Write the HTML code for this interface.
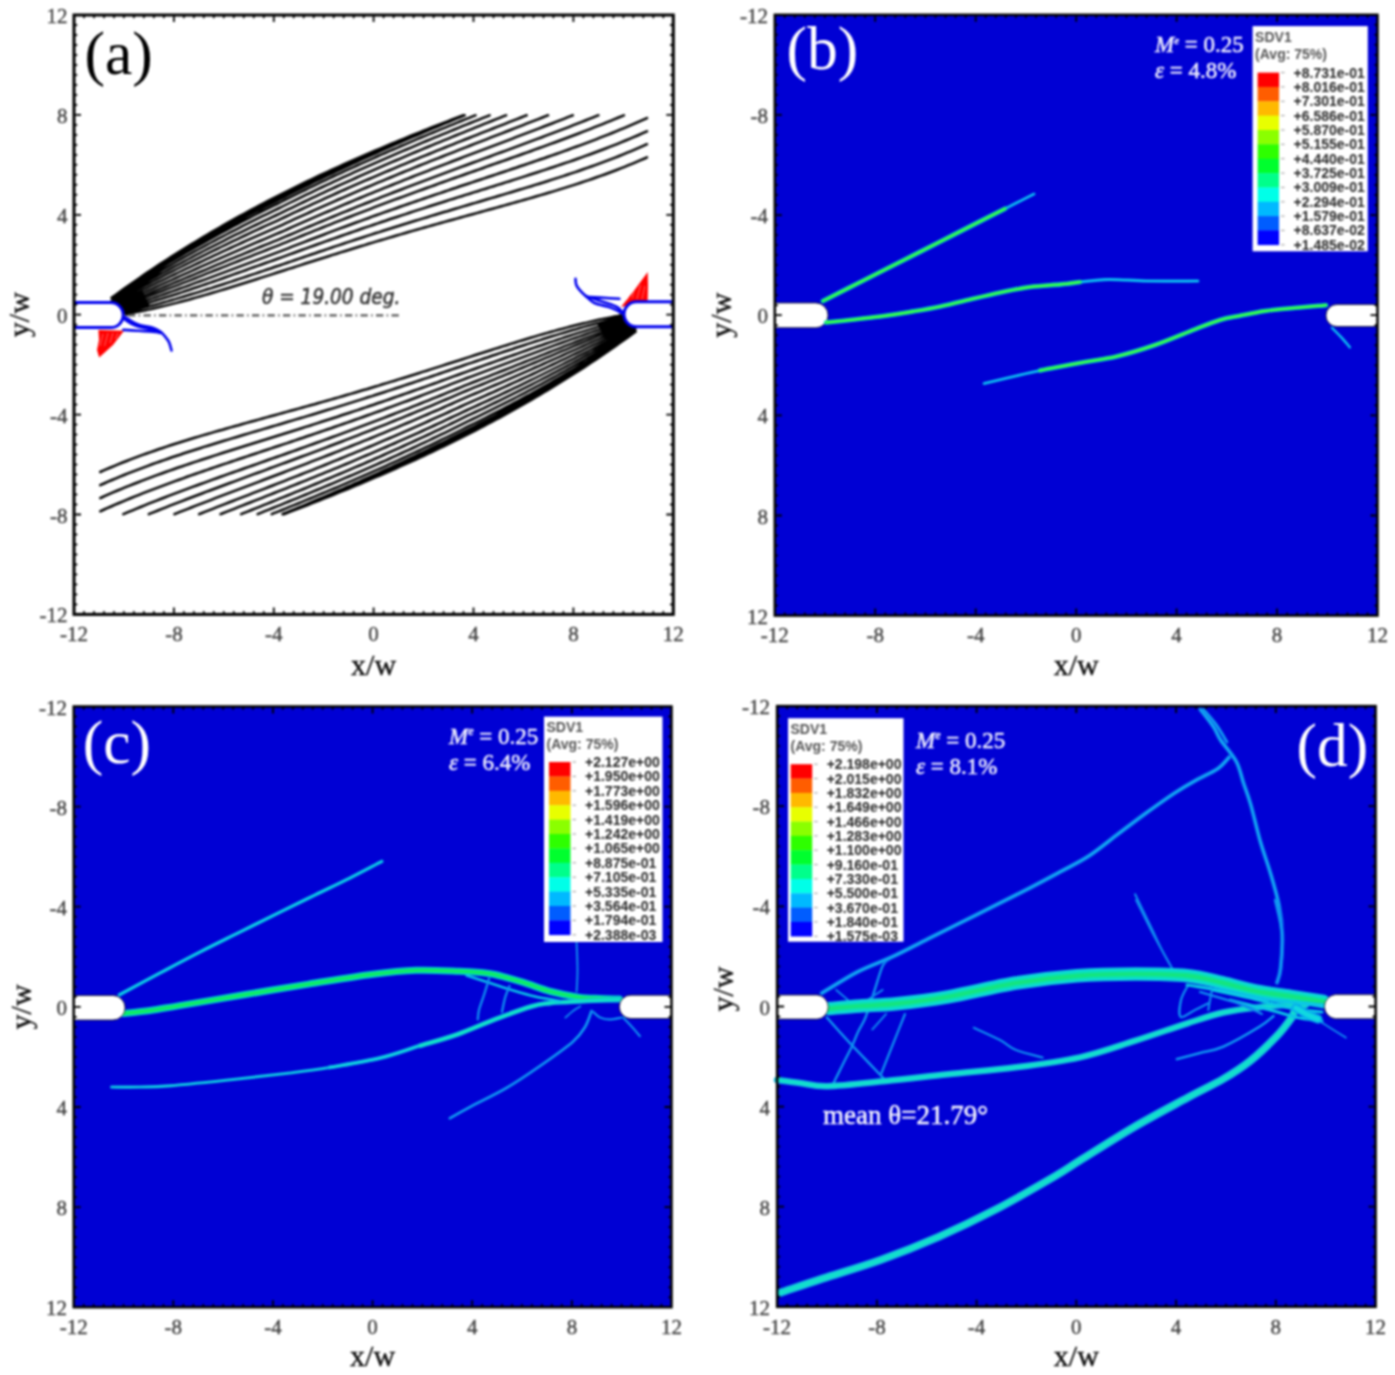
<!DOCTYPE html><html><head><meta charset="utf-8"><title>Figure</title><style>
html,body{margin:0;padding:0;background:#fff;}
body{width:1395px;height:1375px;overflow:hidden;}
svg{display:block;}
.wrap{width:1395px;height:1375px;background:#fff;filter:blur(0.9px);}
.tl text{font-family:"Liberation Serif",serif;font-size:21px;fill:#404040;stroke:#404040;stroke-width:0.35px;}
.at{font-family:"Liberation Serif",serif;font-size:30px;fill:#111;stroke:#111;stroke-width:0.4px;}
.pl{font-family:"Liberation Serif",serif;font-size:61.5px;fill:#000;}
.plw{fill:#fff;}
.th{font-family:"DejaVu Sans Condensed","DejaVu Sans",sans-serif;font-size:20.6px;font-style:italic;fill:#383838;stroke:#383838;stroke-width:0.55px;}
.lg{font-family:"Liberation Sans",sans-serif;font-size:14px;font-weight:bold;fill:#555;}
.lv text{font-family:"Liberation Sans",sans-serif;font-size:14px;font-weight:bold;fill:#2a2a2a;}
.me{font-family:"Liberation Serif",serif;font-size:23px;fill:#eeeeff;stroke:#eeeeff;stroke-width:0.5px;}
.me2{font-family:"Liberation Serif",serif;font-size:27px;fill:#f4f4ff;stroke:#f4f4ff;stroke-width:0.5px;}
</style></head><body><div class="wrap"><svg width="1395" height="1375" viewBox="0 0 1395 1375"><g id="pa">
<g fill="none" stroke="#000" stroke-width="2.5" stroke-linecap="round">
<path d="M111.5,297.8 L115.5,294.9 L119.5,292 L123.5,289.1 L127.5,286.3 L131.5,283.4 L135.5,280.7 L139.5,277.9 L143.5,275.1 L147.5,272.4 L151.5,269.7 L155.5,267.1 L159.5,264.4 L163.5,261.8 L167.5,259.2 L171.5,256.6 L175.5,254.1 L179.5,251.6 L183.5,249.1 L187.5,246.6 L191.5,244.1 L195.5,241.7 L199.5,239.2 L203.5,236.9 L207.5,234.5 L211.5,232.1 L215.5,229.8 L219.5,227.5 L223.5,225.2 L227.5,222.9 L231.5,220.7 L235.5,218.4 L239.5,216.2 L243.5,214 L247.5,211.8 L251.5,209.7 L255.5,207.5 L259.5,205.4 L263.5,203.3 L267.5,201.2 L271.5,199.1 L275.5,197.1 L279.5,195 L283.5,193 L287.5,191 L291.5,189 L295.5,187 L299.5,185.1 L303.5,183.1 L307.5,181.2 L311.5,179.3 L315.5,177.4 L319.5,175.5 L323.5,173.6 L327.5,171.8 L331.5,169.9 L335.5,168.1 L339.5,166.3 L343.5,164.5 L347.5,162.7 L351.5,160.9 L355.5,159.1 L359.5,157.4 L363.5,155.6 L367.5,153.9 L371.5,152.2 L375.5,150.5 L379.5,148.8 L383.5,147.1 L387.5,145.4 L391.5,143.7 L395.5,142.1 L399.5,140.4 L403.5,138.8 L407.5,137.2 L411.5,135.5 L415.5,133.9 L419.5,132.3 L423.5,130.7 L427.5,129.1 L431.5,127.5 L435.5,126 L439.5,124.4 L443.5,122.8 L447.5,121.3 L451.5,119.7 L455.5,118.2 L459.5,116.7 L463,115.3 M111.8,297.9 L115.8,295 L119.8,292.2 L123.8,289.4 L127.8,286.6 L131.8,283.8 L135.8,281 L139.8,278.3 L143.8,275.6 L147.8,272.9 L151.8,270.3 L155.8,267.7 L159.8,265.1 L163.8,262.5 L167.8,259.9 L171.8,257.4 L175.8,254.9 L179.8,252.4 L183.8,249.9 L187.8,247.4 L191.8,245 L195.8,242.6 L199.8,240.2 L203.8,237.8 L207.8,235.5 L211.8,233.1 L215.8,230.8 L219.8,228.5 L223.8,226.3 L227.8,224 L231.8,221.8 L235.8,219.6 L239.8,217.4 L243.8,215.2 L247.8,213 L251.8,210.9 L255.8,208.8 L259.8,206.7 L263.8,204.6 L267.8,202.5 L271.8,200.5 L275.8,198.4 L279.8,196.4 L283.8,194.4 L287.8,192.3 L291.8,190.3 L295.8,188.3 L299.8,186.4 L303.8,184.4 L307.8,182.4 L311.8,180.5 L315.8,178.6 L319.8,176.7 L323.8,174.8 L327.8,172.9 L331.8,171 L335.8,169.2 L339.8,167.3 L343.8,165.5 L347.8,163.7 L351.8,161.8 L355.8,160 L359.8,158.3 L363.8,156.5 L367.8,154.7 L371.8,153 L375.8,151.2 L379.8,149.5 L383.8,147.8 L387.8,146 L391.8,144.3 L395.8,142.6 L399.8,141 L403.8,139.3 L407.8,137.6 L411.8,135.9 L415.8,134.3 L419.8,132.6 L423.8,131 L427.8,129.4 L431.8,127.8 L435.8,126.1 L439.8,124.5 L443.8,122.9 L447.8,121.3 L451.8,119.7 L455.8,118.2 L459.8,116.6 L463.1,115.3 M112.2,298 L116.2,295.2 L120.2,292.4 L124.2,289.6 L128.2,286.9 L132.2,284.2 L136.2,281.5 L140.2,278.8 L144.2,276.1 L148.2,273.5 L152.2,270.9 L156.2,268.3 L160.2,265.7 L164.2,263.1 L168.2,260.6 L172.2,258.1 L176.2,255.6 L180.2,253.2 L184.2,250.7 L188.2,248.3 L192.2,245.9 L196.2,243.5 L200.2,241.1 L204.2,238.8 L208.2,236.5 L212.2,234.2 L216.2,231.9 L220.2,229.6 L224.2,227.4 L228.2,225.2 L232.2,222.9 L236.2,220.7 L240.2,218.6 L244.2,216.4 L248.2,214.3 L252.2,212.2 L256.2,210.1 L260.2,208 L264.2,205.9 L268.2,203.8 L272.2,201.8 L276.2,199.8 L280.2,197.8 L284.2,195.7 L288.2,193.7 L292.2,191.7 L296.2,189.6 L300.2,187.6 L304.2,185.7 L308.2,183.7 L312.2,181.7 L316.2,179.8 L320.2,177.9 L324.2,175.9 L328.2,174 L332.2,172.1 L336.2,170.3 L340.2,168.4 L344.2,166.5 L348.2,164.7 L352.2,162.8 L356.2,161 L360.2,159.2 L364.2,157.4 L368.2,155.6 L372.2,153.8 L376.2,152 L380.2,150.3 L384.2,148.5 L388.2,146.8 L392.2,145 L396.2,143.3 L400.2,141.6 L404.2,139.9 L408.2,138.2 L412.2,136.5 L416.2,134.8 L420.2,133.1 L424.2,131.5 L428.2,129.8 L432.2,128.1 L436.2,126.5 L440.2,124.8 L444.2,123.2 L448.2,121.6 L452.2,119.9 L456.2,118.3 L460.2,116.7 L463.6,115.3 M112.5,298.2 L116.5,295.4 L120.5,292.6 L124.5,289.9 L128.5,287.2 L132.5,284.5 L136.5,281.9 L140.5,279.2 L144.5,276.6 L148.5,274 L152.5,271.4 L156.5,268.9 L160.5,266.3 L164.5,263.8 L168.5,261.3 L172.5,258.9 L176.5,256.4 L180.5,254 L184.5,251.6 L188.5,249.2 L192.5,246.8 L196.5,244.4 L200.5,242.1 L204.5,239.8 L208.5,237.5 L212.5,235.2 L216.5,233 L220.5,230.7 L224.5,228.5 L228.5,226.3 L232.5,224.1 L236.5,221.9 L240.5,219.8 L244.5,217.6 L248.5,215.5 L252.5,213.4 L256.5,211.3 L260.5,209.3 L264.5,207.2 L268.5,205.2 L272.5,203.1 L276.5,201.1 L280.5,199.1 L284.5,197.1 L288.5,195 L292.5,193 L296.5,191 L300.5,188.9 L304.5,186.9 L308.5,185 L312.5,183 L316.5,181 L320.5,179.1 L324.5,177.1 L328.5,175.2 L332.5,173.3 L336.5,171.4 L340.5,169.5 L344.5,167.6 L348.5,165.8 L352.5,163.9 L356.5,162.1 L360.5,160.2 L364.5,158.4 L368.5,156.6 L372.5,154.8 L376.5,153 L380.5,151.2 L384.5,149.4 L388.5,147.6 L392.5,145.9 L396.5,144.1 L400.5,142.4 L404.5,140.6 L408.5,138.9 L412.5,137.2 L416.5,135.5 L420.5,133.8 L424.5,132.1 L428.5,130.4 L432.5,128.7 L436.5,127 L440.5,125.3 L444.5,123.6 L448.5,122 L452.5,120.3 L456.5,118.7 L460.5,117 L464.5,115.4 L464.7,115.3 M113.2,298.5 L117.2,295.8 L121.2,293.2 L125.2,290.5 L129.2,287.9 L133.2,285.3 L137.2,282.7 L141.2,280.2 L145.2,277.7 L149.2,275.1 L153.2,272.6 L157.2,270.2 L161.2,267.7 L165.2,265.3 L169.2,262.8 L173.2,260.4 L177.2,258 L181.2,255.7 L185.2,253.3 L189.2,251 L193.2,248.7 L197.2,246.4 L201.2,244.1 L205.2,241.8 L209.2,239.6 L213.2,237.4 L217.2,235.1 L221.2,233 L225.2,230.8 L229.2,228.6 L233.2,226.5 L237.2,224.3 L241.2,222.2 L245.2,220.1 L249.2,218.1 L253.2,216 L257.2,214 L261.2,211.9 L265.2,209.9 L269.2,207.9 L273.2,205.9 L277.2,204 L281.2,202 L285.2,199.9 L289.2,197.9 L293.2,195.9 L297.2,193.9 L301.2,191.9 L305.2,190 L309.2,188 L313.2,186.1 L317.2,184.1 L321.2,182.2 L325.2,180.3 L329.2,178.4 L333.2,176.5 L337.2,174.7 L341.2,172.8 L345.2,170.9 L349.2,169.1 L353.2,167.3 L357.2,165.5 L361.2,163.6 L365.2,161.8 L369.2,160.1 L373.2,158.3 L377.2,156.5 L381.2,154.7 L385.2,153 L389.2,151.2 L393.2,149.5 L397.2,147.8 L401.2,146 L405.2,144.3 L409.2,142.6 L413.2,140.9 L417.2,139.2 L421.2,137.5 L425.2,135.9 L429.2,134.2 L433.2,132.5 L437.2,130.9 L441.2,129.2 L445.2,127.6 L449.2,125.9 L453.2,124.3 L457.2,122.7 L461.2,121 L465.2,119.4 L469.2,117.8 L473.2,116.2 L475.5,115.3 M114.4,299.1 L118.4,296.5 L122.4,294 L126.4,291.6 L130.4,289.1 L134.4,286.6 L138.4,284.2 L142.4,281.8 L146.4,279.4 L150.4,277 L154.4,274.6 L158.4,272.3 L162.4,269.9 L166.4,267.6 L170.4,265.3 L174.4,263 L178.4,260.7 L182.4,258.4 L186.4,256.2 L190.4,253.9 L194.4,251.7 L198.4,249.5 L202.4,247.3 L206.4,245.1 L210.4,243 L214.4,240.8 L218.4,238.7 L222.4,236.6 L226.4,234.5 L230.4,232.4 L234.4,230.3 L238.4,228.3 L242.4,226.2 L246.4,224.2 L250.4,222.2 L254.4,220.2 L258.4,218.2 L262.4,216.2 L266.4,214.3 L270.4,212.3 L274.4,210.4 L278.4,208.5 L282.4,206.5 L286.4,204.5 L290.4,202.5 L294.4,200.6 L298.4,198.6 L302.4,196.6 L306.4,194.7 L310.4,192.8 L314.4,190.9 L318.4,188.9 L322.4,187 L326.4,185.2 L330.4,183.3 L334.4,181.4 L338.4,179.6 L342.4,177.7 L346.4,175.9 L350.4,174.1 L354.4,172.2 L358.4,170.4 L362.4,168.6 L366.4,166.9 L370.4,165.1 L374.4,163.3 L378.4,161.6 L382.4,159.8 L386.4,158.1 L390.4,156.3 L394.4,154.6 L398.4,152.9 L402.4,151.2 L406.4,149.5 L410.4,147.8 L414.4,146.1 L418.4,144.4 L422.4,142.7 L426.4,141 L430.4,139.4 L434.4,137.7 L438.4,136.1 L442.4,134.4 L446.4,132.8 L450.4,131.1 L454.4,129.5 L458.4,127.9 L462.4,126.2 L466.4,124.6 L470.4,123 L474.4,121.4 L478.4,119.8 L482.4,118.2 L486.4,116.6 L489.6,115.3 M115.7,299.8 L119.7,297.5 L123.7,295.2 L127.7,292.8 L131.7,290.5 L135.7,288.2 L139.7,286 L143.7,283.7 L147.7,281.4 L151.7,279.2 L155.7,276.9 L159.7,274.7 L163.7,272.5 L167.7,270.3 L171.7,268.1 L175.7,265.9 L179.7,263.8 L183.7,261.6 L187.7,259.5 L191.7,257.3 L195.7,255.2 L199.7,253.1 L203.7,251 L207.7,248.9 L211.7,246.9 L215.7,244.8 L219.7,242.8 L223.7,240.8 L227.7,238.7 L231.7,236.7 L235.7,234.7 L239.7,232.8 L243.7,230.8 L247.7,228.8 L251.7,226.9 L255.7,225 L259.7,223.1 L263.7,221.1 L267.7,219.3 L271.7,217.4 L275.7,215.5 L279.7,213.7 L283.7,211.7 L287.7,209.7 L291.7,207.8 L295.7,205.9 L299.7,203.9 L303.7,202 L307.7,200.1 L311.7,198.2 L315.7,196.3 L319.7,194.4 L323.7,192.6 L327.7,190.7 L331.7,188.9 L335.7,187 L339.7,185.2 L343.7,183.4 L347.7,181.6 L351.7,179.8 L355.7,178 L359.7,176.2 L363.7,174.4 L367.7,172.6 L371.7,170.9 L375.7,169.1 L379.7,167.4 L383.7,165.6 L387.7,163.9 L391.7,162.2 L395.7,160.5 L399.7,158.8 L403.7,157.1 L407.7,155.4 L411.7,153.7 L415.7,152 L419.7,150.4 L423.7,148.7 L427.7,147 L431.7,145.4 L435.7,143.7 L439.7,142.1 L443.7,140.4 L447.7,138.8 L451.7,137.2 L455.7,135.5 L459.7,133.9 L463.7,132.3 L467.7,130.7 L471.7,129.1 L475.7,127.4 L479.7,125.8 L483.7,124.2 L487.7,122.6 L491.7,121 L495.7,119.4 L499.7,117.8 L503.7,116.2 L506.1,115.3 M117,300.7 L121,298.5 L125,296.4 L129,294.2 L133,292.1 L137,290 L141,287.8 L145,285.7 L149,283.6 L153,281.5 L157,279.4 L161,277.3 L165,275.2 L169,273.2 L173,271.1 L177,269 L181,267 L185,264.9 L189,262.9 L193,260.9 L197,258.9 L201,256.9 L205,254.9 L209,252.9 L213,250.9 L217,249 L221,247 L225,245.1 L229,243.1 L233,241.2 L237,239.3 L241,237.4 L245,235.5 L249,233.6 L253,231.7 L257,229.9 L261,228 L265,226.2 L269,224.4 L273,222.6 L277,220.8 L281,218.9 L285,217 L289,215.1 L293,213.2 L297,211.4 L301,209.5 L305,207.6 L309,205.8 L313,203.9 L317,202.1 L321,200.3 L325,198.4 L329,196.6 L333,194.8 L337,193 L341,191.2 L345,189.5 L349,187.7 L353,185.9 L357,184.2 L361,182.4 L365,180.7 L369,179 L373,177.3 L377,175.6 L381,173.9 L385,172.2 L389,170.5 L393,168.8 L397,167.1 L401,165.4 L405,163.8 L409,162.1 L413,160.5 L417,158.8 L421,157.2 L425,155.6 L429,154 L433,152.3 L437,150.7 L441,149.1 L445,147.5 L449,145.9 L453,144.3 L457,142.7 L461,141.1 L465,139.5 L469,138 L473,136.4 L477,134.8 L481,133.2 L485,131.6 L489,130.1 L493,128.5 L497,126.9 L501,125.4 L505,123.8 L509,122.2 L513,120.6 L517,119.1 L521,117.5 L525,115.9 L526.7,115.3 M118.4,301.8 L122.4,299.9 L126.4,297.9 L130.4,295.9 L134.4,294 L138.4,292 L142.4,290 L146.4,288.1 L150.4,286.1 L154.4,284.2 L158.4,282.2 L162.4,280.3 L166.4,278.3 L170.4,276.4 L174.4,274.5 L178.4,272.5 L182.4,270.6 L186.4,268.7 L190.4,266.8 L194.4,264.9 L198.4,263 L202.4,261.1 L206.4,259.2 L210.4,257.3 L214.4,255.4 L218.4,253.6 L222.4,251.7 L226.4,249.9 L230.4,248 L234.4,246.2 L238.4,244.4 L242.4,242.5 L246.4,240.7 L250.4,238.9 L254.4,237.1 L258.4,235.4 L262.4,233.6 L266.4,231.8 L270.4,230.1 L274.4,228.3 L278.4,226.6 L282.4,224.8 L286.4,222.9 L290.4,221.1 L294.4,219.2 L298.4,217.4 L302.4,215.6 L306.4,213.8 L310.4,212 L314.4,210.2 L318.4,208.4 L322.4,206.6 L326.4,204.8 L330.4,203.1 L334.4,201.3 L338.4,199.5 L342.4,197.8 L346.4,196.1 L350.4,194.3 L354.4,192.6 L358.4,190.9 L362.4,189.2 L366.4,187.5 L370.4,185.8 L374.4,184.1 L378.4,182.4 L382.4,180.8 L386.4,179.1 L390.4,177.5 L394.4,175.8 L398.4,174.2 L402.4,172.5 L406.4,170.9 L410.4,169.3 L414.4,167.7 L418.4,166 L422.4,164.4 L426.4,162.8 L430.4,161.2 L434.4,159.6 L438.4,158.1 L442.4,156.5 L446.4,154.9 L450.4,153.3 L454.4,151.8 L458.4,150.2 L462.4,148.6 L466.4,147.1 L470.4,145.5 L474.4,143.9 L478.4,142.4 L482.4,140.8 L486.4,139.3 L490.4,137.7 L494.4,136.2 L498.4,134.6 L502.4,133.1 L506.4,131.5 L510.4,130 L514.4,128.4 L518.4,126.9 L522.4,125.3 L526.4,123.7 L530.4,122.2 L534.4,120.6 L538.4,119.1 L542.4,117.5 L546.4,115.9 L548.1,115.3 M119.9,303.1 L123.9,301.3 L127.9,299.5 L131.9,297.8 L135.9,296 L139.9,294.2 L143.9,292.4 L147.9,290.6 L151.9,288.8 L155.9,287 L159.9,285.2 L163.9,283.4 L167.9,281.6 L171.9,279.8 L175.9,278 L179.9,276.2 L183.9,274.4 L187.9,272.6 L191.9,270.8 L195.9,269 L199.9,267.2 L203.9,265.4 L207.9,263.6 L211.9,261.9 L215.9,260.1 L219.9,258.3 L223.9,256.6 L227.9,254.8 L231.9,253.1 L235.9,251.3 L239.9,249.6 L243.9,247.8 L247.9,246.1 L251.9,244.4 L255.9,242.7 L259.9,241 L263.9,239.3 L267.9,237.6 L271.9,235.9 L275.9,234.2 L279.9,232.5 L283.9,230.8 L287.9,229 L291.9,227.2 L295.9,225.4 L299.9,223.7 L303.9,221.9 L307.9,220.1 L311.9,218.4 L315.9,216.7 L319.9,214.9 L323.9,213.2 L327.9,211.5 L331.9,209.8 L335.9,208.1 L339.9,206.4 L343.9,204.7 L347.9,203 L351.9,201.3 L355.9,199.7 L359.9,198 L363.9,196.3 L367.9,194.7 L371.9,193.1 L375.9,191.4 L379.9,189.8 L383.9,188.2 L387.9,186.6 L391.9,185 L395.9,183.4 L399.9,181.8 L403.9,180.2 L407.9,178.6 L411.9,177 L415.9,175.4 L419.9,173.9 L423.9,172.3 L427.9,170.8 L431.9,169.2 L435.9,167.7 L439.9,166.1 L443.9,164.6 L447.9,163.1 L451.9,161.5 L455.9,160 L459.9,158.5 L463.9,156.9 L467.9,155.4 L471.9,153.9 L475.9,152.4 L479.9,150.9 L483.9,149.4 L487.9,147.8 L491.9,146.3 L495.9,144.8 L499.9,143.3 L503.9,141.8 L507.9,140.3 L511.9,138.8 L515.9,137.2 L519.9,135.7 L523.9,134.2 L527.9,132.7 L531.9,131.2 L535.9,129.6 L539.9,128.1 L543.9,126.5 L547.9,125 L551.9,123.5 L555.9,121.9 L559.9,120.3 L563.9,118.8 L567.9,117.2 L571.9,115.6 L572.8,115.3 M121.3,304.5 L125.3,302.9 L129.3,301.3 L133.3,299.7 L137.3,298.1 L141.3,296.4 L145.3,294.8 L149.3,293.2 L153.3,291.5 L157.3,289.9 L161.3,288.2 L165.3,286.5 L169.3,284.9 L173.3,283.2 L177.3,281.5 L181.3,279.8 L185.3,278.2 L189.3,276.5 L193.3,274.8 L197.3,273.1 L201.3,271.5 L205.3,269.8 L209.3,268.1 L213.3,266.4 L217.3,264.7 L221.3,263.1 L225.3,261.4 L229.3,259.7 L233.3,258.1 L237.3,256.4 L241.3,254.8 L245.3,253.1 L249.3,251.5 L253.3,249.8 L257.3,248.2 L261.3,246.5 L265.3,244.9 L269.3,243.3 L273.3,241.7 L277.3,240.1 L281.3,238.4 L285.3,236.7 L289.3,235 L293.3,233.3 L297.3,231.6 L301.3,229.9 L305.3,228.2 L309.3,226.5 L313.3,224.8 L317.3,223.1 L321.3,221.5 L325.3,219.8 L329.3,218.2 L333.3,216.5 L337.3,214.9 L341.3,213.2 L345.3,211.6 L349.3,210 L353.3,208.4 L357.3,206.7 L361.3,205.1 L365.3,203.5 L369.3,202 L373.3,200.4 L377.3,198.8 L381.3,197.2 L385.3,195.7 L389.3,194.1 L393.3,192.5 L397.3,191 L401.3,189.5 L405.3,187.9 L409.3,186.4 L413.3,184.9 L417.3,183.4 L421.3,181.8 L425.3,180.3 L429.3,178.8 L433.3,177.3 L437.3,175.8 L441.3,174.3 L445.3,172.9 L449.3,171.4 L453.3,169.9 L457.3,168.4 L461.3,166.9 L465.3,165.5 L469.3,164 L473.3,162.5 L477.3,161.1 L481.3,159.6 L485.3,158.1 L489.3,156.7 L493.3,155.2 L497.3,153.7 L501.3,152.3 L505.3,150.8 L509.3,149.3 L513.3,147.8 L517.3,146.4 L521.3,144.9 L525.3,143.4 L529.3,141.9 L533.3,140.4 L537.3,138.9 L541.3,137.5 L545.3,135.9 L549.3,134.4 L553.3,132.9 L557.3,131.4 L561.3,129.9 L565.3,128.3 L569.3,126.8 L573.3,125.2 L577.3,123.7 L581.3,122.1 L585.3,120.5 L589.3,118.9 L593.3,117.3 L597.3,115.7 L598.4,115.3 M122.6,305.9 L126.6,304.4 L130.6,303 L134.6,301.5 L138.6,300 L142.6,298.6 L146.6,297.1 L150.6,295.5 L154.6,294 L158.6,292.5 L162.6,291 L166.6,289.4 L170.6,287.9 L174.6,286.3 L178.6,284.8 L182.6,283.2 L186.6,281.6 L190.6,280.1 L194.6,278.5 L198.6,276.9 L202.6,275.3 L206.6,273.7 L210.6,272.1 L214.6,270.5 L218.6,269 L222.6,267.4 L226.6,265.8 L230.6,264.2 L234.6,262.6 L238.6,261 L242.6,259.4 L246.6,257.9 L250.6,256.3 L254.6,254.7 L258.6,253.1 L262.6,251.6 L266.6,250 L270.6,248.4 L274.6,246.9 L278.6,245.3 L282.6,243.7 L286.6,242.1 L290.6,240.4 L294.6,238.8 L298.6,237.2 L302.6,235.5 L306.6,233.9 L310.6,232.3 L314.6,230.7 L318.6,229.1 L322.6,227.5 L326.6,225.9 L330.6,224.3 L334.6,222.7 L338.6,221.1 L342.6,219.6 L346.6,218 L350.6,216.5 L354.6,214.9 L358.6,213.4 L362.6,211.8 L366.6,210.3 L370.6,208.8 L374.6,207.2 L378.6,205.7 L382.6,204.2 L386.6,202.7 L390.6,201.2 L394.6,199.7 L398.6,198.3 L402.6,196.8 L406.6,195.3 L410.6,193.8 L414.6,192.4 L418.6,190.9 L422.6,189.5 L426.6,188 L430.6,186.6 L434.6,185.2 L438.6,183.7 L442.6,182.3 L446.6,180.9 L450.6,179.4 L454.6,178 L458.6,176.6 L462.6,175.2 L466.6,173.8 L470.6,172.4 L474.6,171 L478.6,169.6 L482.6,168.2 L486.6,166.7 L490.6,165.3 L494.6,163.9 L498.6,162.5 L502.6,161.1 L506.6,159.7 L510.6,158.3 L514.6,156.9 L518.6,155.5 L522.6,154 L526.6,152.6 L530.6,151.2 L534.6,149.7 L538.6,148.3 L542.6,146.8 L546.6,145.4 L550.6,143.9 L554.6,142.5 L558.6,141 L562.6,139.5 L566.6,138 L570.6,136.5 L574.6,135 L578.6,133.5 L582.6,131.9 L586.6,130.4 L590.6,128.8 L594.6,127.2 L598.6,125.7 L602.6,124.1 L606.6,122.4 L610.6,120.8 L614.6,119.1 L618.6,117.5 L622.6,115.8 L623.9,115.3 M124.1,307.5 L128.1,306.3 L132.1,305 L136.1,303.7 L140.1,302.4 L144.1,301.1 L148.1,299.7 L152.1,298.4 L156.1,297 L160.1,295.6 L164.1,294.2 L168.1,292.8 L172.1,291.4 L176.1,290 L180.1,288.5 L184.1,287.1 L188.1,285.7 L192.1,284.2 L196.1,282.7 L200.1,281.3 L204.1,279.8 L208.1,278.3 L212.1,276.8 L216.1,275.3 L220.1,273.8 L224.1,272.3 L228.1,270.8 L232.1,269.3 L236.1,267.8 L240.1,266.3 L244.1,264.8 L248.1,263.3 L252.1,261.8 L256.1,260.3 L260.1,258.8 L264.1,257.3 L268.1,255.8 L272.1,254.3 L276.1,252.8 L280.1,251.4 L284.1,249.8 L288.1,248.3 L292.1,246.7 L296.1,245.2 L300.1,243.6 L304.1,242.1 L308.1,240.5 L312.1,239 L316.1,237.5 L320.1,236 L324.1,234.5 L328.1,232.9 L332.1,231.4 L336.1,229.9 L340.1,228.4 L344.1,227 L348.1,225.5 L352.1,224 L356.1,222.5 L360.1,221.1 L364.1,219.6 L368.1,218.2 L372.1,216.7 L376.1,215.3 L380.1,213.9 L384.1,212.4 L388.1,211 L392.1,209.6 L396.1,208.2 L400.1,206.8 L404.1,205.4 L408.1,204 L412.1,202.6 L416.1,201.2 L420.1,199.9 L424.1,198.5 L428.1,197.1 L432.1,195.8 L436.1,194.4 L440.1,193.1 L444.1,191.7 L448.1,190.4 L452.1,189 L456.1,187.7 L460.1,186.3 L464.1,185 L468.1,183.7 L472.1,182.4 L476.1,181 L480.1,179.7 L484.1,178.4 L488.1,177 L492.1,175.7 L496.1,174.4 L500.1,173 L504.1,171.7 L508.1,170.4 L512.1,169 L516.1,167.7 L520.1,166.3 L524.1,165 L528.1,163.6 L532.1,162.3 L536.1,160.9 L540.1,159.5 L544.1,158.2 L548.1,156.8 L552.1,155.4 L556.1,154 L560.1,152.6 L564.1,151.1 L568.1,149.7 L572.1,148.2 L576.1,146.8 L580.1,145.3 L584.1,143.8 L588.1,142.3 L592.1,140.8 L596.1,139.3 L600.1,137.7 L604.1,136.2 L608.1,134.6 L612.1,133 L616.1,131.4 L620.1,129.7 L624.1,128.1 L628.1,126.4 L632.1,124.7 L636.1,122.9 L640.1,121.2 L644.1,119.4 L647,118.1 M125.6,309.3 L129.6,308.2 L133.6,307.1 L137.6,306 L141.6,304.8 L145.6,303.7 L149.6,302.5 L153.6,301.3 L157.6,300 L161.6,298.8 L165.6,297.5 L169.6,296.3 L173.6,295 L177.6,293.7 L181.6,292.4 L185.6,291 L189.6,289.7 L193.6,288.3 L197.6,287 L201.6,285.6 L205.6,284.2 L209.6,282.9 L213.6,281.5 L217.6,280.1 L221.6,278.7 L225.6,277.3 L229.6,275.8 L233.6,274.4 L237.6,273 L241.6,271.6 L245.6,270.2 L249.6,268.7 L253.6,267.3 L257.6,265.9 L261.6,264.5 L265.6,263 L269.6,261.6 L273.6,260.2 L277.6,258.8 L281.6,257.3 L285.6,255.9 L289.6,254.4 L293.6,253 L297.6,251.5 L301.6,250 L305.6,248.6 L309.6,247.1 L313.6,245.7 L317.6,244.3 L321.6,242.8 L325.6,241.4 L329.6,240 L333.6,238.6 L337.6,237.2 L341.6,235.8 L345.6,234.4 L349.6,233 L353.6,231.6 L357.6,230.2 L361.6,228.8 L365.6,227.4 L369.6,226.1 L373.6,224.7 L377.6,223.4 L381.6,222 L385.6,220.7 L389.6,219.3 L393.6,218 L397.6,216.7 L401.6,215.4 L405.6,214.1 L409.6,212.7 L413.6,211.4 L417.6,210.1 L421.6,208.9 L425.6,207.6 L429.6,206.3 L433.6,205 L437.6,203.7 L441.6,202.5 L445.6,201.2 L449.6,199.9 L453.6,198.7 L457.6,197.4 L461.6,196.2 L465.6,194.9 L469.6,193.7 L473.6,192.4 L477.6,191.2 L481.6,189.9 L485.6,188.7 L489.6,187.4 L493.6,186.2 L497.6,184.9 L501.6,183.7 L505.6,182.4 L509.6,181.2 L513.6,179.9 L517.6,178.6 L521.6,177.4 L525.6,176.1 L529.6,174.8 L533.6,173.5 L537.6,172.2 L541.6,170.9 L545.6,169.6 L549.6,168.3 L553.6,167 L557.6,165.6 L561.6,164.3 L565.6,162.9 L569.6,161.6 L573.6,160.2 L577.6,158.8 L581.6,157.4 L585.6,155.9 L589.6,154.5 L593.6,153 L597.6,151.5 L601.6,150 L605.6,148.5 L609.6,146.9 L613.6,145.4 L617.6,143.8 L621.6,142.2 L625.6,140.5 L629.6,138.9 L633.6,137.2 L637.6,135.5 L641.6,133.7 L645.6,131.9 L647,131.3 M127.2,311.5 L131.2,310.6 L135.2,309.6 L139.2,308.7 L143.2,307.7 L147.2,306.7 L151.2,305.7 L155.2,304.7 L159.2,303.6 L163.2,302.5 L167.2,301.4 L171.2,300.2 L175.2,299.1 L179.2,297.9 L183.2,296.7 L187.2,295.5 L191.2,294.3 L195.2,293.1 L199.2,291.9 L203.2,290.6 L207.2,289.3 L211.2,288.1 L215.2,286.8 L219.2,285.5 L223.2,284.2 L227.2,282.9 L231.2,281.6 L235.2,280.2 L239.2,278.9 L243.2,277.6 L247.2,276.3 L251.2,274.9 L255.2,273.6 L259.2,272.2 L263.2,270.9 L267.2,269.5 L271.2,268.2 L275.2,266.8 L279.2,265.5 L283.2,264.1 L287.2,262.7 L291.2,261.4 L295.2,260 L299.2,258.6 L303.2,257.3 L307.2,255.9 L311.2,254.5 L315.2,253.2 L319.2,251.8 L323.2,250.5 L327.2,249.1 L331.2,247.8 L335.2,246.4 L339.2,245.1 L343.2,243.8 L347.2,242.4 L351.2,241.1 L355.2,239.8 L359.2,238.5 L363.2,237.2 L367.2,235.9 L371.2,234.6 L375.2,233.3 L379.2,232.1 L383.2,230.8 L387.2,229.5 L391.2,228.3 L395.2,227 L399.2,225.8 L403.2,224.5 L407.2,223.3 L411.2,222 L415.2,220.8 L419.2,219.6 L423.2,218.4 L427.2,217.2 L431.2,215.9 L435.2,214.7 L439.2,213.5 L443.2,212.3 L447.2,211.2 L451.2,210 L455.2,208.8 L459.2,207.6 L463.2,206.4 L467.2,205.2 L471.2,204 L475.2,202.9 L479.2,201.7 L483.2,200.5 L487.2,199.3 L491.2,198.1 L495.2,197 L499.2,195.8 L503.2,194.6 L507.2,193.4 L511.2,192.2 L515.2,191 L519.2,189.8 L523.2,188.6 L527.2,187.4 L531.2,186.2 L535.2,184.9 L539.2,183.7 L543.2,182.5 L547.2,181.2 L551.2,179.9 L555.2,178.6 L559.2,177.4 L563.2,176.1 L567.2,174.7 L571.2,173.4 L575.2,172.1 L579.2,170.7 L583.2,169.3 L587.2,167.9 L591.2,166.5 L595.2,165.1 L599.2,163.6 L603.2,162.1 L607.2,160.6 L611.2,159.1 L615.2,157.6 L619.2,156 L623.2,154.4 L627.2,152.7 L631.2,151.1 L635.2,149.4 L639.2,147.7 L643.2,145.9 L647,144.2 M128.6,313.5 L132.6,312.8 L136.6,312 L140.6,311.2 L144.6,310.4 L148.6,309.6 L152.6,308.7 L156.6,307.8 L160.6,306.8 L164.6,305.9 L168.6,304.9 L172.6,303.9 L176.6,302.9 L180.6,301.8 L184.6,300.7 L188.6,299.7 L192.6,298.5 L196.6,297.4 L200.6,296.3 L204.6,295.1 L208.6,294 L212.6,292.8 L216.6,291.6 L220.6,290.4 L224.6,289.2 L228.6,288 L232.6,286.7 L236.6,285.5 L240.6,284.2 L244.6,283 L248.6,281.7 L252.6,280.5 L256.6,279.2 L260.6,277.9 L264.6,276.6 L268.6,275.4 L272.6,274.1 L276.6,272.8 L280.6,271.5 L284.6,270.2 L288.6,268.9 L292.6,267.7 L296.6,266.4 L300.6,265.1 L304.6,263.8 L308.6,262.5 L312.6,261.3 L316.6,260 L320.6,258.7 L324.6,257.5 L328.6,256.2 L332.6,254.9 L336.6,253.7 L340.6,252.4 L344.6,251.2 L348.6,250 L352.6,248.7 L356.6,247.5 L360.6,246.3 L364.6,245.1 L368.6,243.8 L372.6,242.6 L376.6,241.4 L380.6,240.2 L384.6,239.1 L388.6,237.9 L392.6,236.7 L396.6,235.5 L400.6,234.4 L404.6,233.2 L408.6,232 L412.6,230.9 L416.6,229.8 L420.6,228.6 L424.6,227.5 L428.6,226.4 L432.6,225.2 L436.6,224.1 L440.6,223 L444.6,221.9 L448.6,220.8 L452.6,219.7 L456.6,218.6 L460.6,217.5 L464.6,216.4 L468.6,215.3 L472.6,214.2 L476.6,213.1 L480.6,212 L484.6,210.9 L488.6,209.8 L492.6,208.7 L496.6,207.6 L500.6,206.5 L504.6,205.4 L508.6,204.2 L512.6,203.1 L516.6,202 L520.6,200.9 L524.6,199.7 L528.6,198.6 L532.6,197.5 L536.6,196.3 L540.6,195.1 L544.6,194 L548.6,192.8 L552.6,191.6 L556.6,190.4 L560.6,189.1 L564.6,187.9 L568.6,186.6 L572.6,185.4 L576.6,184.1 L580.6,182.8 L584.6,181.4 L588.6,180.1 L592.6,178.7 L596.6,177.3 L600.6,175.9 L604.6,174.5 L608.6,173 L612.6,171.5 L616.6,170 L620.6,168.4 L624.6,166.9 L628.6,165.2 L632.6,163.6 L636.6,161.9 L640.6,160.2 L644.6,158.5 L647,157.4"/>
<path d="M111.5,297.8 L115.5,294.9 L119.5,292 L123.5,289.1 L127.5,286.3 L131.5,283.4 L135.5,280.7 L139.5,277.9 L143.5,275.1 L147.5,272.4 L151.5,269.7 L155.5,267.1 L159.5,264.4 L163.5,261.8 L167.5,259.2 L171.5,256.6 L175.5,254.1 L179.5,251.6 L183.5,249.1 L187.5,246.6 L191.5,244.1 L195.5,241.7 L199.5,239.2 L203.5,236.9 L207.5,234.5 L211.5,232.1 L215.5,229.8 L219.5,227.5 L223.5,225.2 L227.5,222.9 L231.5,220.7 L235.5,218.4 L239.5,216.2 L243.5,214 L247.5,211.8 L251.5,209.7 L255.5,207.5 L259.5,205.4 L263.5,203.3 L267.5,201.2 L271.5,199.1 L275.5,197.1 L279.5,195 L283.5,193 L287.5,191 L291.5,189 L295.5,187 L299.5,185.1 L303.5,183.1 L307.5,181.2 L311.5,179.3 L315.5,177.4 L319.5,175.5 L323.5,173.6 L327.5,171.8 L331.5,169.9 L335.5,168.1 L339.5,166.3 L343.5,164.5 L347.5,162.7 L351.5,160.9 L355.5,159.1 L359.5,157.4 L363.5,155.6 L367.5,153.9 L371.5,152.2 L375.5,150.5 L379.5,148.8 L383.5,147.1 L387.5,145.4 L391.5,143.7 L395.5,142.1 L399.5,140.4 L403.5,138.8 L407.5,137.2 L411.5,135.5 L415.5,133.9 L419.5,132.3 L423.5,130.7 L427.5,129.1 L431.5,127.5 L435.5,126 L439.5,124.4 L443.5,122.8 L447.5,121.3 L451.5,119.7 L455.5,118.2 L459.5,116.7 L463,115.3 M111.8,297.9 L115.8,295 L119.8,292.2 L123.8,289.4 L127.8,286.6 L131.8,283.8 L135.8,281 L139.8,278.3 L143.8,275.6 L147.8,272.9 L151.8,270.3 L155.8,267.7 L159.8,265.1 L163.8,262.5 L167.8,259.9 L171.8,257.4 L175.8,254.9 L179.8,252.4 L183.8,249.9 L187.8,247.4 L191.8,245 L195.8,242.6 L199.8,240.2 L203.8,237.8 L207.8,235.5 L211.8,233.1 L215.8,230.8 L219.8,228.5 L223.8,226.3 L227.8,224 L231.8,221.8 L235.8,219.6 L239.8,217.4 L243.8,215.2 L247.8,213 L251.8,210.9 L255.8,208.8 L259.8,206.7 L263.8,204.6 L267.8,202.5 L271.8,200.5 L275.8,198.4 L279.8,196.4 L283.8,194.4 L287.8,192.3 L291.8,190.3 L295.8,188.3 L299.8,186.4 L303.8,184.4 L307.8,182.4 L311.8,180.5 L315.8,178.6 L319.8,176.7 L323.8,174.8 L327.8,172.9 L331.8,171 L335.8,169.2 L339.8,167.3 L343.8,165.5 L347.8,163.7 L351.8,161.8 L355.8,160 L359.8,158.3 L363.8,156.5 L367.8,154.7 L371.8,153 L375.8,151.2 L379.8,149.5 L383.8,147.8 L387.8,146 L391.8,144.3 L395.8,142.6 L399.8,141 L403.8,139.3 L407.8,137.6 L411.8,135.9 L415.8,134.3 L419.8,132.6 L423.8,131 L427.8,129.4 L431.8,127.8 L435.8,126.1 L439.8,124.5 L443.8,122.9 L447.8,121.3 L451.8,119.7 L455.8,118.2 L459.8,116.6 L463.1,115.3 M112.2,298 L116.2,295.2 L120.2,292.4 L124.2,289.6 L128.2,286.9 L132.2,284.2 L136.2,281.5 L140.2,278.8 L144.2,276.1 L148.2,273.5 L152.2,270.9 L156.2,268.3 L160.2,265.7 L164.2,263.1 L168.2,260.6 L172.2,258.1 L176.2,255.6 L180.2,253.2 L184.2,250.7 L188.2,248.3 L192.2,245.9 L196.2,243.5 L200.2,241.1 L204.2,238.8 L208.2,236.5 L212.2,234.2 L216.2,231.9 L220.2,229.6 L224.2,227.4 L228.2,225.2 L232.2,222.9 L236.2,220.7 L240.2,218.6 L244.2,216.4 L248.2,214.3 L252.2,212.2 L256.2,210.1 L260.2,208 L264.2,205.9 L268.2,203.8 L272.2,201.8 L276.2,199.8 L280.2,197.8 L284.2,195.7 L288.2,193.7 L292.2,191.7 L296.2,189.6 L300.2,187.6 L304.2,185.7 L308.2,183.7 L312.2,181.7 L316.2,179.8 L320.2,177.9 L324.2,175.9 L328.2,174 L332.2,172.1 L336.2,170.3 L340.2,168.4 L344.2,166.5 L348.2,164.7 L352.2,162.8 L356.2,161 L360.2,159.2 L364.2,157.4 L368.2,155.6 L372.2,153.8 L376.2,152 L380.2,150.3 L384.2,148.5 L388.2,146.8 L392.2,145 L396.2,143.3 L400.2,141.6 L404.2,139.9 L408.2,138.2 L412.2,136.5 L416.2,134.8 L420.2,133.1 L424.2,131.5 L428.2,129.8 L432.2,128.1 L436.2,126.5 L440.2,124.8 L444.2,123.2 L448.2,121.6 L452.2,119.9 L456.2,118.3 L460.2,116.7 L463.6,115.3 M112.5,298.2 L116.5,295.4 L120.5,292.6 L124.5,289.9 L128.5,287.2 L132.5,284.5 L136.5,281.9 L140.5,279.2 L144.5,276.6 L148.5,274 L152.5,271.4 L156.5,268.9 L160.5,266.3 L164.5,263.8 L168.5,261.3 L172.5,258.9 L176.5,256.4 L180.5,254 L184.5,251.6 L188.5,249.2 L192.5,246.8 L196.5,244.4 L200.5,242.1 L204.5,239.8 L208.5,237.5 L212.5,235.2 L216.5,233 L220.5,230.7 L224.5,228.5 L228.5,226.3 L232.5,224.1 L236.5,221.9 L240.5,219.8 L244.5,217.6 L248.5,215.5 L252.5,213.4 L256.5,211.3 L260.5,209.3 L264.5,207.2 L268.5,205.2 L272.5,203.1 L276.5,201.1 L280.5,199.1 L284.5,197.1 L288.5,195 L292.5,193 L296.5,191 L300.5,188.9 L304.5,186.9 L308.5,185 L312.5,183 L316.5,181 L320.5,179.1 L324.5,177.1 L328.5,175.2 L332.5,173.3 L336.5,171.4 L340.5,169.5 L344.5,167.6 L348.5,165.8 L352.5,163.9 L356.5,162.1 L360.5,160.2 L364.5,158.4 L368.5,156.6 L372.5,154.8 L376.5,153 L380.5,151.2 L384.5,149.4 L388.5,147.6 L392.5,145.9 L396.5,144.1 L400.5,142.4 L404.5,140.6 L408.5,138.9 L412.5,137.2 L416.5,135.5 L420.5,133.8 L424.5,132.1 L428.5,130.4 L432.5,128.7 L436.5,127 L440.5,125.3 L444.5,123.6 L448.5,122 L452.5,120.3 L456.5,118.7 L460.5,117 L464.5,115.4 L464.7,115.3 M113.2,298.5 L117.2,295.8 L121.2,293.2 L125.2,290.5 L129.2,287.9 L133.2,285.3 L137.2,282.7 L141.2,280.2 L145.2,277.7 L149.2,275.1 L153.2,272.6 L157.2,270.2 L161.2,267.7 L165.2,265.3 L169.2,262.8 L173.2,260.4 L177.2,258 L181.2,255.7 L185.2,253.3 L189.2,251 L193.2,248.7 L197.2,246.4 L201.2,244.1 L205.2,241.8 L209.2,239.6 L213.2,237.4 L217.2,235.1 L221.2,233 L225.2,230.8 L229.2,228.6 L233.2,226.5 L237.2,224.3 L241.2,222.2 L245.2,220.1 L249.2,218.1 L253.2,216 L257.2,214 L261.2,211.9 L265.2,209.9 L269.2,207.9 L273.2,205.9 L277.2,204 L281.2,202 L285.2,199.9 L289.2,197.9 L293.2,195.9 L297.2,193.9 L301.2,191.9 L305.2,190 L309.2,188 L313.2,186.1 L317.2,184.1 L321.2,182.2 L325.2,180.3 L329.2,178.4 L333.2,176.5 L337.2,174.7 L341.2,172.8 L345.2,170.9 L349.2,169.1 L353.2,167.3 L357.2,165.5 L361.2,163.6 L365.2,161.8 L369.2,160.1 L373.2,158.3 L377.2,156.5 L381.2,154.7 L385.2,153 L389.2,151.2 L393.2,149.5 L397.2,147.8 L401.2,146 L405.2,144.3 L409.2,142.6 L413.2,140.9 L417.2,139.2 L421.2,137.5 L425.2,135.9 L429.2,134.2 L433.2,132.5 L437.2,130.9 L441.2,129.2 L445.2,127.6 L449.2,125.9 L453.2,124.3 L457.2,122.7 L461.2,121 L465.2,119.4 L469.2,117.8 L473.2,116.2 L475.5,115.3 M114.4,299.1 L118.4,296.5 L122.4,294 L126.4,291.6 L130.4,289.1 L134.4,286.6 L138.4,284.2 L142.4,281.8 L146.4,279.4 L150.4,277 L154.4,274.6 L158.4,272.3 L162.4,269.9 L166.4,267.6 L170.4,265.3 L174.4,263 L178.4,260.7 L182.4,258.4 L186.4,256.2 L190.4,253.9 L194.4,251.7 L198.4,249.5 L202.4,247.3 L206.4,245.1 L210.4,243 L214.4,240.8 L218.4,238.7 L222.4,236.6 L226.4,234.5 L230.4,232.4 L234.4,230.3 L238.4,228.3 L242.4,226.2 L246.4,224.2 L250.4,222.2 L254.4,220.2 L258.4,218.2 L262.4,216.2 L266.4,214.3 L270.4,212.3 L274.4,210.4 L278.4,208.5 L282.4,206.5 L286.4,204.5 L290.4,202.5 L294.4,200.6 L298.4,198.6 L302.4,196.6 L306.4,194.7 L310.4,192.8 L314.4,190.9 L318.4,188.9 L322.4,187 L326.4,185.2 L330.4,183.3 L334.4,181.4 L338.4,179.6 L342.4,177.7 L346.4,175.9 L350.4,174.1 L354.4,172.2 L358.4,170.4 L362.4,168.6 L366.4,166.9 L370.4,165.1 L374.4,163.3 L378.4,161.6 L382.4,159.8 L386.4,158.1 L390.4,156.3 L394.4,154.6 L398.4,152.9 L402.4,151.2 L406.4,149.5 L410.4,147.8 L414.4,146.1 L418.4,144.4 L422.4,142.7 L426.4,141 L430.4,139.4 L434.4,137.7 L438.4,136.1 L442.4,134.4 L446.4,132.8 L450.4,131.1 L454.4,129.5 L458.4,127.9 L462.4,126.2 L466.4,124.6 L470.4,123 L474.4,121.4 L478.4,119.8 L482.4,118.2 L486.4,116.6 L489.6,115.3 M115.7,299.8 L119.7,297.5 L123.7,295.2 L127.7,292.8 L131.7,290.5 L135.7,288.2 L139.7,286 L143.7,283.7 L147.7,281.4 L151.7,279.2 L155.7,276.9 L159.7,274.7 L163.7,272.5 L167.7,270.3 L171.7,268.1 L175.7,265.9 L179.7,263.8 L183.7,261.6 L187.7,259.5 L191.7,257.3 L195.7,255.2 L199.7,253.1 L203.7,251 L207.7,248.9 L211.7,246.9 L215.7,244.8 L219.7,242.8 L223.7,240.8 L227.7,238.7 L231.7,236.7 L235.7,234.7 L239.7,232.8 L243.7,230.8 L247.7,228.8 L251.7,226.9 L255.7,225 L259.7,223.1 L263.7,221.1 L267.7,219.3 L271.7,217.4 L275.7,215.5 L279.7,213.7 L283.7,211.7 L287.7,209.7 L291.7,207.8 L295.7,205.9 L299.7,203.9 L303.7,202 L307.7,200.1 L311.7,198.2 L315.7,196.3 L319.7,194.4 L323.7,192.6 L327.7,190.7 L331.7,188.9 L335.7,187 L339.7,185.2 L343.7,183.4 L347.7,181.6 L351.7,179.8 L355.7,178 L359.7,176.2 L363.7,174.4 L367.7,172.6 L371.7,170.9 L375.7,169.1 L379.7,167.4 L383.7,165.6 L387.7,163.9 L391.7,162.2 L395.7,160.5 L399.7,158.8 L403.7,157.1 L407.7,155.4 L411.7,153.7 L415.7,152 L419.7,150.4 L423.7,148.7 L427.7,147 L431.7,145.4 L435.7,143.7 L439.7,142.1 L443.7,140.4 L447.7,138.8 L451.7,137.2 L455.7,135.5 L459.7,133.9 L463.7,132.3 L467.7,130.7 L471.7,129.1 L475.7,127.4 L479.7,125.8 L483.7,124.2 L487.7,122.6 L491.7,121 L495.7,119.4 L499.7,117.8 L503.7,116.2 L506.1,115.3 M117,300.7 L121,298.5 L125,296.4 L129,294.2 L133,292.1 L137,290 L141,287.8 L145,285.7 L149,283.6 L153,281.5 L157,279.4 L161,277.3 L165,275.2 L169,273.2 L173,271.1 L177,269 L181,267 L185,264.9 L189,262.9 L193,260.9 L197,258.9 L201,256.9 L205,254.9 L209,252.9 L213,250.9 L217,249 L221,247 L225,245.1 L229,243.1 L233,241.2 L237,239.3 L241,237.4 L245,235.5 L249,233.6 L253,231.7 L257,229.9 L261,228 L265,226.2 L269,224.4 L273,222.6 L277,220.8 L281,218.9 L285,217 L289,215.1 L293,213.2 L297,211.4 L301,209.5 L305,207.6 L309,205.8 L313,203.9 L317,202.1 L321,200.3 L325,198.4 L329,196.6 L333,194.8 L337,193 L341,191.2 L345,189.5 L349,187.7 L353,185.9 L357,184.2 L361,182.4 L365,180.7 L369,179 L373,177.3 L377,175.6 L381,173.9 L385,172.2 L389,170.5 L393,168.8 L397,167.1 L401,165.4 L405,163.8 L409,162.1 L413,160.5 L417,158.8 L421,157.2 L425,155.6 L429,154 L433,152.3 L437,150.7 L441,149.1 L445,147.5 L449,145.9 L453,144.3 L457,142.7 L461,141.1 L465,139.5 L469,138 L473,136.4 L477,134.8 L481,133.2 L485,131.6 L489,130.1 L493,128.5 L497,126.9 L501,125.4 L505,123.8 L509,122.2 L513,120.6 L517,119.1 L521,117.5 L525,115.9 L526.7,115.3 M118.4,301.8 L122.4,299.9 L126.4,297.9 L130.4,295.9 L134.4,294 L138.4,292 L142.4,290 L146.4,288.1 L150.4,286.1 L154.4,284.2 L158.4,282.2 L162.4,280.3 L166.4,278.3 L170.4,276.4 L174.4,274.5 L178.4,272.5 L182.4,270.6 L186.4,268.7 L190.4,266.8 L194.4,264.9 L198.4,263 L202.4,261.1 L206.4,259.2 L210.4,257.3 L214.4,255.4 L218.4,253.6 L222.4,251.7 L226.4,249.9 L230.4,248 L234.4,246.2 L238.4,244.4 L242.4,242.5 L246.4,240.7 L250.4,238.9 L254.4,237.1 L258.4,235.4 L262.4,233.6 L266.4,231.8 L270.4,230.1 L274.4,228.3 L278.4,226.6 L282.4,224.8 L286.4,222.9 L290.4,221.1 L294.4,219.2 L298.4,217.4 L302.4,215.6 L306.4,213.8 L310.4,212 L314.4,210.2 L318.4,208.4 L322.4,206.6 L326.4,204.8 L330.4,203.1 L334.4,201.3 L338.4,199.5 L342.4,197.8 L346.4,196.1 L350.4,194.3 L354.4,192.6 L358.4,190.9 L362.4,189.2 L366.4,187.5 L370.4,185.8 L374.4,184.1 L378.4,182.4 L382.4,180.8 L386.4,179.1 L390.4,177.5 L394.4,175.8 L398.4,174.2 L402.4,172.5 L406.4,170.9 L410.4,169.3 L414.4,167.7 L418.4,166 L422.4,164.4 L426.4,162.8 L430.4,161.2 L434.4,159.6 L438.4,158.1 L442.4,156.5 L446.4,154.9 L450.4,153.3 L454.4,151.8 L458.4,150.2 L462.4,148.6 L466.4,147.1 L470.4,145.5 L474.4,143.9 L478.4,142.4 L482.4,140.8 L486.4,139.3 L490.4,137.7 L494.4,136.2 L498.4,134.6 L502.4,133.1 L506.4,131.5 L510.4,130 L514.4,128.4 L518.4,126.9 L522.4,125.3 L526.4,123.7 L530.4,122.2 L534.4,120.6 L538.4,119.1 L542.4,117.5 L546.4,115.9 L548.1,115.3 M119.9,303.1 L123.9,301.3 L127.9,299.5 L131.9,297.8 L135.9,296 L139.9,294.2 L143.9,292.4 L147.9,290.6 L151.9,288.8 L155.9,287 L159.9,285.2 L163.9,283.4 L167.9,281.6 L171.9,279.8 L175.9,278 L179.9,276.2 L183.9,274.4 L187.9,272.6 L191.9,270.8 L195.9,269 L199.9,267.2 L203.9,265.4 L207.9,263.6 L211.9,261.9 L215.9,260.1 L219.9,258.3 L223.9,256.6 L227.9,254.8 L231.9,253.1 L235.9,251.3 L239.9,249.6 L243.9,247.8 L247.9,246.1 L251.9,244.4 L255.9,242.7 L259.9,241 L263.9,239.3 L267.9,237.6 L271.9,235.9 L275.9,234.2 L279.9,232.5 L283.9,230.8 L287.9,229 L291.9,227.2 L295.9,225.4 L299.9,223.7 L303.9,221.9 L307.9,220.1 L311.9,218.4 L315.9,216.7 L319.9,214.9 L323.9,213.2 L327.9,211.5 L331.9,209.8 L335.9,208.1 L339.9,206.4 L343.9,204.7 L347.9,203 L351.9,201.3 L355.9,199.7 L359.9,198 L363.9,196.3 L367.9,194.7 L371.9,193.1 L375.9,191.4 L379.9,189.8 L383.9,188.2 L387.9,186.6 L391.9,185 L395.9,183.4 L399.9,181.8 L403.9,180.2 L407.9,178.6 L411.9,177 L415.9,175.4 L419.9,173.9 L423.9,172.3 L427.9,170.8 L431.9,169.2 L435.9,167.7 L439.9,166.1 L443.9,164.6 L447.9,163.1 L451.9,161.5 L455.9,160 L459.9,158.5 L463.9,156.9 L467.9,155.4 L471.9,153.9 L475.9,152.4 L479.9,150.9 L483.9,149.4 L487.9,147.8 L491.9,146.3 L495.9,144.8 L499.9,143.3 L503.9,141.8 L507.9,140.3 L511.9,138.8 L515.9,137.2 L519.9,135.7 L523.9,134.2 L527.9,132.7 L531.9,131.2 L535.9,129.6 L539.9,128.1 L543.9,126.5 L547.9,125 L551.9,123.5 L555.9,121.9 L559.9,120.3 L563.9,118.8 L567.9,117.2 L571.9,115.6 L572.8,115.3 M121.3,304.5 L125.3,302.9 L129.3,301.3 L133.3,299.7 L137.3,298.1 L141.3,296.4 L145.3,294.8 L149.3,293.2 L153.3,291.5 L157.3,289.9 L161.3,288.2 L165.3,286.5 L169.3,284.9 L173.3,283.2 L177.3,281.5 L181.3,279.8 L185.3,278.2 L189.3,276.5 L193.3,274.8 L197.3,273.1 L201.3,271.5 L205.3,269.8 L209.3,268.1 L213.3,266.4 L217.3,264.7 L221.3,263.1 L225.3,261.4 L229.3,259.7 L233.3,258.1 L237.3,256.4 L241.3,254.8 L245.3,253.1 L249.3,251.5 L253.3,249.8 L257.3,248.2 L261.3,246.5 L265.3,244.9 L269.3,243.3 L273.3,241.7 L277.3,240.1 L281.3,238.4 L285.3,236.7 L289.3,235 L293.3,233.3 L297.3,231.6 L301.3,229.9 L305.3,228.2 L309.3,226.5 L313.3,224.8 L317.3,223.1 L321.3,221.5 L325.3,219.8 L329.3,218.2 L333.3,216.5 L337.3,214.9 L341.3,213.2 L345.3,211.6 L349.3,210 L353.3,208.4 L357.3,206.7 L361.3,205.1 L365.3,203.5 L369.3,202 L373.3,200.4 L377.3,198.8 L381.3,197.2 L385.3,195.7 L389.3,194.1 L393.3,192.5 L397.3,191 L401.3,189.5 L405.3,187.9 L409.3,186.4 L413.3,184.9 L417.3,183.4 L421.3,181.8 L425.3,180.3 L429.3,178.8 L433.3,177.3 L437.3,175.8 L441.3,174.3 L445.3,172.9 L449.3,171.4 L453.3,169.9 L457.3,168.4 L461.3,166.9 L465.3,165.5 L469.3,164 L473.3,162.5 L477.3,161.1 L481.3,159.6 L485.3,158.1 L489.3,156.7 L493.3,155.2 L497.3,153.7 L501.3,152.3 L505.3,150.8 L509.3,149.3 L513.3,147.8 L517.3,146.4 L521.3,144.9 L525.3,143.4 L529.3,141.9 L533.3,140.4 L537.3,138.9 L541.3,137.5 L545.3,135.9 L549.3,134.4 L553.3,132.9 L557.3,131.4 L561.3,129.9 L565.3,128.3 L569.3,126.8 L573.3,125.2 L577.3,123.7 L581.3,122.1 L585.3,120.5 L589.3,118.9 L593.3,117.3 L597.3,115.7 L598.4,115.3 M122.6,305.9 L126.6,304.4 L130.6,303 L134.6,301.5 L138.6,300 L142.6,298.6 L146.6,297.1 L150.6,295.5 L154.6,294 L158.6,292.5 L162.6,291 L166.6,289.4 L170.6,287.9 L174.6,286.3 L178.6,284.8 L182.6,283.2 L186.6,281.6 L190.6,280.1 L194.6,278.5 L198.6,276.9 L202.6,275.3 L206.6,273.7 L210.6,272.1 L214.6,270.5 L218.6,269 L222.6,267.4 L226.6,265.8 L230.6,264.2 L234.6,262.6 L238.6,261 L242.6,259.4 L246.6,257.9 L250.6,256.3 L254.6,254.7 L258.6,253.1 L262.6,251.6 L266.6,250 L270.6,248.4 L274.6,246.9 L278.6,245.3 L282.6,243.7 L286.6,242.1 L290.6,240.4 L294.6,238.8 L298.6,237.2 L302.6,235.5 L306.6,233.9 L310.6,232.3 L314.6,230.7 L318.6,229.1 L322.6,227.5 L326.6,225.9 L330.6,224.3 L334.6,222.7 L338.6,221.1 L342.6,219.6 L346.6,218 L350.6,216.5 L354.6,214.9 L358.6,213.4 L362.6,211.8 L366.6,210.3 L370.6,208.8 L374.6,207.2 L378.6,205.7 L382.6,204.2 L386.6,202.7 L390.6,201.2 L394.6,199.7 L398.6,198.3 L402.6,196.8 L406.6,195.3 L410.6,193.8 L414.6,192.4 L418.6,190.9 L422.6,189.5 L426.6,188 L430.6,186.6 L434.6,185.2 L438.6,183.7 L442.6,182.3 L446.6,180.9 L450.6,179.4 L454.6,178 L458.6,176.6 L462.6,175.2 L466.6,173.8 L470.6,172.4 L474.6,171 L478.6,169.6 L482.6,168.2 L486.6,166.7 L490.6,165.3 L494.6,163.9 L498.6,162.5 L502.6,161.1 L506.6,159.7 L510.6,158.3 L514.6,156.9 L518.6,155.5 L522.6,154 L526.6,152.6 L530.6,151.2 L534.6,149.7 L538.6,148.3 L542.6,146.8 L546.6,145.4 L550.6,143.9 L554.6,142.5 L558.6,141 L562.6,139.5 L566.6,138 L570.6,136.5 L574.6,135 L578.6,133.5 L582.6,131.9 L586.6,130.4 L590.6,128.8 L594.6,127.2 L598.6,125.7 L602.6,124.1 L606.6,122.4 L610.6,120.8 L614.6,119.1 L618.6,117.5 L622.6,115.8 L623.9,115.3 M124.1,307.5 L128.1,306.3 L132.1,305 L136.1,303.7 L140.1,302.4 L144.1,301.1 L148.1,299.7 L152.1,298.4 L156.1,297 L160.1,295.6 L164.1,294.2 L168.1,292.8 L172.1,291.4 L176.1,290 L180.1,288.5 L184.1,287.1 L188.1,285.7 L192.1,284.2 L196.1,282.7 L200.1,281.3 L204.1,279.8 L208.1,278.3 L212.1,276.8 L216.1,275.3 L220.1,273.8 L224.1,272.3 L228.1,270.8 L232.1,269.3 L236.1,267.8 L240.1,266.3 L244.1,264.8 L248.1,263.3 L252.1,261.8 L256.1,260.3 L260.1,258.8 L264.1,257.3 L268.1,255.8 L272.1,254.3 L276.1,252.8 L280.1,251.4 L284.1,249.8 L288.1,248.3 L292.1,246.7 L296.1,245.2 L300.1,243.6 L304.1,242.1 L308.1,240.5 L312.1,239 L316.1,237.5 L320.1,236 L324.1,234.5 L328.1,232.9 L332.1,231.4 L336.1,229.9 L340.1,228.4 L344.1,227 L348.1,225.5 L352.1,224 L356.1,222.5 L360.1,221.1 L364.1,219.6 L368.1,218.2 L372.1,216.7 L376.1,215.3 L380.1,213.9 L384.1,212.4 L388.1,211 L392.1,209.6 L396.1,208.2 L400.1,206.8 L404.1,205.4 L408.1,204 L412.1,202.6 L416.1,201.2 L420.1,199.9 L424.1,198.5 L428.1,197.1 L432.1,195.8 L436.1,194.4 L440.1,193.1 L444.1,191.7 L448.1,190.4 L452.1,189 L456.1,187.7 L460.1,186.3 L464.1,185 L468.1,183.7 L472.1,182.4 L476.1,181 L480.1,179.7 L484.1,178.4 L488.1,177 L492.1,175.7 L496.1,174.4 L500.1,173 L504.1,171.7 L508.1,170.4 L512.1,169 L516.1,167.7 L520.1,166.3 L524.1,165 L528.1,163.6 L532.1,162.3 L536.1,160.9 L540.1,159.5 L544.1,158.2 L548.1,156.8 L552.1,155.4 L556.1,154 L560.1,152.6 L564.1,151.1 L568.1,149.7 L572.1,148.2 L576.1,146.8 L580.1,145.3 L584.1,143.8 L588.1,142.3 L592.1,140.8 L596.1,139.3 L600.1,137.7 L604.1,136.2 L608.1,134.6 L612.1,133 L616.1,131.4 L620.1,129.7 L624.1,128.1 L628.1,126.4 L632.1,124.7 L636.1,122.9 L640.1,121.2 L644.1,119.4 L647,118.1 M125.6,309.3 L129.6,308.2 L133.6,307.1 L137.6,306 L141.6,304.8 L145.6,303.7 L149.6,302.5 L153.6,301.3 L157.6,300 L161.6,298.8 L165.6,297.5 L169.6,296.3 L173.6,295 L177.6,293.7 L181.6,292.4 L185.6,291 L189.6,289.7 L193.6,288.3 L197.6,287 L201.6,285.6 L205.6,284.2 L209.6,282.9 L213.6,281.5 L217.6,280.1 L221.6,278.7 L225.6,277.3 L229.6,275.8 L233.6,274.4 L237.6,273 L241.6,271.6 L245.6,270.2 L249.6,268.7 L253.6,267.3 L257.6,265.9 L261.6,264.5 L265.6,263 L269.6,261.6 L273.6,260.2 L277.6,258.8 L281.6,257.3 L285.6,255.9 L289.6,254.4 L293.6,253 L297.6,251.5 L301.6,250 L305.6,248.6 L309.6,247.1 L313.6,245.7 L317.6,244.3 L321.6,242.8 L325.6,241.4 L329.6,240 L333.6,238.6 L337.6,237.2 L341.6,235.8 L345.6,234.4 L349.6,233 L353.6,231.6 L357.6,230.2 L361.6,228.8 L365.6,227.4 L369.6,226.1 L373.6,224.7 L377.6,223.4 L381.6,222 L385.6,220.7 L389.6,219.3 L393.6,218 L397.6,216.7 L401.6,215.4 L405.6,214.1 L409.6,212.7 L413.6,211.4 L417.6,210.1 L421.6,208.9 L425.6,207.6 L429.6,206.3 L433.6,205 L437.6,203.7 L441.6,202.5 L445.6,201.2 L449.6,199.9 L453.6,198.7 L457.6,197.4 L461.6,196.2 L465.6,194.9 L469.6,193.7 L473.6,192.4 L477.6,191.2 L481.6,189.9 L485.6,188.7 L489.6,187.4 L493.6,186.2 L497.6,184.9 L501.6,183.7 L505.6,182.4 L509.6,181.2 L513.6,179.9 L517.6,178.6 L521.6,177.4 L525.6,176.1 L529.6,174.8 L533.6,173.5 L537.6,172.2 L541.6,170.9 L545.6,169.6 L549.6,168.3 L553.6,167 L557.6,165.6 L561.6,164.3 L565.6,162.9 L569.6,161.6 L573.6,160.2 L577.6,158.8 L581.6,157.4 L585.6,155.9 L589.6,154.5 L593.6,153 L597.6,151.5 L601.6,150 L605.6,148.5 L609.6,146.9 L613.6,145.4 L617.6,143.8 L621.6,142.2 L625.6,140.5 L629.6,138.9 L633.6,137.2 L637.6,135.5 L641.6,133.7 L645.6,131.9 L647,131.3 M127.2,311.5 L131.2,310.6 L135.2,309.6 L139.2,308.7 L143.2,307.7 L147.2,306.7 L151.2,305.7 L155.2,304.7 L159.2,303.6 L163.2,302.5 L167.2,301.4 L171.2,300.2 L175.2,299.1 L179.2,297.9 L183.2,296.7 L187.2,295.5 L191.2,294.3 L195.2,293.1 L199.2,291.9 L203.2,290.6 L207.2,289.3 L211.2,288.1 L215.2,286.8 L219.2,285.5 L223.2,284.2 L227.2,282.9 L231.2,281.6 L235.2,280.2 L239.2,278.9 L243.2,277.6 L247.2,276.3 L251.2,274.9 L255.2,273.6 L259.2,272.2 L263.2,270.9 L267.2,269.5 L271.2,268.2 L275.2,266.8 L279.2,265.5 L283.2,264.1 L287.2,262.7 L291.2,261.4 L295.2,260 L299.2,258.6 L303.2,257.3 L307.2,255.9 L311.2,254.5 L315.2,253.2 L319.2,251.8 L323.2,250.5 L327.2,249.1 L331.2,247.8 L335.2,246.4 L339.2,245.1 L343.2,243.8 L347.2,242.4 L351.2,241.1 L355.2,239.8 L359.2,238.5 L363.2,237.2 L367.2,235.9 L371.2,234.6 L375.2,233.3 L379.2,232.1 L383.2,230.8 L387.2,229.5 L391.2,228.3 L395.2,227 L399.2,225.8 L403.2,224.5 L407.2,223.3 L411.2,222 L415.2,220.8 L419.2,219.6 L423.2,218.4 L427.2,217.2 L431.2,215.9 L435.2,214.7 L439.2,213.5 L443.2,212.3 L447.2,211.2 L451.2,210 L455.2,208.8 L459.2,207.6 L463.2,206.4 L467.2,205.2 L471.2,204 L475.2,202.9 L479.2,201.7 L483.2,200.5 L487.2,199.3 L491.2,198.1 L495.2,197 L499.2,195.8 L503.2,194.6 L507.2,193.4 L511.2,192.2 L515.2,191 L519.2,189.8 L523.2,188.6 L527.2,187.4 L531.2,186.2 L535.2,184.9 L539.2,183.7 L543.2,182.5 L547.2,181.2 L551.2,179.9 L555.2,178.6 L559.2,177.4 L563.2,176.1 L567.2,174.7 L571.2,173.4 L575.2,172.1 L579.2,170.7 L583.2,169.3 L587.2,167.9 L591.2,166.5 L595.2,165.1 L599.2,163.6 L603.2,162.1 L607.2,160.6 L611.2,159.1 L615.2,157.6 L619.2,156 L623.2,154.4 L627.2,152.7 L631.2,151.1 L635.2,149.4 L639.2,147.7 L643.2,145.9 L647,144.2 M128.6,313.5 L132.6,312.8 L136.6,312 L140.6,311.2 L144.6,310.4 L148.6,309.6 L152.6,308.7 L156.6,307.8 L160.6,306.8 L164.6,305.9 L168.6,304.9 L172.6,303.9 L176.6,302.9 L180.6,301.8 L184.6,300.7 L188.6,299.7 L192.6,298.5 L196.6,297.4 L200.6,296.3 L204.6,295.1 L208.6,294 L212.6,292.8 L216.6,291.6 L220.6,290.4 L224.6,289.2 L228.6,288 L232.6,286.7 L236.6,285.5 L240.6,284.2 L244.6,283 L248.6,281.7 L252.6,280.5 L256.6,279.2 L260.6,277.9 L264.6,276.6 L268.6,275.4 L272.6,274.1 L276.6,272.8 L280.6,271.5 L284.6,270.2 L288.6,268.9 L292.6,267.7 L296.6,266.4 L300.6,265.1 L304.6,263.8 L308.6,262.5 L312.6,261.3 L316.6,260 L320.6,258.7 L324.6,257.5 L328.6,256.2 L332.6,254.9 L336.6,253.7 L340.6,252.4 L344.6,251.2 L348.6,250 L352.6,248.7 L356.6,247.5 L360.6,246.3 L364.6,245.1 L368.6,243.8 L372.6,242.6 L376.6,241.4 L380.6,240.2 L384.6,239.1 L388.6,237.9 L392.6,236.7 L396.6,235.5 L400.6,234.4 L404.6,233.2 L408.6,232 L412.6,230.9 L416.6,229.8 L420.6,228.6 L424.6,227.5 L428.6,226.4 L432.6,225.2 L436.6,224.1 L440.6,223 L444.6,221.9 L448.6,220.8 L452.6,219.7 L456.6,218.6 L460.6,217.5 L464.6,216.4 L468.6,215.3 L472.6,214.2 L476.6,213.1 L480.6,212 L484.6,210.9 L488.6,209.8 L492.6,208.7 L496.6,207.6 L500.6,206.5 L504.6,205.4 L508.6,204.2 L512.6,203.1 L516.6,202 L520.6,200.9 L524.6,199.7 L528.6,198.6 L532.6,197.5 L536.6,196.3 L540.6,195.1 L544.6,194 L548.6,192.8 L552.6,191.6 L556.6,190.4 L560.6,189.1 L564.6,187.9 L568.6,186.6 L572.6,185.4 L576.6,184.1 L580.6,182.8 L584.6,181.4 L588.6,180.1 L592.6,178.7 L596.6,177.3 L600.6,175.9 L604.6,174.5 L608.6,173 L612.6,171.5 L616.6,170 L620.6,168.4 L624.6,166.9 L628.6,165.2 L632.6,163.6 L636.6,161.9 L640.6,160.2 L644.6,158.5 L647,157.4" transform="rotate(180 373.6 314.7)"/>
</g>
<path d="M110,300 L126,316 L150,306 L142,290 Z" fill="#000"/>
<path d="M110,300 L126,316 L150,306 L142,290 Z" fill="#000" transform="rotate(180 373.6 314.7)"/>
<line x1="128" y1="315.3" x2="401" y2="315.3" stroke="#5a5a5a" stroke-width="2.2" stroke-dasharray="7.3 3.4 1.4 3.4"/>
<text x="262" y="304" class="th">θ = 19.00 deg.</text>
<path d="M98.4,330 L124,330.8 L113,345 L99.2,357.4 L97,350 L99,340 Z" fill="#f00"/>
<path d="M103,334 l-3,12 M108,333 l-3.5,13 M113,333 l-3,10 M118,333 l-2.5,6" stroke="#fff" stroke-width="0.7" opacity="0.55"/>
<path d="M125,317 C125.9,317.6 127.9,319.1 130.2,320.4 C132.5,321.7 135.1,323.5 138.8,324.7 C142.5,325.9 149,326.5 152.6,327.7 C156.2,328.9 158.3,330.2 160.3,331.6 C162.3,333 163.2,334.2 164.6,335.9 C166,337.6 167.8,339.5 168.9,341.9 C170.1,344.3 171.1,349.1 171.5,350.5" fill="none" stroke="#0000ee" stroke-width="2.6" stroke-linecap="round"/>
<path d="M124,319 C125.2,319.8 128.3,322.2 131,323.5 C133.7,324.8 136.4,326 140,327 C143.6,328 149.3,328.5 152.6,329.5 C155.9,330.5 158.8,332.4 160,333" fill="none" stroke="#0000ee" stroke-width="2.6" stroke-linecap="round"/>
<path d="M123.3,329.9 C125.9,330 133.9,330.5 138.8,330.8 C143.7,331.1 149,331.3 152.6,331.6 C156.2,331.9 159,332.4 160.3,332.5" fill="none" stroke="#0000ee" stroke-width="2.6" stroke-linecap="round"/>
<path d="M621,307 L636,288 L647.7,272 L648,285 L647.7,300.5 Z" fill="#f00"/>
<path d="M632,298 l3,-12 M637,299 l3.5,-14 M642,299 l3,-13 M627,300 l2.5,-7" stroke="#fff" stroke-width="0.7" opacity="0.55"/>
<path d="M575.5,278.9 C575.6,279.9 575.6,283.1 576.3,285 C577,286.9 578.2,288.2 579.8,290.1 C581.4,292 583.4,294 585.8,296.1 C588.2,298.2 590.8,301.3 594.4,303 C598,304.7 603.7,305.4 607.3,306.5 C610.9,307.6 613.5,308.8 615.9,309.9 C618.3,311 620.9,312.7 621.9,313.3" fill="none" stroke="#0000ee" stroke-width="2.6" stroke-linecap="round"/>
<path d="M585.8,296.1 C587.9,296.8 593.7,298.7 598.7,300.4 C603.7,302.1 612,304.6 615.9,306.5 C619.8,308.4 620.9,310.8 621.9,311.6" fill="none" stroke="#0000ee" stroke-width="2.6" stroke-linecap="round"/>
<path d="M590.1,297 C592.2,297.1 598.1,297.5 603,297.8 C607.9,298.1 616.7,298.6 619.4,298.7" fill="none" stroke="#0000ee" stroke-width="2.6" stroke-linecap="round"/>
<path d="M74,302.6 H110.7 A12.5,12.5 0 0 1 110.7,327.6 H74" fill="#fff" stroke="#0000ee" stroke-width="3"/>
<g transform="rotate(180 373.6 314.7)"><path d="M74,302.6 H110.7 A12.5,12.5 0 0 1 110.7,327.6 H74" fill="#fff" stroke="#0000ee" stroke-width="3"/></g>
<text x="84.5" y="73.9" class="pl">(a)</text>
</g>
<path d="M82.1,15 l1.9,4.1 l1.9,-4.1 Z M82.1,614.4 l1.9,-4.1 l1.9,4.1 Z M74,23.1 l4.1,1.9 l-4.1,1.9 Z M673.3,23.1 l-4.1,1.9 l4.1,1.9 Z M92.1,15 l1.9,4.1 l1.9,-4.1 Z M92.1,614.4 l1.9,-4.1 l1.9,4.1 Z M74,33.1 l4.1,1.9 l-4.1,1.9 Z M673.3,33.1 l-4.1,1.9 l4.1,1.9 Z M102.1,15 l1.9,4.1 l1.9,-4.1 Z M102.1,614.4 l1.9,-4.1 l1.9,4.1 Z M74,43.1 l4.1,1.9 l-4.1,1.9 Z M673.3,43.1 l-4.1,1.9 l4.1,1.9 Z M112.1,15 l1.9,4.1 l1.9,-4.1 Z M112.1,614.4 l1.9,-4.1 l1.9,4.1 Z M74,53.1 l4.1,1.9 l-4.1,1.9 Z M673.3,53.1 l-4.1,1.9 l4.1,1.9 Z M122,15 l1.9,4.1 l1.9,-4.1 Z M122,614.4 l1.9,-4.1 l1.9,4.1 Z M74,63.1 l4.1,1.9 l-4.1,1.9 Z M673.3,63.1 l-4.1,1.9 l4.1,1.9 Z M132,15 l1.9,4.1 l1.9,-4.1 Z M132,614.4 l1.9,-4.1 l1.9,4.1 Z M74,73 l4.1,1.9 l-4.1,1.9 Z M673.3,73 l-4.1,1.9 l4.1,1.9 Z M142,15 l1.9,4.1 l1.9,-4.1 Z M142,614.4 l1.9,-4.1 l1.9,4.1 Z M74,83 l4.1,1.9 l-4.1,1.9 Z M673.3,83 l-4.1,1.9 l4.1,1.9 Z M152,15 l1.9,4.1 l1.9,-4.1 Z M152,614.4 l1.9,-4.1 l1.9,4.1 Z M74,93 l4.1,1.9 l-4.1,1.9 Z M673.3,93 l-4.1,1.9 l4.1,1.9 Z M162,15 l1.9,4.1 l1.9,-4.1 Z M162,614.4 l1.9,-4.1 l1.9,4.1 Z M74,103 l4.1,1.9 l-4.1,1.9 Z M673.3,103 l-4.1,1.9 l4.1,1.9 Z M182,15 l1.9,4.1 l1.9,-4.1 Z M182,614.4 l1.9,-4.1 l1.9,4.1 Z M74,123 l4.1,1.9 l-4.1,1.9 Z M673.3,123 l-4.1,1.9 l4.1,1.9 Z M192,15 l1.9,4.1 l1.9,-4.1 Z M192,614.4 l1.9,-4.1 l1.9,4.1 Z M74,133 l4.1,1.9 l-4.1,1.9 Z M673.3,133 l-4.1,1.9 l4.1,1.9 Z M201.9,15 l1.9,4.1 l1.9,-4.1 Z M201.9,614.4 l1.9,-4.1 l1.9,4.1 Z M74,143 l4.1,1.9 l-4.1,1.9 Z M673.3,143 l-4.1,1.9 l4.1,1.9 Z M211.9,15 l1.9,4.1 l1.9,-4.1 Z M211.9,614.4 l1.9,-4.1 l1.9,4.1 Z M74,153 l4.1,1.9 l-4.1,1.9 Z M673.3,153 l-4.1,1.9 l4.1,1.9 Z M221.9,15 l1.9,4.1 l1.9,-4.1 Z M221.9,614.4 l1.9,-4.1 l1.9,4.1 Z M74,162.9 l4.1,1.9 l-4.1,1.9 Z M673.3,162.9 l-4.1,1.9 l4.1,1.9 Z M231.9,15 l1.9,4.1 l1.9,-4.1 Z M231.9,614.4 l1.9,-4.1 l1.9,4.1 Z M74,172.9 l4.1,1.9 l-4.1,1.9 Z M673.3,172.9 l-4.1,1.9 l4.1,1.9 Z M241.9,15 l1.9,4.1 l1.9,-4.1 Z M241.9,614.4 l1.9,-4.1 l1.9,4.1 Z M74,182.9 l4.1,1.9 l-4.1,1.9 Z M673.3,182.9 l-4.1,1.9 l4.1,1.9 Z M251.9,15 l1.9,4.1 l1.9,-4.1 Z M251.9,614.4 l1.9,-4.1 l1.9,4.1 Z M74,192.9 l4.1,1.9 l-4.1,1.9 Z M673.3,192.9 l-4.1,1.9 l4.1,1.9 Z M261.9,15 l1.9,4.1 l1.9,-4.1 Z M261.9,614.4 l1.9,-4.1 l1.9,4.1 Z M74,202.9 l4.1,1.9 l-4.1,1.9 Z M673.3,202.9 l-4.1,1.9 l4.1,1.9 Z M281.9,15 l1.9,4.1 l1.9,-4.1 Z M281.9,614.4 l1.9,-4.1 l1.9,4.1 Z M74,222.9 l4.1,1.9 l-4.1,1.9 Z M673.3,222.9 l-4.1,1.9 l4.1,1.9 Z M291.8,15 l1.9,4.1 l1.9,-4.1 Z M291.8,614.4 l1.9,-4.1 l1.9,4.1 Z M74,232.9 l4.1,1.9 l-4.1,1.9 Z M673.3,232.9 l-4.1,1.9 l4.1,1.9 Z M301.8,15 l1.9,4.1 l1.9,-4.1 Z M301.8,614.4 l1.9,-4.1 l1.9,4.1 Z M74,242.9 l4.1,1.9 l-4.1,1.9 Z M673.3,242.9 l-4.1,1.9 l4.1,1.9 Z M311.8,15 l1.9,4.1 l1.9,-4.1 Z M311.8,614.4 l1.9,-4.1 l1.9,4.1 Z M74,252.9 l4.1,1.9 l-4.1,1.9 Z M673.3,252.9 l-4.1,1.9 l4.1,1.9 Z M321.8,15 l1.9,4.1 l1.9,-4.1 Z M321.8,614.4 l1.9,-4.1 l1.9,4.1 Z M74,262.9 l4.1,1.9 l-4.1,1.9 Z M673.3,262.9 l-4.1,1.9 l4.1,1.9 Z M331.8,15 l1.9,4.1 l1.9,-4.1 Z M331.8,614.4 l1.9,-4.1 l1.9,4.1 Z M74,272.8 l4.1,1.9 l-4.1,1.9 Z M673.3,272.8 l-4.1,1.9 l4.1,1.9 Z M341.8,15 l1.9,4.1 l1.9,-4.1 Z M341.8,614.4 l1.9,-4.1 l1.9,4.1 Z M74,282.8 l4.1,1.9 l-4.1,1.9 Z M673.3,282.8 l-4.1,1.9 l4.1,1.9 Z M351.8,15 l1.9,4.1 l1.9,-4.1 Z M351.8,614.4 l1.9,-4.1 l1.9,4.1 Z M74,292.8 l4.1,1.9 l-4.1,1.9 Z M673.3,292.8 l-4.1,1.9 l4.1,1.9 Z M361.8,15 l1.9,4.1 l1.9,-4.1 Z M361.8,614.4 l1.9,-4.1 l1.9,4.1 Z M74,302.8 l4.1,1.9 l-4.1,1.9 Z M673.3,302.8 l-4.1,1.9 l4.1,1.9 Z M381.7,15 l1.9,4.1 l1.9,-4.1 Z M381.7,614.4 l1.9,-4.1 l1.9,4.1 Z M74,322.8 l4.1,1.9 l-4.1,1.9 Z M673.3,322.8 l-4.1,1.9 l4.1,1.9 Z M391.7,15 l1.9,4.1 l1.9,-4.1 Z M391.7,614.4 l1.9,-4.1 l1.9,4.1 Z M74,332.8 l4.1,1.9 l-4.1,1.9 Z M673.3,332.8 l-4.1,1.9 l4.1,1.9 Z M401.7,15 l1.9,4.1 l1.9,-4.1 Z M401.7,614.4 l1.9,-4.1 l1.9,4.1 Z M74,342.8 l4.1,1.9 l-4.1,1.9 Z M673.3,342.8 l-4.1,1.9 l4.1,1.9 Z M411.7,15 l1.9,4.1 l1.9,-4.1 Z M411.7,614.4 l1.9,-4.1 l1.9,4.1 Z M74,352.8 l4.1,1.9 l-4.1,1.9 Z M673.3,352.8 l-4.1,1.9 l4.1,1.9 Z M421.7,15 l1.9,4.1 l1.9,-4.1 Z M421.7,614.4 l1.9,-4.1 l1.9,4.1 Z M74,362.8 l4.1,1.9 l-4.1,1.9 Z M673.3,362.8 l-4.1,1.9 l4.1,1.9 Z M431.7,15 l1.9,4.1 l1.9,-4.1 Z M431.7,614.4 l1.9,-4.1 l1.9,4.1 Z M74,372.7 l4.1,1.9 l-4.1,1.9 Z M673.3,372.7 l-4.1,1.9 l4.1,1.9 Z M441.7,15 l1.9,4.1 l1.9,-4.1 Z M441.7,614.4 l1.9,-4.1 l1.9,4.1 Z M74,382.7 l4.1,1.9 l-4.1,1.9 Z M673.3,382.7 l-4.1,1.9 l4.1,1.9 Z M451.7,15 l1.9,4.1 l1.9,-4.1 Z M451.7,614.4 l1.9,-4.1 l1.9,4.1 Z M74,392.7 l4.1,1.9 l-4.1,1.9 Z M673.3,392.7 l-4.1,1.9 l4.1,1.9 Z M461.6,15 l1.9,4.1 l1.9,-4.1 Z M461.6,614.4 l1.9,-4.1 l1.9,4.1 Z M74,402.7 l4.1,1.9 l-4.1,1.9 Z M673.3,402.7 l-4.1,1.9 l4.1,1.9 Z M481.6,15 l1.9,4.1 l1.9,-4.1 Z M481.6,614.4 l1.9,-4.1 l1.9,4.1 Z M74,422.7 l4.1,1.9 l-4.1,1.9 Z M673.3,422.7 l-4.1,1.9 l4.1,1.9 Z M491.6,15 l1.9,4.1 l1.9,-4.1 Z M491.6,614.4 l1.9,-4.1 l1.9,4.1 Z M74,432.7 l4.1,1.9 l-4.1,1.9 Z M673.3,432.7 l-4.1,1.9 l4.1,1.9 Z M501.6,15 l1.9,4.1 l1.9,-4.1 Z M501.6,614.4 l1.9,-4.1 l1.9,4.1 Z M74,442.7 l4.1,1.9 l-4.1,1.9 Z M673.3,442.7 l-4.1,1.9 l4.1,1.9 Z M511.6,15 l1.9,4.1 l1.9,-4.1 Z M511.6,614.4 l1.9,-4.1 l1.9,4.1 Z M74,452.7 l4.1,1.9 l-4.1,1.9 Z M673.3,452.7 l-4.1,1.9 l4.1,1.9 Z M521.6,15 l1.9,4.1 l1.9,-4.1 Z M521.6,614.4 l1.9,-4.1 l1.9,4.1 Z M74,462.7 l4.1,1.9 l-4.1,1.9 Z M673.3,462.7 l-4.1,1.9 l4.1,1.9 Z M531.6,15 l1.9,4.1 l1.9,-4.1 Z M531.6,614.4 l1.9,-4.1 l1.9,4.1 Z M74,472.6 l4.1,1.9 l-4.1,1.9 Z M673.3,472.6 l-4.1,1.9 l4.1,1.9 Z M541.6,15 l1.9,4.1 l1.9,-4.1 Z M541.6,614.4 l1.9,-4.1 l1.9,4.1 Z M74,482.6 l4.1,1.9 l-4.1,1.9 Z M673.3,482.6 l-4.1,1.9 l4.1,1.9 Z M551.5,15 l1.9,4.1 l1.9,-4.1 Z M551.5,614.4 l1.9,-4.1 l1.9,4.1 Z M74,492.6 l4.1,1.9 l-4.1,1.9 Z M673.3,492.6 l-4.1,1.9 l4.1,1.9 Z M561.5,15 l1.9,4.1 l1.9,-4.1 Z M561.5,614.4 l1.9,-4.1 l1.9,4.1 Z M74,502.6 l4.1,1.9 l-4.1,1.9 Z M673.3,502.6 l-4.1,1.9 l4.1,1.9 Z M581.5,15 l1.9,4.1 l1.9,-4.1 Z M581.5,614.4 l1.9,-4.1 l1.9,4.1 Z M74,522.6 l4.1,1.9 l-4.1,1.9 Z M673.3,522.6 l-4.1,1.9 l4.1,1.9 Z M591.5,15 l1.9,4.1 l1.9,-4.1 Z M591.5,614.4 l1.9,-4.1 l1.9,4.1 Z M74,532.6 l4.1,1.9 l-4.1,1.9 Z M673.3,532.6 l-4.1,1.9 l4.1,1.9 Z M601.5,15 l1.9,4.1 l1.9,-4.1 Z M601.5,614.4 l1.9,-4.1 l1.9,4.1 Z M74,542.6 l4.1,1.9 l-4.1,1.9 Z M673.3,542.6 l-4.1,1.9 l4.1,1.9 Z M611.5,15 l1.9,4.1 l1.9,-4.1 Z M611.5,614.4 l1.9,-4.1 l1.9,4.1 Z M74,552.6 l4.1,1.9 l-4.1,1.9 Z M673.3,552.6 l-4.1,1.9 l4.1,1.9 Z M621.5,15 l1.9,4.1 l1.9,-4.1 Z M621.5,614.4 l1.9,-4.1 l1.9,4.1 Z M74,562.6 l4.1,1.9 l-4.1,1.9 Z M673.3,562.6 l-4.1,1.9 l4.1,1.9 Z M631.4,15 l1.9,4.1 l1.9,-4.1 Z M631.4,614.4 l1.9,-4.1 l1.9,4.1 Z M74,572.5 l4.1,1.9 l-4.1,1.9 Z M673.3,572.5 l-4.1,1.9 l4.1,1.9 Z M641.4,15 l1.9,4.1 l1.9,-4.1 Z M641.4,614.4 l1.9,-4.1 l1.9,4.1 Z M74,582.5 l4.1,1.9 l-4.1,1.9 Z M673.3,582.5 l-4.1,1.9 l4.1,1.9 Z M651.4,15 l1.9,4.1 l1.9,-4.1 Z M651.4,614.4 l1.9,-4.1 l1.9,4.1 Z M74,592.5 l4.1,1.9 l-4.1,1.9 Z M673.3,592.5 l-4.1,1.9 l4.1,1.9 Z M661.4,15 l1.9,4.1 l1.9,-4.1 Z M661.4,614.4 l1.9,-4.1 l1.9,4.1 Z M74,602.5 l4.1,1.9 l-4.1,1.9 Z M673.3,602.5 l-4.1,1.9 l4.1,1.9 Z" fill="#000"/>
<path d="M173.9,15 v7 M173.9,614.4 v-7 M74,114.9 h7 M673.3,114.9 h-7 M273.8,15 v7 M273.8,614.4 v-7 M74,214.8 h7 M673.3,214.8 h-7 M373.6,15 v7 M373.6,614.4 v-7 M74,314.7 h7 M673.3,314.7 h-7 M473.5,15 v7 M473.5,614.4 v-7 M74,414.6 h7 M673.3,414.6 h-7 M573.4,15 v7 M573.4,614.4 v-7 M74,514.5 h7 M673.3,514.5 h-7" stroke="#000" stroke-width="1.8" fill="none"/>
<rect x="74" y="15" width="599.3" height="599.4" fill="none" stroke="#000" stroke-width="3"/>
<g class="tl"><text x="74" y="641" text-anchor="middle">-12</text><text x="173.9" y="641" text-anchor="middle">-8</text><text x="273.8" y="641" text-anchor="middle">-4</text><text x="373.6" y="641" text-anchor="middle">0</text><text x="473.5" y="641" text-anchor="middle">4</text><text x="573.4" y="641" text-anchor="middle">8</text><text x="673.3" y="641" text-anchor="middle">12</text><text x="67.5" y="622.4" text-anchor="end">-12</text><text x="67.5" y="522.5" text-anchor="end">-8</text><text x="67.5" y="422.6" text-anchor="end">-4</text><text x="67.5" y="322.7" text-anchor="end">0</text><text x="67.5" y="222.8" text-anchor="end">4</text><text x="67.5" y="122.9" text-anchor="end">8</text><text x="67.5" y="23" text-anchor="end">12</text></g>
<text class="at" x="373.6" y="674.5" text-anchor="middle">x/w</text>
<text class="at" transform="translate(28.5,314.7) rotate(-90)" text-anchor="middle">y/w</text>
<rect x="774.8" y="14.8" width="602.7" height="600.8" fill="#0000d4"/>
<path d="M774.8,302.9 H815.6 A12.4,12.4 0 0 1 815.6,327.7 H774.8 Z" fill="#fff" stroke="#111" stroke-width="0.8"/>
<path d="M1377.5,304.5 H1337 A11,11 0 0 0 1337,326.5 H1377.5 Z" fill="#fff" stroke="#111" stroke-width="0.8"/>
<g fill="none" stroke-linecap="round" stroke-linejoin="round"><path d="M995,213.8 C998.3,212.1 1008.5,207 1015,203.7 C1021.5,200.4 1030.8,195.6 1034,194" stroke="#0890f0" stroke-width="3"/><path d="M995,213.8 C998.3,212.1 1008.5,207 1015,203.7 C1021.5,200.4 1030.8,195.6 1034,194" stroke="#10d0f0" stroke-width="1.5"/></g>
<g fill="none" stroke-linecap="round" stroke-linejoin="round"><path d="M823,301 C829.2,297.9 847.2,288.7 860,282.2 C872.8,275.7 886.7,268.8 900,262 C913.3,255.2 926.7,248.5 940,241.7 C953.3,234.9 969.2,226.9 980,221.4 C990.8,215.9 1000.8,210.8 1005,208.7" stroke="#08c8e0" stroke-width="4.6"/><path d="M823,301 C829.2,297.9 847.2,288.7 860,282.2 C872.8,275.7 886.7,268.8 900,262 C913.3,255.2 926.7,248.5 940,241.7 C953.3,234.9 969.2,226.9 980,221.4 C990.8,215.9 1000.8,210.8 1005,208.7" stroke="#10f070" stroke-width="3.3"/><path d="M823,301 C829.2,297.9 847.2,288.7 860,282.2 C872.8,275.7 886.7,268.8 900,262 C913.3,255.2 926.7,248.5 940,241.7 C953.3,234.9 969.2,226.9 980,221.4 C990.8,215.9 1000.8,210.8 1005,208.7" stroke="#50ff30" stroke-width="1.4"/></g>
<g fill="none" stroke-linecap="round" stroke-linejoin="round"><path d="M1060.9,284.4 C1068.2,283.6 1090.2,280.2 1104.5,279.6 C1118.8,279 1131.1,280.8 1146.7,281 C1162.3,281.2 1189.4,281 1197.9,281" stroke="#0890f0" stroke-width="3.2"/><path d="M1060.9,284.4 C1068.2,283.6 1090.2,280.2 1104.5,279.6 C1118.8,279 1131.1,280.8 1146.7,281 C1162.3,281.2 1189.4,281 1197.9,281" stroke="#10d0f0" stroke-width="1.8"/></g>
<g fill="none" stroke-linecap="round" stroke-linejoin="round"><path d="M826,322.5 C830,322.1 841,321 850,320 C859,319 870.2,317.8 880.2,316.5 C890.2,315.2 900,313.7 910,312 C920,310.3 930.4,308.6 940.4,306.5 C950.4,304.4 960,301.9 970,299.5 C980,297.1 990.6,294.5 1000.6,292.4 C1010.6,290.3 1020,288.3 1030,287 C1040,285.7 1052.6,285.2 1060.9,284.4 C1069.2,283.6 1076.8,282.4 1080,282" stroke="#08c8e0" stroke-width="4.6"/><path d="M826,322.5 C830,322.1 841,321 850,320 C859,319 870.2,317.8 880.2,316.5 C890.2,315.2 900,313.7 910,312 C920,310.3 930.4,308.6 940.4,306.5 C950.4,304.4 960,301.9 970,299.5 C980,297.1 990.6,294.5 1000.6,292.4 C1010.6,290.3 1020,288.3 1030,287 C1040,285.7 1052.6,285.2 1060.9,284.4 C1069.2,283.6 1076.8,282.4 1080,282" stroke="#10f070" stroke-width="3.3"/><path d="M826,322.5 C830,322.1 841,321 850,320 C859,319 870.2,317.8 880.2,316.5 C890.2,315.2 900,313.7 910,312 C920,310.3 930.4,308.6 940.4,306.5 C950.4,304.4 960,301.9 970,299.5 C980,297.1 990.6,294.5 1000.6,292.4 C1010.6,290.3 1020,288.3 1030,287 C1040,285.7 1052.6,285.2 1060.9,284.4 C1069.2,283.6 1076.8,282.4 1080,282" stroke="#50ff30" stroke-width="1.4"/></g>
<g fill="none" stroke-linecap="round" stroke-linejoin="round"><path d="M984.1,383.5 C990.1,382.1 1009,377.5 1020,375 C1031,372.5 1045.2,369.5 1050.3,368.4" stroke="#0890f0" stroke-width="3"/><path d="M984.1,383.5 C990.1,382.1 1009,377.5 1020,375 C1031,372.5 1045.2,369.5 1050.3,368.4" stroke="#10d0f0" stroke-width="1.7"/></g>
<g fill="none" stroke-linecap="round" stroke-linejoin="round"><path d="M1040,370.5 C1041.7,370.1 1042.8,369.8 1050.3,368.4 C1057.8,367 1074,364 1085,362 C1096,360 1104.9,359.2 1116.6,356.4 C1128.3,353.6 1142,349.5 1155,345 C1168,340.5 1184.1,333.5 1194.9,329.3 C1205.7,325.1 1212.5,322.3 1220,320 C1227.5,317.7 1232.5,317.2 1240,315.7 C1247.5,314.2 1256.5,312.2 1265,311 C1273.5,309.8 1281,309.2 1291.2,308.2 C1301.4,307.2 1320.2,305.7 1326,305.2" stroke="#08c8e0" stroke-width="4.6"/><path d="M1040,370.5 C1041.7,370.1 1042.8,369.8 1050.3,368.4 C1057.8,367 1074,364 1085,362 C1096,360 1104.9,359.2 1116.6,356.4 C1128.3,353.6 1142,349.5 1155,345 C1168,340.5 1184.1,333.5 1194.9,329.3 C1205.7,325.1 1212.5,322.3 1220,320 C1227.5,317.7 1232.5,317.2 1240,315.7 C1247.5,314.2 1256.5,312.2 1265,311 C1273.5,309.8 1281,309.2 1291.2,308.2 C1301.4,307.2 1320.2,305.7 1326,305.2" stroke="#10f070" stroke-width="3.3"/><path d="M1040,370.5 C1041.7,370.1 1042.8,369.8 1050.3,368.4 C1057.8,367 1074,364 1085,362 C1096,360 1104.9,359.2 1116.6,356.4 C1128.3,353.6 1142,349.5 1155,345 C1168,340.5 1184.1,333.5 1194.9,329.3 C1205.7,325.1 1212.5,322.3 1220,320 C1227.5,317.7 1232.5,317.2 1240,315.7 C1247.5,314.2 1256.5,312.2 1265,311 C1273.5,309.8 1281,309.2 1291.2,308.2 C1301.4,307.2 1320.2,305.7 1326,305.2" stroke="#50ff30" stroke-width="1.4"/></g>
<g fill="none" stroke-linecap="round" stroke-linejoin="round"><path d="M1332,327.8 C1333.5,329.3 1338,333.8 1341,337 C1344,340.2 1348.4,345.6 1349.9,347.3" stroke="#0890f0" stroke-width="2.6"/><path d="M1332,327.8 C1333.5,329.3 1338,333.8 1341,337 C1344,340.2 1348.4,345.6 1349.9,347.3" stroke="#10d0f0" stroke-width="1.3"/></g>
<rect x="1252.6" y="26.1" width="115.2" height="225.2" fill="#fff"/>
<text x="1255.1" y="41.6" class="lg">SDV1</text>
<text x="1255.1" y="58.6" class="lg">(Avg: 75%)</text>
<rect x="1257.6" y="72.6" width="21.5" height="14.7" fill="#ff0000"/>
<rect x="1257.6" y="86.9" width="21.5" height="14.7" fill="#ff5d00"/>
<rect x="1257.6" y="101.3" width="21.5" height="14.7" fill="#ffb900"/>
<rect x="1257.6" y="115.6" width="21.5" height="14.7" fill="#e8ff00"/>
<rect x="1257.6" y="130" width="21.5" height="14.7" fill="#8bff00"/>
<rect x="1257.6" y="144.3" width="21.5" height="14.7" fill="#2eff00"/>
<rect x="1257.6" y="158.7" width="21.5" height="14.7" fill="#00ff2e"/>
<rect x="1257.6" y="173.1" width="21.5" height="14.7" fill="#00ff8b"/>
<rect x="1257.6" y="187.4" width="21.5" height="14.7" fill="#00ffe8"/>
<rect x="1257.6" y="201.8" width="21.5" height="14.7" fill="#00b9ff"/>
<rect x="1257.6" y="216.1" width="21.5" height="14.7" fill="#005dff"/>
<rect x="1257.6" y="230.4" width="21.5" height="14.7" fill="#0000ff"/>
<path d="M1281.1,72.6 h3.5 M1281.1,86.9 h3.5 M1281.1,101.3 h3.5 M1281.1,115.6 h3.5 M1281.1,130 h3.5 M1281.1,144.3 h3.5 M1281.1,158.7 h3.5 M1281.1,173.1 h3.5 M1281.1,187.4 h3.5 M1281.1,201.8 h3.5 M1281.1,216.1 h3.5 M1281.1,230.4 h3.5 M1281.1,244.8 h3.5" stroke="#999" stroke-width="1"/>
<g class="lv"><text x="1293.6" y="77.6">+8.731e-01</text><text x="1293.6" y="91.9">+8.016e-01</text><text x="1293.6" y="106.3">+7.301e-01</text><text x="1293.6" y="120.6">+6.586e-01</text><text x="1293.6" y="135">+5.870e-01</text><text x="1293.6" y="149.3">+5.155e-01</text><text x="1293.6" y="163.7">+4.440e-01</text><text x="1293.6" y="178.1">+3.725e-01</text><text x="1293.6" y="192.4">+3.009e-01</text><text x="1293.6" y="206.8">+2.294e-01</text><text x="1293.6" y="221.1">+1.579e-01</text><text x="1293.6" y="235.4">+8.637e-02</text><text x="1293.6" y="249.8">+1.485e-02</text></g>
<text x="1155" y="52" class="me"><tspan font-style="italic">M</tspan><tspan font-size="11" dy="-8" font-style="italic">e</tspan><tspan dy="8"> = 0.25</tspan></text>
<text x="1155" y="78" class="me"><tspan font-style="italic">ε</tspan> = 4.8%</text>
<text x="786.5" y="68.9" class="pl plw">(b)</text>
<path d="M782.9,14.8 l1.9,3.9 l1.9,-3.9 Z M782.9,615.6 l1.9,-3.9 l1.9,3.9 Z M774.8,22.9 l3.9,1.9 l-3.9,1.9 Z M1377.5,22.9 l-3.9,1.9 l3.9,1.9 Z M793,14.8 l1.9,3.9 l1.9,-3.9 Z M793,615.6 l1.9,-3.9 l1.9,3.9 Z M774.8,32.9 l3.9,1.9 l-3.9,1.9 Z M1377.5,32.9 l-3.9,1.9 l3.9,1.9 Z M803,14.8 l1.9,3.9 l1.9,-3.9 Z M803,615.6 l1.9,-3.9 l1.9,3.9 Z M774.8,42.9 l3.9,1.9 l-3.9,1.9 Z M1377.5,42.9 l-3.9,1.9 l3.9,1.9 Z M813.1,14.8 l1.9,3.9 l1.9,-3.9 Z M813.1,615.6 l1.9,-3.9 l1.9,3.9 Z M774.8,53 l3.9,1.9 l-3.9,1.9 Z M1377.5,53 l-3.9,1.9 l3.9,1.9 Z M823.1,14.8 l1.9,3.9 l1.9,-3.9 Z M823.1,615.6 l1.9,-3.9 l1.9,3.9 Z M774.8,63 l3.9,1.9 l-3.9,1.9 Z M1377.5,63 l-3.9,1.9 l3.9,1.9 Z M833.2,14.8 l1.9,3.9 l1.9,-3.9 Z M833.2,615.6 l1.9,-3.9 l1.9,3.9 Z M774.8,73 l3.9,1.9 l-3.9,1.9 Z M1377.5,73 l-3.9,1.9 l3.9,1.9 Z M843.2,14.8 l1.9,3.9 l1.9,-3.9 Z M843.2,615.6 l1.9,-3.9 l1.9,3.9 Z M774.8,83 l3.9,1.9 l-3.9,1.9 Z M1377.5,83 l-3.9,1.9 l3.9,1.9 Z M853.3,14.8 l1.9,3.9 l1.9,-3.9 Z M853.3,615.6 l1.9,-3.9 l1.9,3.9 Z M774.8,93 l3.9,1.9 l-3.9,1.9 Z M1377.5,93 l-3.9,1.9 l3.9,1.9 Z M863.3,14.8 l1.9,3.9 l1.9,-3.9 Z M863.3,615.6 l1.9,-3.9 l1.9,3.9 Z M774.8,103 l3.9,1.9 l-3.9,1.9 Z M1377.5,103 l-3.9,1.9 l3.9,1.9 Z M883.4,14.8 l1.9,3.9 l1.9,-3.9 Z M883.4,615.6 l1.9,-3.9 l1.9,3.9 Z M774.8,123 l3.9,1.9 l-3.9,1.9 Z M1377.5,123 l-3.9,1.9 l3.9,1.9 Z M893.4,14.8 l1.9,3.9 l1.9,-3.9 Z M893.4,615.6 l1.9,-3.9 l1.9,3.9 Z M774.8,133.1 l3.9,1.9 l-3.9,1.9 Z M1377.5,133.1 l-3.9,1.9 l3.9,1.9 Z M903.5,14.8 l1.9,3.9 l1.9,-3.9 Z M903.5,615.6 l1.9,-3.9 l1.9,3.9 Z M774.8,143.1 l3.9,1.9 l-3.9,1.9 Z M1377.5,143.1 l-3.9,1.9 l3.9,1.9 Z M913.5,14.8 l1.9,3.9 l1.9,-3.9 Z M913.5,615.6 l1.9,-3.9 l1.9,3.9 Z M774.8,153.1 l3.9,1.9 l-3.9,1.9 Z M1377.5,153.1 l-3.9,1.9 l3.9,1.9 Z M923.6,14.8 l1.9,3.9 l1.9,-3.9 Z M923.6,615.6 l1.9,-3.9 l1.9,3.9 Z M774.8,163.1 l3.9,1.9 l-3.9,1.9 Z M1377.5,163.1 l-3.9,1.9 l3.9,1.9 Z M933.6,14.8 l1.9,3.9 l1.9,-3.9 Z M933.6,615.6 l1.9,-3.9 l1.9,3.9 Z M774.8,173.1 l3.9,1.9 l-3.9,1.9 Z M1377.5,173.1 l-3.9,1.9 l3.9,1.9 Z M943.7,14.8 l1.9,3.9 l1.9,-3.9 Z M943.7,615.6 l1.9,-3.9 l1.9,3.9 Z M774.8,183.1 l3.9,1.9 l-3.9,1.9 Z M1377.5,183.1 l-3.9,1.9 l3.9,1.9 Z M953.7,14.8 l1.9,3.9 l1.9,-3.9 Z M953.7,615.6 l1.9,-3.9 l1.9,3.9 Z M774.8,193.1 l3.9,1.9 l-3.9,1.9 Z M1377.5,193.1 l-3.9,1.9 l3.9,1.9 Z M963.8,14.8 l1.9,3.9 l1.9,-3.9 Z M963.8,615.6 l1.9,-3.9 l1.9,3.9 Z M774.8,203.2 l3.9,1.9 l-3.9,1.9 Z M1377.5,203.2 l-3.9,1.9 l3.9,1.9 Z M983.8,14.8 l1.9,3.9 l1.9,-3.9 Z M983.8,615.6 l1.9,-3.9 l1.9,3.9 Z M774.8,223.2 l3.9,1.9 l-3.9,1.9 Z M1377.5,223.2 l-3.9,1.9 l3.9,1.9 Z M993.9,14.8 l1.9,3.9 l1.9,-3.9 Z M993.9,615.6 l1.9,-3.9 l1.9,3.9 Z M774.8,233.2 l3.9,1.9 l-3.9,1.9 Z M1377.5,233.2 l-3.9,1.9 l3.9,1.9 Z M1003.9,14.8 l1.9,3.9 l1.9,-3.9 Z M1003.9,615.6 l1.9,-3.9 l1.9,3.9 Z M774.8,243.2 l3.9,1.9 l-3.9,1.9 Z M1377.5,243.2 l-3.9,1.9 l3.9,1.9 Z M1014,14.8 l1.9,3.9 l1.9,-3.9 Z M1014,615.6 l1.9,-3.9 l1.9,3.9 Z M774.8,253.2 l3.9,1.9 l-3.9,1.9 Z M1377.5,253.2 l-3.9,1.9 l3.9,1.9 Z M1024,14.8 l1.9,3.9 l1.9,-3.9 Z M1024,615.6 l1.9,-3.9 l1.9,3.9 Z M774.8,263.2 l3.9,1.9 l-3.9,1.9 Z M1377.5,263.2 l-3.9,1.9 l3.9,1.9 Z M1034.1,14.8 l1.9,3.9 l1.9,-3.9 Z M1034.1,615.6 l1.9,-3.9 l1.9,3.9 Z M774.8,273.2 l3.9,1.9 l-3.9,1.9 Z M1377.5,273.2 l-3.9,1.9 l3.9,1.9 Z M1044.1,14.8 l1.9,3.9 l1.9,-3.9 Z M1044.1,615.6 l1.9,-3.9 l1.9,3.9 Z M774.8,283.3 l3.9,1.9 l-3.9,1.9 Z M1377.5,283.3 l-3.9,1.9 l3.9,1.9 Z M1054.2,14.8 l1.9,3.9 l1.9,-3.9 Z M1054.2,615.6 l1.9,-3.9 l1.9,3.9 Z M774.8,293.3 l3.9,1.9 l-3.9,1.9 Z M1377.5,293.3 l-3.9,1.9 l3.9,1.9 Z M1064.2,14.8 l1.9,3.9 l1.9,-3.9 Z M1064.2,615.6 l1.9,-3.9 l1.9,3.9 Z M774.8,303.3 l3.9,1.9 l-3.9,1.9 Z M1377.5,303.3 l-3.9,1.9 l3.9,1.9 Z M1084.3,14.8 l1.9,3.9 l1.9,-3.9 Z M1084.3,615.6 l1.9,-3.9 l1.9,3.9 Z M774.8,323.3 l3.9,1.9 l-3.9,1.9 Z M1377.5,323.3 l-3.9,1.9 l3.9,1.9 Z M1094.3,14.8 l1.9,3.9 l1.9,-3.9 Z M1094.3,615.6 l1.9,-3.9 l1.9,3.9 Z M774.8,333.3 l3.9,1.9 l-3.9,1.9 Z M1377.5,333.3 l-3.9,1.9 l3.9,1.9 Z M1104.4,14.8 l1.9,3.9 l1.9,-3.9 Z M1104.4,615.6 l1.9,-3.9 l1.9,3.9 Z M774.8,343.3 l3.9,1.9 l-3.9,1.9 Z M1377.5,343.3 l-3.9,1.9 l3.9,1.9 Z M1114.4,14.8 l1.9,3.9 l1.9,-3.9 Z M1114.4,615.6 l1.9,-3.9 l1.9,3.9 Z M774.8,353.4 l3.9,1.9 l-3.9,1.9 Z M1377.5,353.4 l-3.9,1.9 l3.9,1.9 Z M1124.5,14.8 l1.9,3.9 l1.9,-3.9 Z M1124.5,615.6 l1.9,-3.9 l1.9,3.9 Z M774.8,363.4 l3.9,1.9 l-3.9,1.9 Z M1377.5,363.4 l-3.9,1.9 l3.9,1.9 Z M1134.5,14.8 l1.9,3.9 l1.9,-3.9 Z M1134.5,615.6 l1.9,-3.9 l1.9,3.9 Z M774.8,373.4 l3.9,1.9 l-3.9,1.9 Z M1377.5,373.4 l-3.9,1.9 l3.9,1.9 Z M1144.6,14.8 l1.9,3.9 l1.9,-3.9 Z M1144.6,615.6 l1.9,-3.9 l1.9,3.9 Z M774.8,383.4 l3.9,1.9 l-3.9,1.9 Z M1377.5,383.4 l-3.9,1.9 l3.9,1.9 Z M1154.6,14.8 l1.9,3.9 l1.9,-3.9 Z M1154.6,615.6 l1.9,-3.9 l1.9,3.9 Z M774.8,393.4 l3.9,1.9 l-3.9,1.9 Z M1377.5,393.4 l-3.9,1.9 l3.9,1.9 Z M1164.7,14.8 l1.9,3.9 l1.9,-3.9 Z M1164.7,615.6 l1.9,-3.9 l1.9,3.9 Z M774.8,403.4 l3.9,1.9 l-3.9,1.9 Z M1377.5,403.4 l-3.9,1.9 l3.9,1.9 Z M1184.7,14.8 l1.9,3.9 l1.9,-3.9 Z M1184.7,615.6 l1.9,-3.9 l1.9,3.9 Z M774.8,423.4 l3.9,1.9 l-3.9,1.9 Z M1377.5,423.4 l-3.9,1.9 l3.9,1.9 Z M1194.8,14.8 l1.9,3.9 l1.9,-3.9 Z M1194.8,615.6 l1.9,-3.9 l1.9,3.9 Z M774.8,433.5 l3.9,1.9 l-3.9,1.9 Z M1377.5,433.5 l-3.9,1.9 l3.9,1.9 Z M1204.8,14.8 l1.9,3.9 l1.9,-3.9 Z M1204.8,615.6 l1.9,-3.9 l1.9,3.9 Z M774.8,443.5 l3.9,1.9 l-3.9,1.9 Z M1377.5,443.5 l-3.9,1.9 l3.9,1.9 Z M1214.9,14.8 l1.9,3.9 l1.9,-3.9 Z M1214.9,615.6 l1.9,-3.9 l1.9,3.9 Z M774.8,453.5 l3.9,1.9 l-3.9,1.9 Z M1377.5,453.5 l-3.9,1.9 l3.9,1.9 Z M1224.9,14.8 l1.9,3.9 l1.9,-3.9 Z M1224.9,615.6 l1.9,-3.9 l1.9,3.9 Z M774.8,463.5 l3.9,1.9 l-3.9,1.9 Z M1377.5,463.5 l-3.9,1.9 l3.9,1.9 Z M1235,14.8 l1.9,3.9 l1.9,-3.9 Z M1235,615.6 l1.9,-3.9 l1.9,3.9 Z M774.8,473.5 l3.9,1.9 l-3.9,1.9 Z M1377.5,473.5 l-3.9,1.9 l3.9,1.9 Z M1245,14.8 l1.9,3.9 l1.9,-3.9 Z M1245,615.6 l1.9,-3.9 l1.9,3.9 Z M774.8,483.5 l3.9,1.9 l-3.9,1.9 Z M1377.5,483.5 l-3.9,1.9 l3.9,1.9 Z M1255.1,14.8 l1.9,3.9 l1.9,-3.9 Z M1255.1,615.6 l1.9,-3.9 l1.9,3.9 Z M774.8,493.5 l3.9,1.9 l-3.9,1.9 Z M1377.5,493.5 l-3.9,1.9 l3.9,1.9 Z M1265.1,14.8 l1.9,3.9 l1.9,-3.9 Z M1265.1,615.6 l1.9,-3.9 l1.9,3.9 Z M774.8,503.6 l3.9,1.9 l-3.9,1.9 Z M1377.5,503.6 l-3.9,1.9 l3.9,1.9 Z M1285.2,14.8 l1.9,3.9 l1.9,-3.9 Z M1285.2,615.6 l1.9,-3.9 l1.9,3.9 Z M774.8,523.6 l3.9,1.9 l-3.9,1.9 Z M1377.5,523.6 l-3.9,1.9 l3.9,1.9 Z M1295.2,14.8 l1.9,3.9 l1.9,-3.9 Z M1295.2,615.6 l1.9,-3.9 l1.9,3.9 Z M774.8,533.6 l3.9,1.9 l-3.9,1.9 Z M1377.5,533.6 l-3.9,1.9 l3.9,1.9 Z M1305.3,14.8 l1.9,3.9 l1.9,-3.9 Z M1305.3,615.6 l1.9,-3.9 l1.9,3.9 Z M774.8,543.6 l3.9,1.9 l-3.9,1.9 Z M1377.5,543.6 l-3.9,1.9 l3.9,1.9 Z M1315.3,14.8 l1.9,3.9 l1.9,-3.9 Z M1315.3,615.6 l1.9,-3.9 l1.9,3.9 Z M774.8,553.6 l3.9,1.9 l-3.9,1.9 Z M1377.5,553.6 l-3.9,1.9 l3.9,1.9 Z M1325.4,14.8 l1.9,3.9 l1.9,-3.9 Z M1325.4,615.6 l1.9,-3.9 l1.9,3.9 Z M774.8,563.6 l3.9,1.9 l-3.9,1.9 Z M1377.5,563.6 l-3.9,1.9 l3.9,1.9 Z M1335.4,14.8 l1.9,3.9 l1.9,-3.9 Z M1335.4,615.6 l1.9,-3.9 l1.9,3.9 Z M774.8,573.6 l3.9,1.9 l-3.9,1.9 Z M1377.5,573.6 l-3.9,1.9 l3.9,1.9 Z M1345.5,14.8 l1.9,3.9 l1.9,-3.9 Z M1345.5,615.6 l1.9,-3.9 l1.9,3.9 Z M774.8,583.7 l3.9,1.9 l-3.9,1.9 Z M1377.5,583.7 l-3.9,1.9 l3.9,1.9 Z M1355.5,14.8 l1.9,3.9 l1.9,-3.9 Z M1355.5,615.6 l1.9,-3.9 l1.9,3.9 Z M774.8,593.7 l3.9,1.9 l-3.9,1.9 Z M1377.5,593.7 l-3.9,1.9 l3.9,1.9 Z M1365.6,14.8 l1.9,3.9 l1.9,-3.9 Z M1365.6,615.6 l1.9,-3.9 l1.9,3.9 Z M774.8,603.7 l3.9,1.9 l-3.9,1.9 Z M1377.5,603.7 l-3.9,1.9 l3.9,1.9 Z" fill="#000"/>
<path d="M875.2,14.8 v7 M875.2,615.6 v-7 M774.8,114.9 h7 M1377.5,114.9 h-7 M975.7,14.8 v7 M975.7,615.6 v-7 M774.8,215.1 h7 M1377.5,215.1 h-7 M1076.2,14.8 v7 M1076.2,615.6 v-7 M774.8,315.2 h7 M1377.5,315.2 h-7 M1176.6,14.8 v7 M1176.6,615.6 v-7 M774.8,415.3 h7 M1377.5,415.3 h-7 M1277,14.8 v7 M1277,615.6 v-7 M774.8,515.5 h7 M1377.5,515.5 h-7" stroke="#000" stroke-width="1.8" fill="none"/>
<rect x="774.8" y="14.8" width="602.7" height="600.8" fill="none" stroke="#000" stroke-width="2.5"/>
<g class="tl"><text x="774.8" y="642" text-anchor="middle">-12</text><text x="875.2" y="642" text-anchor="middle">-8</text><text x="975.7" y="642" text-anchor="middle">-4</text><text x="1076.2" y="642" text-anchor="middle">0</text><text x="1176.6" y="642" text-anchor="middle">4</text><text x="1277" y="642" text-anchor="middle">8</text><text x="1377.5" y="642" text-anchor="middle">12</text><text x="768" y="22.8" text-anchor="end">-12</text><text x="768" y="122.9" text-anchor="end">-8</text><text x="768" y="223.1" text-anchor="end">-4</text><text x="768" y="323.2" text-anchor="end">0</text><text x="768" y="423.3" text-anchor="end">4</text><text x="768" y="523.5" text-anchor="end">8</text><text x="768" y="623.6" text-anchor="end">12</text></g>
<text class="at" x="1076.2" y="675" text-anchor="middle">x/w</text>
<text class="at" transform="translate(730.5,315.2) rotate(-90)" text-anchor="middle">y/w</text>
<rect x="73.7" y="706.5" width="597.8" height="600.7" fill="#0000d4"/>
<g fill="none" stroke-linecap="round" stroke-linejoin="round"><path d="M119.3,994.8 C126.1,991.2 146.6,980.1 160,973 C173.4,965.9 186.7,958.8 200,952 C213.3,945.2 226.6,938.7 240,932 C253.4,925.3 267.8,918.2 280.3,912 C292.8,905.8 303.6,900.6 315,895 C326.4,889.4 337.9,884.1 349,878.5 C360.1,872.9 376.2,864.3 381.7,861.5" stroke="#06a8ee" stroke-width="3.6"/><path d="M119.3,994.8 C126.1,991.2 146.6,980.1 160,973 C173.4,965.9 186.7,958.8 200,952 C213.3,945.2 226.6,938.7 240,932 C253.4,925.3 267.8,918.2 280.3,912 C292.8,905.8 303.6,900.6 315,895 C326.4,889.4 337.9,884.1 349,878.5 C360.1,872.9 376.2,864.3 381.7,861.5" stroke="#10d8e0" stroke-width="1.8"/></g>
<g fill="none" stroke-linecap="round" stroke-linejoin="round"><path d="M123.6,1013.5 C128,1013 140.7,1011.8 150,1010.5 C159.3,1009.2 163.8,1008.2 179.5,1005.6 C195.2,1003 222.5,998.4 244,994.8 C265.5,991.2 287.1,987.5 308.6,984.1 C330.1,980.7 355.1,976.5 373,974.2 C390.9,971.9 401.7,970.8 416,970.3 C430.3,969.8 448.2,970.8 459,971.2 C469.8,971.6 474.7,972 480.6,972.5 C486.5,973 487.6,972.9 494.6,974.5 C501.6,976.1 513.2,979.4 522.5,982.2 C531.8,985 541.2,989 550.5,991.5 C559.8,994 570.1,995.9 578.4,997.1 C586.6,998.3 593.2,998.2 600,998.5 C606.8,998.8 616.2,998.9 619.4,999" stroke="#08c8d8" stroke-width="7"/><path d="M123.6,1013.5 C128,1013 140.7,1011.8 150,1010.5 C159.3,1009.2 163.8,1008.2 179.5,1005.6 C195.2,1003 222.5,998.4 244,994.8 C265.5,991.2 287.1,987.5 308.6,984.1 C330.1,980.7 355.1,976.5 373,974.2 C390.9,971.9 401.7,970.8 416,970.3 C430.3,969.8 448.2,970.8 459,971.2 C469.8,971.6 474.7,972 480.6,972.5 C486.5,973 487.6,972.9 494.6,974.5 C501.6,976.1 513.2,979.4 522.5,982.2 C531.8,985 541.2,989 550.5,991.5 C559.8,994 570.1,995.9 578.4,997.1 C586.6,998.3 593.2,998.2 600,998.5 C606.8,998.8 616.2,998.9 619.4,999" stroke="#00e6a0" stroke-width="5"/><path d="M123.6,1013.5 C128,1013 140.7,1011.8 150,1010.5 C159.3,1009.2 163.8,1008.2 179.5,1005.6 C195.2,1003 222.5,998.4 244,994.8 C265.5,991.2 287.1,987.5 308.6,984.1 C330.1,980.7 355.1,976.5 373,974.2 C390.9,971.9 401.7,970.8 416,970.3 C430.3,969.8 448.2,970.8 459,971.2 C469.8,971.6 474.7,972 480.6,972.5 C486.5,973 487.6,972.9 494.6,974.5 C501.6,976.1 513.2,979.4 522.5,982.2 C531.8,985 541.2,989 550.5,991.5 C559.8,994 570.1,995.9 578.4,997.1 C586.6,998.3 593.2,998.2 600,998.5 C606.8,998.8 616.2,998.9 619.4,999" stroke="#10ec5c" stroke-width="2.8"/></g>
<g fill="none" stroke-linecap="round" stroke-linejoin="round"><path d="M111.5,1087 C116.2,1087 130.4,1087.2 140,1087 C149.6,1086.8 152.5,1087.2 168.8,1085.9 C185.1,1084.6 217.4,1081.2 237.6,1079 C257.8,1076.8 274.7,1074.9 290,1073 C305.3,1071.1 314.4,1070 329.4,1067.5 C344.4,1065 364.9,1061.6 380,1058 C395.1,1054.4 407.1,1049.6 420,1045.7 C432.9,1041.8 444.9,1038.8 457.3,1034.4 C469.7,1030 482.2,1024.2 494.6,1019.5 C507,1014.8 522.6,1009.1 531.8,1006.4 C541,1003.6 543.8,1003.8 550,1003 C556.2,1002.2 559.7,1002.3 569.1,1001.8 C578.5,1001.3 598.1,1000.4 606.4,1000 C614.7,999.6 616.9,999.6 619,999.5" stroke="#0aa6ee" stroke-width="3.2"/><path d="M111.5,1087 C116.2,1087 130.4,1087.2 140,1087 C149.6,1086.8 152.5,1087.2 168.8,1085.9 C185.1,1084.6 217.4,1081.2 237.6,1079 C257.8,1076.8 274.7,1074.9 290,1073 C305.3,1071.1 314.4,1070 329.4,1067.5 C344.4,1065 364.9,1061.6 380,1058 C395.1,1054.4 407.1,1049.6 420,1045.7 C432.9,1041.8 444.9,1038.8 457.3,1034.4 C469.7,1030 482.2,1024.2 494.6,1019.5 C507,1014.8 522.6,1009.1 531.8,1006.4 C541,1003.6 543.8,1003.8 550,1003 C556.2,1002.2 559.7,1002.3 569.1,1001.8 C578.5,1001.3 598.1,1000.4 606.4,1000 C614.7,999.6 616.9,999.6 619,999.5" stroke="#12dcd8" stroke-width="1.6"/></g>
<g fill="none" stroke-linecap="round" stroke-linejoin="round"><path d="M329.4,1067.5 C337.8,1065.9 364.9,1061.6 380,1058 C395.1,1054.4 407.1,1049.6 420,1045.7 C432.9,1041.8 444.9,1038.8 457.3,1034.4 C469.7,1030 482.2,1024.2 494.6,1019.5 C507,1014.8 522.6,1009.1 531.8,1006.4 C541,1003.6 543.8,1003.8 550,1003 C556.2,1002.2 559.7,1002.3 569.1,1001.8 C578.5,1001.3 598.1,1000.4 606.4,1000 C614.7,999.6 616.9,999.6 619,999.5" stroke="#0aa6ee" stroke-width="4"/><path d="M329.4,1067.5 C337.8,1065.9 364.9,1061.6 380,1058 C395.1,1054.4 407.1,1049.6 420,1045.7 C432.9,1041.8 444.9,1038.8 457.3,1034.4 C469.7,1030 482.2,1024.2 494.6,1019.5 C507,1014.8 522.6,1009.1 531.8,1006.4 C541,1003.6 543.8,1003.8 550,1003 C556.2,1002.2 559.7,1002.3 569.1,1001.8 C578.5,1001.3 598.1,1000.4 606.4,1000 C614.7,999.6 616.9,999.6 619,999.5" stroke="#12dcd8" stroke-width="2.2"/></g>
<g fill="none" stroke-linecap="round" stroke-linejoin="round"><path d="M420,1045.7 C426.2,1043.8 444.9,1038.8 457.3,1034.4 C469.7,1030 482.2,1024.2 494.6,1019.5 C507,1014.8 522.6,1009.1 531.8,1006.4 C541,1003.6 543.8,1003.8 550,1003 C556.2,1002.2 559.7,1002.3 569.1,1001.8 C578.5,1001.3 598.1,1000.4 606.4,1000 C614.7,999.6 616.9,999.6 619,999.5" stroke="#10c0e4" stroke-width="4.8"/><path d="M420,1045.7 C426.2,1043.8 444.9,1038.8 457.3,1034.4 C469.7,1030 482.2,1024.2 494.6,1019.5 C507,1014.8 522.6,1009.1 531.8,1006.4 C541,1003.6 543.8,1003.8 550,1003 C556.2,1002.2 559.7,1002.3 569.1,1001.8 C578.5,1001.3 598.1,1000.4 606.4,1000 C614.7,999.6 616.9,999.6 619,999.5" stroke="#10e4c4" stroke-width="2.9"/></g>
<g fill="none" stroke-linecap="round" stroke-linejoin="round"><path d="M466.6,975.5 C470.5,976.8 482.2,980.5 490,983 C497.8,985.5 505.7,988.2 513.2,990.5 C520.7,992.8 527.2,994.8 535,996.5 C542.8,998.2 555.8,1000.2 560,1001" stroke="#06a8ee" stroke-width="2.6"/><path d="M466.6,975.5 C470.5,976.8 482.2,980.5 490,983 C497.8,985.5 505.7,988.2 513.2,990.5 C520.7,992.8 527.2,994.8 535,996.5 C542.8,998.2 555.8,1000.2 560,1001" stroke="#10d8e0" stroke-width="1.3"/></g>
<g fill="none" stroke-linecap="round" stroke-linejoin="round"><path d="M489,978.5 C488.2,981.2 485.7,989.8 484,995 C482.3,1000.2 480,1005.9 479,1010 C478,1014.1 478,1017.9 477.8,1019.5" stroke="#0a64ee" stroke-width="2.4"/><path d="M489,978.5 C488.2,981.2 485.7,989.8 484,995 C482.3,1000.2 480,1005.9 479,1010 C478,1014.1 478,1017.9 477.8,1019.5" stroke="#14aef2" stroke-width="1.2"/></g>
<g fill="none" stroke-linecap="round" stroke-linejoin="round"><path d="M509.5,985.9 C508.8,987.9 506.2,993.6 505,998 C503.8,1002.4 502.5,1009.7 502,1012" stroke="#0a64ee" stroke-width="2.4"/><path d="M509.5,985.9 C508.8,987.9 506.2,993.6 505,998 C503.8,1002.4 502.5,1009.7 502,1012" stroke="#14aef2" stroke-width="1.2"/></g>
<g fill="none" stroke-linecap="round" stroke-linejoin="round"><path d="M576.6,943 C576.8,947.5 577.5,961.9 577.5,970 C577.5,978.1 576.8,987.9 576.6,991.5" stroke="#0a64ee" stroke-width="2"/><path d="M576.6,943 C576.8,947.5 577.5,961.9 577.5,970 C577.5,978.1 576.8,987.9 576.6,991.5" stroke="#14aef2" stroke-width="1"/></g>
<g fill="none" stroke-linecap="round" stroke-linejoin="round"><path d="M591.5,1011 C590.4,1013.7 588.1,1021.9 585,1027 C581.9,1032.1 580.3,1035.3 572.8,1041.8 C565.3,1048.3 551.2,1058.2 540,1066 C528.8,1073.8 517.4,1081.6 505.7,1088.4 C494,1095.2 479.3,1102 470,1107 C460.7,1112 453.2,1116.4 449.8,1118.3" stroke="#0a64ee" stroke-width="3"/><path d="M591.5,1011 C590.4,1013.7 588.1,1021.9 585,1027 C581.9,1032.1 580.3,1035.3 572.8,1041.8 C565.3,1048.3 551.2,1058.2 540,1066 C528.8,1073.8 517.4,1081.6 505.7,1088.4 C494,1095.2 479.3,1102 470,1107 C460.7,1112 453.2,1116.4 449.8,1118.3" stroke="#14aef2" stroke-width="1.5"/></g>
<g fill="none" stroke-linecap="round" stroke-linejoin="round"><path d="M593.3,1012 C594.4,1012.9 597.2,1016.2 600,1017.5 C602.8,1018.8 606.5,1019.5 610,1019.5 C613.5,1019.5 619.4,1017.9 621.3,1017.6" stroke="#0a64ee" stroke-width="2.4"/><path d="M593.3,1012 C594.4,1012.9 597.2,1016.2 600,1017.5 C602.8,1018.8 606.5,1019.5 610,1019.5 C613.5,1019.5 619.4,1017.9 621.3,1017.6" stroke="#14aef2" stroke-width="1.2"/></g>
<g fill="none" stroke-linecap="round" stroke-linejoin="round"><path d="M623.2,1017.6 C624.7,1019.2 629.2,1023.9 632,1027 C634.8,1030.1 638.7,1034.7 640,1036.2" stroke="#0a64ee" stroke-width="2.2"/><path d="M623.2,1017.6 C624.7,1019.2 629.2,1023.9 632,1027 C634.8,1030.1 638.7,1034.7 640,1036.2" stroke="#14aef2" stroke-width="1.1"/></g>
<g fill="none" stroke-linecap="round" stroke-linejoin="round"><path d="M565.4,1017.6 C566.7,1016.5 570.5,1012.9 573,1011 C575.5,1009.1 579.1,1007.2 580.3,1006.4" stroke="#0a64ee" stroke-width="2"/><path d="M565.4,1017.6 C566.7,1016.5 570.5,1012.9 573,1011 C575.5,1009.1 579.1,1007.2 580.3,1006.4" stroke="#14aef2" stroke-width="1"/></g>
<path d="M73.7,995.5 H112.8 A12.2,12.2 0 0 1 112.8,1020 H73.7 Z" fill="#fff" stroke="#111" stroke-width="0.8"/>
<path d="M671.5,995.2 H631 A11.6,11.6 0 0 0 631,1018.5 H671.5 Z" fill="#fff" stroke="#111" stroke-width="0.8"/>
<rect x="544" y="716.6" width="118.5" height="225.4" fill="#fff"/>
<text x="546.5" y="732.1" class="lg">SDV1</text>
<text x="546.5" y="749.1" class="lg">(Avg: 75%)</text>
<rect x="549" y="762" width="21.5" height="14.7" fill="#ff0000"/>
<rect x="549" y="776.4" width="21.5" height="14.7" fill="#ff5d00"/>
<rect x="549" y="790.8" width="21.5" height="14.7" fill="#ffb900"/>
<rect x="549" y="805.2" width="21.5" height="14.7" fill="#e8ff00"/>
<rect x="549" y="819.6" width="21.5" height="14.7" fill="#8bff00"/>
<rect x="549" y="834" width="21.5" height="14.7" fill="#2eff00"/>
<rect x="549" y="848.4" width="21.5" height="14.7" fill="#00ff2e"/>
<rect x="549" y="862.8" width="21.5" height="14.7" fill="#00ff8b"/>
<rect x="549" y="877.2" width="21.5" height="14.7" fill="#00ffe8"/>
<rect x="549" y="891.6" width="21.5" height="14.7" fill="#00b9ff"/>
<rect x="549" y="906" width="21.5" height="14.7" fill="#005dff"/>
<rect x="549" y="920.4" width="21.5" height="14.7" fill="#0000ff"/>
<path d="M572.5,762 h3.5 M572.5,776.4 h3.5 M572.5,790.8 h3.5 M572.5,805.2 h3.5 M572.5,819.6 h3.5 M572.5,834 h3.5 M572.5,848.4 h3.5 M572.5,862.8 h3.5 M572.5,877.2 h3.5 M572.5,891.6 h3.5 M572.5,906 h3.5 M572.5,920.4 h3.5 M572.5,934.8 h3.5" stroke="#999" stroke-width="1"/>
<g class="lv"><text x="585" y="767">+2.127e+00</text><text x="585" y="781.4">+1.950e+00</text><text x="585" y="795.8">+1.773e+00</text><text x="585" y="810.2">+1.596e+00</text><text x="585" y="824.6">+1.419e+00</text><text x="585" y="839">+1.242e+00</text><text x="585" y="853.4">+1.065e+00</text><text x="585" y="867.8">+8.875e-01</text><text x="585" y="882.2">+7.105e-01</text><text x="585" y="896.6">+5.335e-01</text><text x="585" y="911">+3.564e-01</text><text x="585" y="925.4">+1.794e-01</text><text x="585" y="939.8">+2.388e-03</text></g>
<text x="449" y="743.5" class="me"><tspan font-style="italic">M</tspan><tspan font-size="12" dy="-9" font-style="italic">e</tspan><tspan dy="9"> = 0.25</tspan></text>
<text x="449" y="770" class="me"><tspan font-style="italic">ε</tspan> = 6.4%</text>
<text x="82.8" y="763.2" class="pl plw">(c)</text>
<path d="M81.8,706.5 l1.9,3.9 l1.9,-3.9 Z M81.8,1307.2 l1.9,-3.9 l1.9,3.9 Z M73.7,714.6 l3.9,1.9 l-3.9,1.9 Z M671.5,714.6 l-3.9,1.9 l3.9,1.9 Z M91.7,706.5 l1.9,3.9 l1.9,-3.9 Z M91.7,1307.2 l1.9,-3.9 l1.9,3.9 Z M73.7,724.6 l3.9,1.9 l-3.9,1.9 Z M671.5,724.6 l-3.9,1.9 l3.9,1.9 Z M101.7,706.5 l1.9,3.9 l1.9,-3.9 Z M101.7,1307.2 l1.9,-3.9 l1.9,3.9 Z M73.7,734.6 l3.9,1.9 l-3.9,1.9 Z M671.5,734.6 l-3.9,1.9 l3.9,1.9 Z M111.7,706.5 l1.9,3.9 l1.9,-3.9 Z M111.7,1307.2 l1.9,-3.9 l1.9,3.9 Z M73.7,744.6 l3.9,1.9 l-3.9,1.9 Z M671.5,744.6 l-3.9,1.9 l3.9,1.9 Z M121.6,706.5 l1.9,3.9 l1.9,-3.9 Z M121.6,1307.2 l1.9,-3.9 l1.9,3.9 Z M73.7,754.7 l3.9,1.9 l-3.9,1.9 Z M671.5,754.7 l-3.9,1.9 l3.9,1.9 Z M131.6,706.5 l1.9,3.9 l1.9,-3.9 Z M131.6,1307.2 l1.9,-3.9 l1.9,3.9 Z M73.7,764.7 l3.9,1.9 l-3.9,1.9 Z M671.5,764.7 l-3.9,1.9 l3.9,1.9 Z M141.5,706.5 l1.9,3.9 l1.9,-3.9 Z M141.5,1307.2 l1.9,-3.9 l1.9,3.9 Z M73.7,774.7 l3.9,1.9 l-3.9,1.9 Z M671.5,774.7 l-3.9,1.9 l3.9,1.9 Z M151.5,706.5 l1.9,3.9 l1.9,-3.9 Z M151.5,1307.2 l1.9,-3.9 l1.9,3.9 Z M73.7,784.7 l3.9,1.9 l-3.9,1.9 Z M671.5,784.7 l-3.9,1.9 l3.9,1.9 Z M161.5,706.5 l1.9,3.9 l1.9,-3.9 Z M161.5,1307.2 l1.9,-3.9 l1.9,3.9 Z M73.7,794.7 l3.9,1.9 l-3.9,1.9 Z M671.5,794.7 l-3.9,1.9 l3.9,1.9 Z M181.4,706.5 l1.9,3.9 l1.9,-3.9 Z M181.4,1307.2 l1.9,-3.9 l1.9,3.9 Z M73.7,814.7 l3.9,1.9 l-3.9,1.9 Z M671.5,814.7 l-3.9,1.9 l3.9,1.9 Z M191.4,706.5 l1.9,3.9 l1.9,-3.9 Z M191.4,1307.2 l1.9,-3.9 l1.9,3.9 Z M73.7,824.7 l3.9,1.9 l-3.9,1.9 Z M671.5,824.7 l-3.9,1.9 l3.9,1.9 Z M201.3,706.5 l1.9,3.9 l1.9,-3.9 Z M201.3,1307.2 l1.9,-3.9 l1.9,3.9 Z M73.7,834.8 l3.9,1.9 l-3.9,1.9 Z M671.5,834.8 l-3.9,1.9 l3.9,1.9 Z M211.3,706.5 l1.9,3.9 l1.9,-3.9 Z M211.3,1307.2 l1.9,-3.9 l1.9,3.9 Z M73.7,844.8 l3.9,1.9 l-3.9,1.9 Z M671.5,844.8 l-3.9,1.9 l3.9,1.9 Z M221.2,706.5 l1.9,3.9 l1.9,-3.9 Z M221.2,1307.2 l1.9,-3.9 l1.9,3.9 Z M73.7,854.8 l3.9,1.9 l-3.9,1.9 Z M671.5,854.8 l-3.9,1.9 l3.9,1.9 Z M231.2,706.5 l1.9,3.9 l1.9,-3.9 Z M231.2,1307.2 l1.9,-3.9 l1.9,3.9 Z M73.7,864.8 l3.9,1.9 l-3.9,1.9 Z M671.5,864.8 l-3.9,1.9 l3.9,1.9 Z M241.2,706.5 l1.9,3.9 l1.9,-3.9 Z M241.2,1307.2 l1.9,-3.9 l1.9,3.9 Z M73.7,874.8 l3.9,1.9 l-3.9,1.9 Z M671.5,874.8 l-3.9,1.9 l3.9,1.9 Z M251.1,706.5 l1.9,3.9 l1.9,-3.9 Z M251.1,1307.2 l1.9,-3.9 l1.9,3.9 Z M73.7,884.8 l3.9,1.9 l-3.9,1.9 Z M671.5,884.8 l-3.9,1.9 l3.9,1.9 Z M261.1,706.5 l1.9,3.9 l1.9,-3.9 Z M261.1,1307.2 l1.9,-3.9 l1.9,3.9 Z M73.7,894.8 l3.9,1.9 l-3.9,1.9 Z M671.5,894.8 l-3.9,1.9 l3.9,1.9 Z M281,706.5 l1.9,3.9 l1.9,-3.9 Z M281,1307.2 l1.9,-3.9 l1.9,3.9 Z M73.7,914.8 l3.9,1.9 l-3.9,1.9 Z M671.5,914.8 l-3.9,1.9 l3.9,1.9 Z M291,706.5 l1.9,3.9 l1.9,-3.9 Z M291,1307.2 l1.9,-3.9 l1.9,3.9 Z M73.7,924.9 l3.9,1.9 l-3.9,1.9 Z M671.5,924.9 l-3.9,1.9 l3.9,1.9 Z M301,706.5 l1.9,3.9 l1.9,-3.9 Z M301,1307.2 l1.9,-3.9 l1.9,3.9 Z M73.7,934.9 l3.9,1.9 l-3.9,1.9 Z M671.5,934.9 l-3.9,1.9 l3.9,1.9 Z M310.9,706.5 l1.9,3.9 l1.9,-3.9 Z M310.9,1307.2 l1.9,-3.9 l1.9,3.9 Z M73.7,944.9 l3.9,1.9 l-3.9,1.9 Z M671.5,944.9 l-3.9,1.9 l3.9,1.9 Z M320.9,706.5 l1.9,3.9 l1.9,-3.9 Z M320.9,1307.2 l1.9,-3.9 l1.9,3.9 Z M73.7,954.9 l3.9,1.9 l-3.9,1.9 Z M671.5,954.9 l-3.9,1.9 l3.9,1.9 Z M330.8,706.5 l1.9,3.9 l1.9,-3.9 Z M330.8,1307.2 l1.9,-3.9 l1.9,3.9 Z M73.7,964.9 l3.9,1.9 l-3.9,1.9 Z M671.5,964.9 l-3.9,1.9 l3.9,1.9 Z M340.8,706.5 l1.9,3.9 l1.9,-3.9 Z M340.8,1307.2 l1.9,-3.9 l1.9,3.9 Z M73.7,974.9 l3.9,1.9 l-3.9,1.9 Z M671.5,974.9 l-3.9,1.9 l3.9,1.9 Z M350.8,706.5 l1.9,3.9 l1.9,-3.9 Z M350.8,1307.2 l1.9,-3.9 l1.9,3.9 Z M73.7,984.9 l3.9,1.9 l-3.9,1.9 Z M671.5,984.9 l-3.9,1.9 l3.9,1.9 Z M360.7,706.5 l1.9,3.9 l1.9,-3.9 Z M360.7,1307.2 l1.9,-3.9 l1.9,3.9 Z M73.7,994.9 l3.9,1.9 l-3.9,1.9 Z M671.5,994.9 l-3.9,1.9 l3.9,1.9 Z M380.7,706.5 l1.9,3.9 l1.9,-3.9 Z M380.7,1307.2 l1.9,-3.9 l1.9,3.9 Z M73.7,1015 l3.9,1.9 l-3.9,1.9 Z M671.5,1015 l-3.9,1.9 l3.9,1.9 Z M390.6,706.5 l1.9,3.9 l1.9,-3.9 Z M390.6,1307.2 l1.9,-3.9 l1.9,3.9 Z M73.7,1025 l3.9,1.9 l-3.9,1.9 Z M671.5,1025 l-3.9,1.9 l3.9,1.9 Z M400.6,706.5 l1.9,3.9 l1.9,-3.9 Z M400.6,1307.2 l1.9,-3.9 l1.9,3.9 Z M73.7,1035 l3.9,1.9 l-3.9,1.9 Z M671.5,1035 l-3.9,1.9 l3.9,1.9 Z M410.6,706.5 l1.9,3.9 l1.9,-3.9 Z M410.6,1307.2 l1.9,-3.9 l1.9,3.9 Z M73.7,1045 l3.9,1.9 l-3.9,1.9 Z M671.5,1045 l-3.9,1.9 l3.9,1.9 Z M420.5,706.5 l1.9,3.9 l1.9,-3.9 Z M420.5,1307.2 l1.9,-3.9 l1.9,3.9 Z M73.7,1055 l3.9,1.9 l-3.9,1.9 Z M671.5,1055 l-3.9,1.9 l3.9,1.9 Z M430.5,706.5 l1.9,3.9 l1.9,-3.9 Z M430.5,1307.2 l1.9,-3.9 l1.9,3.9 Z M73.7,1065 l3.9,1.9 l-3.9,1.9 Z M671.5,1065 l-3.9,1.9 l3.9,1.9 Z M440.4,706.5 l1.9,3.9 l1.9,-3.9 Z M440.4,1307.2 l1.9,-3.9 l1.9,3.9 Z M73.7,1075 l3.9,1.9 l-3.9,1.9 Z M671.5,1075 l-3.9,1.9 l3.9,1.9 Z M450.4,706.5 l1.9,3.9 l1.9,-3.9 Z M450.4,1307.2 l1.9,-3.9 l1.9,3.9 Z M73.7,1085 l3.9,1.9 l-3.9,1.9 Z M671.5,1085 l-3.9,1.9 l3.9,1.9 Z M460.4,706.5 l1.9,3.9 l1.9,-3.9 Z M460.4,1307.2 l1.9,-3.9 l1.9,3.9 Z M73.7,1095.1 l3.9,1.9 l-3.9,1.9 Z M671.5,1095.1 l-3.9,1.9 l3.9,1.9 Z M480.3,706.5 l1.9,3.9 l1.9,-3.9 Z M480.3,1307.2 l1.9,-3.9 l1.9,3.9 Z M73.7,1115.1 l3.9,1.9 l-3.9,1.9 Z M671.5,1115.1 l-3.9,1.9 l3.9,1.9 Z M490.3,706.5 l1.9,3.9 l1.9,-3.9 Z M490.3,1307.2 l1.9,-3.9 l1.9,3.9 Z M73.7,1125.1 l3.9,1.9 l-3.9,1.9 Z M671.5,1125.1 l-3.9,1.9 l3.9,1.9 Z M500.2,706.5 l1.9,3.9 l1.9,-3.9 Z M500.2,1307.2 l1.9,-3.9 l1.9,3.9 Z M73.7,1135.1 l3.9,1.9 l-3.9,1.9 Z M671.5,1135.1 l-3.9,1.9 l3.9,1.9 Z M510.2,706.5 l1.9,3.9 l1.9,-3.9 Z M510.2,1307.2 l1.9,-3.9 l1.9,3.9 Z M73.7,1145.1 l3.9,1.9 l-3.9,1.9 Z M671.5,1145.1 l-3.9,1.9 l3.9,1.9 Z M520.1,706.5 l1.9,3.9 l1.9,-3.9 Z M520.1,1307.2 l1.9,-3.9 l1.9,3.9 Z M73.7,1155.1 l3.9,1.9 l-3.9,1.9 Z M671.5,1155.1 l-3.9,1.9 l3.9,1.9 Z M530.1,706.5 l1.9,3.9 l1.9,-3.9 Z M530.1,1307.2 l1.9,-3.9 l1.9,3.9 Z M73.7,1165.1 l3.9,1.9 l-3.9,1.9 Z M671.5,1165.1 l-3.9,1.9 l3.9,1.9 Z M540.1,706.5 l1.9,3.9 l1.9,-3.9 Z M540.1,1307.2 l1.9,-3.9 l1.9,3.9 Z M73.7,1175.1 l3.9,1.9 l-3.9,1.9 Z M671.5,1175.1 l-3.9,1.9 l3.9,1.9 Z M550,706.5 l1.9,3.9 l1.9,-3.9 Z M550,1307.2 l1.9,-3.9 l1.9,3.9 Z M73.7,1185.2 l3.9,1.9 l-3.9,1.9 Z M671.5,1185.2 l-3.9,1.9 l3.9,1.9 Z M560,706.5 l1.9,3.9 l1.9,-3.9 Z M560,1307.2 l1.9,-3.9 l1.9,3.9 Z M73.7,1195.2 l3.9,1.9 l-3.9,1.9 Z M671.5,1195.2 l-3.9,1.9 l3.9,1.9 Z M579.9,706.5 l1.9,3.9 l1.9,-3.9 Z M579.9,1307.2 l1.9,-3.9 l1.9,3.9 Z M73.7,1215.2 l3.9,1.9 l-3.9,1.9 Z M671.5,1215.2 l-3.9,1.9 l3.9,1.9 Z M589.9,706.5 l1.9,3.9 l1.9,-3.9 Z M589.9,1307.2 l1.9,-3.9 l1.9,3.9 Z M73.7,1225.2 l3.9,1.9 l-3.9,1.9 Z M671.5,1225.2 l-3.9,1.9 l3.9,1.9 Z M599.9,706.5 l1.9,3.9 l1.9,-3.9 Z M599.9,1307.2 l1.9,-3.9 l1.9,3.9 Z M73.7,1235.2 l3.9,1.9 l-3.9,1.9 Z M671.5,1235.2 l-3.9,1.9 l3.9,1.9 Z M609.8,706.5 l1.9,3.9 l1.9,-3.9 Z M609.8,1307.2 l1.9,-3.9 l1.9,3.9 Z M73.7,1245.2 l3.9,1.9 l-3.9,1.9 Z M671.5,1245.2 l-3.9,1.9 l3.9,1.9 Z M619.8,706.5 l1.9,3.9 l1.9,-3.9 Z M619.8,1307.2 l1.9,-3.9 l1.9,3.9 Z M73.7,1255.2 l3.9,1.9 l-3.9,1.9 Z M671.5,1255.2 l-3.9,1.9 l3.9,1.9 Z M629.7,706.5 l1.9,3.9 l1.9,-3.9 Z M629.7,1307.2 l1.9,-3.9 l1.9,3.9 Z M73.7,1265.3 l3.9,1.9 l-3.9,1.9 Z M671.5,1265.3 l-3.9,1.9 l3.9,1.9 Z M639.7,706.5 l1.9,3.9 l1.9,-3.9 Z M639.7,1307.2 l1.9,-3.9 l1.9,3.9 Z M73.7,1275.3 l3.9,1.9 l-3.9,1.9 Z M671.5,1275.3 l-3.9,1.9 l3.9,1.9 Z M649.7,706.5 l1.9,3.9 l1.9,-3.9 Z M649.7,1307.2 l1.9,-3.9 l1.9,3.9 Z M73.7,1285.3 l3.9,1.9 l-3.9,1.9 Z M671.5,1285.3 l-3.9,1.9 l3.9,1.9 Z M659.6,706.5 l1.9,3.9 l1.9,-3.9 Z M659.6,1307.2 l1.9,-3.9 l1.9,3.9 Z M73.7,1295.3 l3.9,1.9 l-3.9,1.9 Z M671.5,1295.3 l-3.9,1.9 l3.9,1.9 Z" fill="#000"/>
<path d="M173.3,706.5 v7 M173.3,1307.2 v-7 M73.7,806.6 h7 M671.5,806.6 h-7 M273,706.5 v7 M273,1307.2 v-7 M73.7,906.7 h7 M671.5,906.7 h-7 M372.6,706.5 v7 M372.6,1307.2 v-7 M73.7,1006.9 h7 M671.5,1006.9 h-7 M472.2,706.5 v7 M472.2,1307.2 v-7 M73.7,1107 h7 M671.5,1107 h-7 M571.9,706.5 v7 M571.9,1307.2 v-7 M73.7,1207.1 h7 M671.5,1207.1 h-7" stroke="#000" stroke-width="1.8" fill="none"/>
<rect x="73.7" y="706.5" width="597.8" height="600.7" fill="none" stroke="#000" stroke-width="2.5"/>
<g class="tl"><text x="73.7" y="1334" text-anchor="middle">-12</text><text x="173.3" y="1334" text-anchor="middle">-8</text><text x="273" y="1334" text-anchor="middle">-4</text><text x="372.6" y="1334" text-anchor="middle">0</text><text x="472.2" y="1334" text-anchor="middle">4</text><text x="571.9" y="1334" text-anchor="middle">8</text><text x="671.5" y="1334" text-anchor="middle">12</text><text x="67" y="714.5" text-anchor="end">-12</text><text x="67" y="814.6" text-anchor="end">-8</text><text x="67" y="914.7" text-anchor="end">-4</text><text x="67" y="1014.9" text-anchor="end">0</text><text x="67" y="1115" text-anchor="end">4</text><text x="67" y="1215.1" text-anchor="end">8</text><text x="67" y="1315.2" text-anchor="end">12</text></g>
<text class="at" x="372.6" y="1366" text-anchor="middle">x/w</text>
<text class="at" transform="translate(30.5,1006.9) rotate(-90)" text-anchor="middle">y/w</text>
<rect x="777.1" y="706.1" width="598.5" height="600.7" fill="#0000d4"/>
<g fill="none" stroke-linecap="round" stroke-linejoin="round"><path d="M826.8,1017.4 C828.7,1019.5 834.1,1025.7 838,1030 C841.9,1034.3 845,1037.9 850,1043.2 C855,1048.5 862,1055.7 868,1062 C874,1068.3 883.1,1077.8 886.1,1081" stroke="#0a64ee" stroke-width="2.6"/><path d="M826.8,1017.4 C828.7,1019.5 834.1,1025.7 838,1030 C841.9,1034.3 845,1037.9 850,1043.2 C855,1048.5 862,1055.7 868,1062 C874,1068.3 883.1,1077.8 886.1,1081" stroke="#14aef2" stroke-width="1.3"/></g>
<g fill="none" stroke-linecap="round" stroke-linejoin="round"><path d="M832.8,1084.5 C834.3,1081.4 838.9,1072.3 842,1066 C845.1,1059.7 849,1052.4 851.7,1046.7 C854.4,1041 855.7,1036.9 858,1032 C860.3,1027.1 862.8,1024.1 865.5,1017.4 C868.2,1010.7 871.1,1000.6 874,992 C876.9,983.4 880.1,971.3 882.7,965.8 C885.3,960.3 888.5,960.1 889.6,959" stroke="#0a64ee" stroke-width="2.6"/><path d="M832.8,1084.5 C834.3,1081.4 838.9,1072.3 842,1066 C845.1,1059.7 849,1052.4 851.7,1046.7 C854.4,1041 855.7,1036.9 858,1032 C860.3,1027.1 862.8,1024.1 865.5,1017.4 C868.2,1010.7 871.1,1000.6 874,992 C876.9,983.4 880.1,971.3 882.7,965.8 C885.3,960.3 888.5,960.1 889.6,959" stroke="#14aef2" stroke-width="1.3"/></g>
<g fill="none" stroke-linecap="round" stroke-linejoin="round"><path d="M881,1074.2 C883,1069.2 889,1054 893,1044 C897,1034 903,1019 905,1014" stroke="#0a64ee" stroke-width="2.4"/><path d="M881,1074.2 C883,1069.2 889,1054 893,1044 C897,1034 903,1019 905,1014" stroke="#14aef2" stroke-width="1.2"/></g>
<g fill="none" stroke-linecap="round" stroke-linejoin="round"><path d="M872.3,1029.5 L886.1,1014" stroke="#0a64ee" stroke-width="2"/><path d="M872.3,1029.5 L886.1,1014" stroke="#14aef2" stroke-width="1"/></g>
<g fill="none" stroke-linecap="round" stroke-linejoin="round"><path d="M836.2,989.9 L848.3,1000.2" stroke="#0a64ee" stroke-width="2"/><path d="M836.2,989.9 L848.3,1000.2" stroke="#14aef2" stroke-width="1"/></g>
<g fill="none" stroke-linecap="round" stroke-linejoin="round"><path d="M867.2,1000.2 L882.7,989.9" stroke="#0a64ee" stroke-width="2"/><path d="M867.2,1000.2 L882.7,989.9" stroke="#14aef2" stroke-width="1"/></g>
<g fill="none" stroke-linecap="round" stroke-linejoin="round"><path d="M973.8,1027.7 C978.2,1029.8 993,1036.3 1000,1040 C1007,1043.7 1008.9,1047.2 1016,1050.1 C1023.1,1053 1038.2,1056.3 1042.7,1057.5" stroke="#0a64ee" stroke-width="2.2"/><path d="M973.8,1027.7 C978.2,1029.8 993,1036.3 1000,1040 C1007,1043.7 1008.9,1047.2 1016,1050.1 C1023.1,1053 1038.2,1056.3 1042.7,1057.5" stroke="#14aef2" stroke-width="1.1"/></g>
<g fill="none" stroke-linecap="round" stroke-linejoin="round"><path d="M1135.1,894.2 C1137.6,899.3 1145.5,915.7 1150,925 C1154.5,934.3 1158.4,942.9 1162,950 C1165.6,957.1 1170.1,964.5 1171.7,967.4" stroke="#0a64ee" stroke-width="2.2"/><path d="M1135.1,894.2 C1137.6,899.3 1145.5,915.7 1150,925 C1154.5,934.3 1158.4,942.9 1162,950 C1165.6,957.1 1170.1,964.5 1171.7,967.4" stroke="#14aef2" stroke-width="1.1"/></g>
<g fill="none" stroke-linecap="round" stroke-linejoin="round"><path d="M1136,900 C1138.9,905.7 1147.5,923.5 1153.2,934.4 C1158.9,945.3 1167.5,960.2 1170.4,965.4" stroke="#0a64ee" stroke-width="2"/><path d="M1136,900 C1138.9,905.7 1147.5,923.5 1153.2,934.4 C1158.9,945.3 1167.5,960.2 1170.4,965.4" stroke="#14aef2" stroke-width="1"/></g>
<g fill="none" stroke-linecap="round" stroke-linejoin="round"><path d="M1176.8,1059.1 C1180.7,1058.1 1192.2,1055.1 1200,1053 C1207.8,1050.9 1213.5,1050.9 1223.4,1046.6 C1233.3,1042.2 1250.9,1032 1259.2,1026.9 C1267.5,1021.8 1271.1,1017.9 1273.5,1016.1" stroke="#0a64ee" stroke-width="2.8"/><path d="M1176.8,1059.1 C1180.7,1058.1 1192.2,1055.1 1200,1053 C1207.8,1050.9 1213.5,1050.9 1223.4,1046.6 C1233.3,1042.2 1250.9,1032 1259.2,1026.9 C1267.5,1021.8 1271.1,1017.9 1273.5,1016.1" stroke="#14aef2" stroke-width="1.4"/></g>
<g fill="none" stroke-linecap="round" stroke-linejoin="round"><path d="M1187.6,986 C1186.5,988.3 1182.2,994.8 1181,1000 C1179.8,1005.2 1178.4,1015.3 1180.7,1017 C1183,1018.7 1190.4,1012.3 1195,1010 C1199.6,1007.7 1206.1,1004.3 1208.3,1003.2" stroke="#0a64ee" stroke-width="2.4"/><path d="M1187.6,986 C1186.5,988.3 1182.2,994.8 1181,1000 C1179.8,1005.2 1178.4,1015.3 1180.7,1017 C1183,1018.7 1190.4,1012.3 1195,1010 C1199.6,1007.7 1206.1,1004.3 1208.3,1003.2" stroke="#14aef2" stroke-width="1.2"/></g>
<g fill="none" stroke-linecap="round" stroke-linejoin="round"><path d="M1211.7,991.2 C1211.4,992.7 1210.6,996.9 1210,1000 C1209.4,1003.1 1208.6,1008.3 1208.3,1010" stroke="#0a64ee" stroke-width="2.2"/><path d="M1211.7,991.2 C1211.4,992.7 1210.6,996.9 1210,1000 C1209.4,1003.1 1208.6,1008.3 1208.3,1010" stroke="#14aef2" stroke-width="1.1"/></g>
<g fill="none" stroke-linecap="round" stroke-linejoin="round"><path d="M1318.4,1020.4 C1320.7,1021.8 1327.4,1026.1 1332,1029 C1336.6,1031.9 1343.6,1036.2 1345.9,1037.6" stroke="#0a64ee" stroke-width="2"/><path d="M1318.4,1020.4 C1320.7,1021.8 1327.4,1026.1 1332,1029 C1336.6,1031.9 1343.6,1036.2 1345.9,1037.6" stroke="#14aef2" stroke-width="1"/></g>
<g fill="none" stroke-linecap="round" stroke-linejoin="round"><path d="M821.8,993.2 C827.7,989.7 845.5,978.1 857.3,972 C869.1,965.9 881,962.1 892.8,956.6 C904.6,951.1 914.5,945.7 928.3,938.8 C942.1,931.9 959.8,923.1 975.6,915.2 C991.4,907.3 1008.8,898.7 1022.9,891.5 C1037,884.3 1049,877.8 1060,871.9 C1071,866 1079.2,862.3 1088.7,856.1 C1098.2,849.9 1107.8,841.8 1117.3,834.6 C1126.8,827.4 1136.4,820 1146,813.1 C1155.6,806.2 1166.3,798.5 1174.7,793 C1183.1,787.5 1189,784.1 1196.2,780.1 C1203.4,776.1 1212.2,772.5 1217.7,768.7 C1223.2,764.9 1227.3,759.1 1229.2,757.2" stroke="#0a64ee" stroke-width="4.4"/><path d="M821.8,993.2 C827.7,989.7 845.5,978.1 857.3,972 C869.1,965.9 881,962.1 892.8,956.6 C904.6,951.1 914.5,945.7 928.3,938.8 C942.1,931.9 959.8,923.1 975.6,915.2 C991.4,907.3 1008.8,898.7 1022.9,891.5 C1037,884.3 1049,877.8 1060,871.9 C1071,866 1079.2,862.3 1088.7,856.1 C1098.2,849.9 1107.8,841.8 1117.3,834.6 C1126.8,827.4 1136.4,820 1146,813.1 C1155.6,806.2 1166.3,798.5 1174.7,793 C1183.1,787.5 1189,784.1 1196.2,780.1 C1203.4,776.1 1212.2,772.5 1217.7,768.7 C1223.2,764.9 1227.3,759.1 1229.2,757.2" stroke="#14aef2" stroke-width="2.4"/></g>
<g fill="none" stroke-linecap="round" stroke-linejoin="round"><path d="M1200.4,709.4 C1202.6,712.3 1210.1,721.7 1213.5,726.8 C1216.9,731.9 1216.8,734.2 1220.6,740 C1224.4,745.8 1232.5,754.3 1236.3,761.5 C1240.1,768.7 1241.1,775.8 1243.5,783 C1245.9,790.2 1248,794.9 1250.7,804.5 C1253.5,814.1 1256.8,829.1 1260,840.4 C1263.2,851.7 1267,861.5 1270.2,872.3 C1273.4,883.1 1276.9,894.6 1278.9,905 C1280.9,915.4 1281.9,923.8 1282.2,934.4 C1282.5,945 1281.4,960.8 1280.5,968.8 C1279.6,976.8 1277.6,980.3 1277,982.6" stroke="#0a64ee" stroke-width="4.2"/><path d="M1200.4,709.4 C1202.6,712.3 1210.1,721.7 1213.5,726.8 C1216.9,731.9 1216.8,734.2 1220.6,740 C1224.4,745.8 1232.5,754.3 1236.3,761.5 C1240.1,768.7 1241.1,775.8 1243.5,783 C1245.9,790.2 1248,794.9 1250.7,804.5 C1253.5,814.1 1256.8,829.1 1260,840.4 C1263.2,851.7 1267,861.5 1270.2,872.3 C1273.4,883.1 1276.9,894.6 1278.9,905 C1280.9,915.4 1281.9,923.8 1282.2,934.4 C1282.5,945 1281.4,960.8 1280.5,968.8 C1279.6,976.8 1277.6,980.3 1277,982.6" stroke="#14aef2" stroke-width="2.3"/></g>
<g fill="none" stroke-linecap="round" stroke-linejoin="round"><path d="M1203.5,709.4 C1205.7,712 1212.6,719.6 1216.5,725 C1220.4,730.4 1225.2,739.2 1227,742" stroke="#0a64ee" stroke-width="3.2"/><path d="M1203.5,709.4 C1205.7,712 1212.6,719.6 1216.5,725 C1220.4,730.4 1225.2,739.2 1227,742" stroke="#14aef2" stroke-width="1.6"/></g>
<g fill="none" stroke-linecap="round" stroke-linejoin="round"><path d="M777,1080 C780.8,1080.5 791.6,1082 800,1083 C808.4,1084 813.3,1086.5 827.6,1086.2 C841.9,1085.9 865.9,1083 886,1081 C906.1,1079 926.3,1076.5 948,1074.2 C969.7,1071.9 994,1070.1 1016,1067.3 C1038,1064.5 1060.4,1061.6 1080,1057.3 C1099.6,1053 1115.9,1046.9 1133.8,1041.2 C1151.7,1035.5 1172.6,1028.1 1187.5,1023.3 C1202.4,1018.5 1211.5,1015.2 1223.4,1012.5 C1235.4,1009.8 1246.4,1008.6 1259.2,1007.2 C1272,1005.8 1293.2,1004.5 1300,1004" stroke="#14b8e4" stroke-width="6.5"/><path d="M777,1080 C780.8,1080.5 791.6,1082 800,1083 C808.4,1084 813.3,1086.5 827.6,1086.2 C841.9,1085.9 865.9,1083 886,1081 C906.1,1079 926.3,1076.5 948,1074.2 C969.7,1071.9 994,1070.1 1016,1067.3 C1038,1064.5 1060.4,1061.6 1080,1057.3 C1099.6,1053 1115.9,1046.9 1133.8,1041.2 C1151.7,1035.5 1172.6,1028.1 1187.5,1023.3 C1202.4,1018.5 1211.5,1015.2 1223.4,1012.5 C1235.4,1009.8 1246.4,1008.6 1259.2,1007.2 C1272,1005.8 1293.2,1004.5 1300,1004" stroke="#12e0cc" stroke-width="3.9"/></g>
<g fill="none" stroke-linecap="round" stroke-linejoin="round"><path d="M1306,1004 C1304.2,1005.1 1297.4,1008.5 1295,1010.8 C1292.6,1013.1 1294.5,1013.7 1291.5,1017.9 C1288.5,1022.1 1284,1028.6 1277.1,1035.8 C1270.2,1043 1259.2,1053.7 1250.3,1060.9 C1241.3,1068.1 1233.9,1072.8 1223.4,1078.9 C1212.9,1085 1202.4,1089.7 1187.5,1097.7 C1172.6,1105.8 1151.7,1116.8 1133.8,1127.2 C1115.9,1137.7 1093.2,1152.2 1080,1160.4 C1066.8,1168.6 1068.6,1168.3 1054.7,1176.4 C1040.8,1184.5 1016,1198.9 996.6,1209 C977.2,1219.1 958,1228.3 938.6,1236.8 C919.2,1245.3 899.9,1253 880.5,1260 C861.1,1267 839,1273.2 822.4,1278.6 C805.8,1284 787.6,1290.3 780.6,1292.6" stroke="#14b8e4" stroke-width="8"/><path d="M1306,1004 C1304.2,1005.1 1297.4,1008.5 1295,1010.8 C1292.6,1013.1 1294.5,1013.7 1291.5,1017.9 C1288.5,1022.1 1284,1028.6 1277.1,1035.8 C1270.2,1043 1259.2,1053.7 1250.3,1060.9 C1241.3,1068.1 1233.9,1072.8 1223.4,1078.9 C1212.9,1085 1202.4,1089.7 1187.5,1097.7 C1172.6,1105.8 1151.7,1116.8 1133.8,1127.2 C1115.9,1137.7 1093.2,1152.2 1080,1160.4 C1066.8,1168.6 1068.6,1168.3 1054.7,1176.4 C1040.8,1184.5 1016,1198.9 996.6,1209 C977.2,1219.1 958,1228.3 938.6,1236.8 C919.2,1245.3 899.9,1253 880.5,1260 C861.1,1267 839,1273.2 822.4,1278.6 C805.8,1284 787.6,1290.3 780.6,1292.6" stroke="#12e0cc" stroke-width="4.8"/></g>
<g fill="none" stroke-linecap="round" stroke-linejoin="round"><path d="M829.3,1008.5 C834.4,1008.1 848.8,1006.8 860,1006 C871.2,1005.2 881.7,1005.2 896.4,1003.7 C911.1,1002.2 928.1,1000.2 948,996.8 C967.9,993.3 994.5,986.5 1016,983 C1037.5,979.5 1057,977.3 1077,975.8 C1097,974.3 1117.6,974 1136,974 C1154.4,974 1173.3,974.3 1187.6,975.7 C1201.9,977.1 1210.5,980 1222,982.6 C1233.5,985.2 1244.9,988.9 1256.4,991.2 C1267.9,993.5 1279.6,994.6 1290.8,996.3 C1302,998 1318,1000.6 1323.5,1001.5" stroke="#12cce0" stroke-width="13.5"/><path d="M829.3,1008.5 C834.4,1008.1 848.8,1006.8 860,1006 C871.2,1005.2 881.7,1005.2 896.4,1003.7 C911.1,1002.2 928.1,1000.2 948,996.8 C967.9,993.3 994.5,986.5 1016,983 C1037.5,979.5 1057,977.3 1077,975.8 C1097,974.3 1117.6,974 1136,974 C1154.4,974 1173.3,974.3 1187.6,975.7 C1201.9,977.1 1210.5,980 1222,982.6 C1233.5,985.2 1244.9,988.9 1256.4,991.2 C1267.9,993.5 1279.6,994.6 1290.8,996.3 C1302,998 1318,1000.6 1323.5,1001.5" stroke="#08e0c4" stroke-width="9.4"/><path d="M829.3,1008.5 C834.4,1008.1 848.8,1006.8 860,1006 C871.2,1005.2 881.7,1005.2 896.4,1003.7 C911.1,1002.2 928.1,1000.2 948,996.8 C967.9,993.3 994.5,986.5 1016,983 C1037.5,979.5 1057,977.3 1077,975.8 C1097,974.3 1117.6,974 1136,974 C1154.4,974 1173.3,974.3 1187.6,975.7 C1201.9,977.1 1210.5,980 1222,982.6 C1233.5,985.2 1244.9,988.9 1256.4,991.2 C1267.9,993.5 1279.6,994.6 1290.8,996.3 C1302,998 1318,1000.6 1323.5,1001.5" stroke="#14e480" stroke-width="4.7"/></g>
<g fill="none" stroke-linecap="round" stroke-linejoin="round"><path d="M1187,985 C1194.2,986.2 1216.2,989.5 1230,992 C1243.8,994.5 1256.7,998 1270,1000 C1283.3,1002 1301.2,1003.2 1310,1004 C1318.8,1004.8 1320.8,1004.8 1323,1005" stroke="#06a8ee" stroke-width="3.2"/><path d="M1187,985 C1194.2,986.2 1216.2,989.5 1230,992 C1243.8,994.5 1256.7,998 1270,1000 C1283.3,1002 1301.2,1003.2 1310,1004 C1318.8,1004.8 1320.8,1004.8 1323,1005" stroke="#10d8e0" stroke-width="1.6"/></g>
<g fill="none" stroke-linecap="round" stroke-linejoin="round"><path d="M1213,990 C1219.2,991.3 1237.2,995 1250,998 C1262.8,1001 1278,1005.7 1290,1008 C1302,1010.3 1316.7,1011.3 1322,1012" stroke="#06a8ee" stroke-width="3.2"/><path d="M1213,990 C1219.2,991.3 1237.2,995 1250,998 C1262.8,1001 1278,1005.7 1290,1008 C1302,1010.3 1316.7,1011.3 1322,1012" stroke="#10d8e0" stroke-width="1.6"/></g>
<g fill="none" stroke-linecap="round" stroke-linejoin="round"><path d="M1230,1000 C1236.7,1001.7 1258.3,1007 1270,1010 C1281.7,1013 1291.3,1016.2 1300,1018 C1308.7,1019.8 1318.3,1020.5 1322,1021" stroke="#06a8ee" stroke-width="3"/><path d="M1230,1000 C1236.7,1001.7 1258.3,1007 1270,1010 C1281.7,1013 1291.3,1016.2 1300,1018 C1308.7,1019.8 1318.3,1020.5 1322,1021" stroke="#10d8e0" stroke-width="1.5"/></g>
<g fill="none" stroke-linecap="round" stroke-linejoin="round"><path d="M1200,992 C1206.7,994 1229.7,1000.3 1240,1004 C1250.3,1007.7 1258.3,1012.3 1262,1014" stroke="#0a64ee" stroke-width="2.4"/><path d="M1200,992 C1206.7,994 1229.7,1000.3 1240,1004 C1250.3,1007.7 1258.3,1012.3 1262,1014" stroke="#14aef2" stroke-width="1.2"/></g>
<g fill="none" stroke-linecap="round" stroke-linejoin="round"><path d="M1296,1008 C1298,1009.2 1304.3,1013.2 1308,1015 C1311.7,1016.8 1316.3,1018.3 1318,1019" stroke="#06a8ee" stroke-width="9"/><path d="M1296,1008 C1298,1009.2 1304.3,1013.2 1308,1015 C1311.7,1016.8 1316.3,1018.3 1318,1019" stroke="#10d8e0" stroke-width="5.4"/></g>
<g fill="none" stroke-linecap="round" stroke-linejoin="round"><path d="M1275.4,900 C1276.5,905.7 1281.4,922.9 1282.2,934.4 C1283,945.9 1281.4,960.8 1280.5,968.8 C1279.6,976.8 1277.6,980.3 1277,982.6" stroke="#0a64ee" stroke-width="3.4"/><path d="M1275.4,900 C1276.5,905.7 1281.4,922.9 1282.2,934.4 C1283,945.9 1281.4,960.8 1280.5,968.8 C1279.6,976.8 1277.6,980.3 1277,982.6" stroke="#14aef2" stroke-width="1.7"/></g>
<path d="M777.1,995 H817.2 A12.1,12.1 0 0 1 817.2,1019.1 H777.1 Z" fill="#fff" stroke="#111" stroke-width="0.8"/>
<path d="M1375.6,994.6 H1335.5 A12.1,12.1 0 0 0 1335.5,1018.7 H1375.6 Z" fill="#fff" stroke="#111" stroke-width="0.8"/>
<rect x="788" y="718.2" width="115.5" height="223.5" fill="#fff"/>
<text x="790.5" y="733.7" class="lg">SDV1</text>
<text x="790.5" y="750.7" class="lg">(Avg: 75%)</text>
<rect x="790.7" y="764.2" width="21.5" height="14.6" fill="#ff0000"/>
<rect x="790.7" y="778.5" width="21.5" height="14.6" fill="#ff5d00"/>
<rect x="790.7" y="792.9" width="21.5" height="14.6" fill="#ffb900"/>
<rect x="790.7" y="807.2" width="21.5" height="14.6" fill="#e8ff00"/>
<rect x="790.7" y="821.6" width="21.5" height="14.6" fill="#8bff00"/>
<rect x="790.7" y="835.9" width="21.5" height="14.6" fill="#2eff00"/>
<rect x="790.7" y="850.2" width="21.5" height="14.6" fill="#00ff2e"/>
<rect x="790.7" y="864.6" width="21.5" height="14.6" fill="#00ff8b"/>
<rect x="790.7" y="878.9" width="21.5" height="14.6" fill="#00ffe8"/>
<rect x="790.7" y="893.3" width="21.5" height="14.6" fill="#00b9ff"/>
<rect x="790.7" y="907.6" width="21.5" height="14.6" fill="#005dff"/>
<rect x="790.7" y="921.9" width="21.5" height="14.6" fill="#0000ff"/>
<path d="M814.2,764.2 h3.5 M814.2,778.5 h3.5 M814.2,792.9 h3.5 M814.2,807.2 h3.5 M814.2,821.6 h3.5 M814.2,835.9 h3.5 M814.2,850.2 h3.5 M814.2,864.6 h3.5 M814.2,878.9 h3.5 M814.2,893.3 h3.5 M814.2,907.6 h3.5 M814.2,921.9 h3.5 M814.2,936.3 h3.5" stroke="#999" stroke-width="1"/>
<g class="lv"><text x="826.7" y="769.2">+2.198e+00</text><text x="826.7" y="783.5">+2.015e+00</text><text x="826.7" y="797.9">+1.832e+00</text><text x="826.7" y="812.2">+1.649e+00</text><text x="826.7" y="826.6">+1.466e+00</text><text x="826.7" y="840.9">+1.283e+00</text><text x="826.7" y="855.2">+1.100e+00</text><text x="826.7" y="869.6">+9.160e-01</text><text x="826.7" y="883.9">+7.330e-01</text><text x="826.7" y="898.3">+5.500e-01</text><text x="826.7" y="912.6">+3.670e-01</text><text x="826.7" y="926.9">+1.840e-01</text><text x="826.7" y="941.3">+1.575e-03</text></g>
<text x="916" y="748" class="me"><tspan font-style="italic">M</tspan><tspan font-size="12" dy="-9" font-style="italic">e</tspan><tspan dy="9"> = 0.25</tspan></text>
<text x="916" y="774" class="me"><tspan font-style="italic">ε</tspan> = 8.1%</text>
<text x="823" y="1124" class="me2">mean θ=21.79°</text>
<text x="1296.5" y="765.6" class="pl plw">(d)</text>
<path d="M785.2,706.1 l1.9,3.9 l1.9,-3.9 Z M785.2,1306.8 l1.9,-3.9 l1.9,3.9 Z M777.1,714.2 l3.9,1.9 l-3.9,1.9 Z M1375.6,714.2 l-3.9,1.9 l3.9,1.9 Z M795.2,706.1 l1.9,3.9 l1.9,-3.9 Z M795.2,1306.8 l1.9,-3.9 l1.9,3.9 Z M777.1,724.2 l3.9,1.9 l-3.9,1.9 Z M1375.6,724.2 l-3.9,1.9 l3.9,1.9 Z M805.1,706.1 l1.9,3.9 l1.9,-3.9 Z M805.1,1306.8 l1.9,-3.9 l1.9,3.9 Z M777.1,734.2 l3.9,1.9 l-3.9,1.9 Z M1375.6,734.2 l-3.9,1.9 l3.9,1.9 Z M815.1,706.1 l1.9,3.9 l1.9,-3.9 Z M815.1,1306.8 l1.9,-3.9 l1.9,3.9 Z M777.1,744.2 l3.9,1.9 l-3.9,1.9 Z M1375.6,744.2 l-3.9,1.9 l3.9,1.9 Z M825.1,706.1 l1.9,3.9 l1.9,-3.9 Z M825.1,1306.8 l1.9,-3.9 l1.9,3.9 Z M777.1,754.3 l3.9,1.9 l-3.9,1.9 Z M1375.6,754.3 l-3.9,1.9 l3.9,1.9 Z M835.1,706.1 l1.9,3.9 l1.9,-3.9 Z M835.1,1306.8 l1.9,-3.9 l1.9,3.9 Z M777.1,764.3 l3.9,1.9 l-3.9,1.9 Z M1375.6,764.3 l-3.9,1.9 l3.9,1.9 Z M845,706.1 l1.9,3.9 l1.9,-3.9 Z M845,1306.8 l1.9,-3.9 l1.9,3.9 Z M777.1,774.3 l3.9,1.9 l-3.9,1.9 Z M1375.6,774.3 l-3.9,1.9 l3.9,1.9 Z M855,706.1 l1.9,3.9 l1.9,-3.9 Z M855,1306.8 l1.9,-3.9 l1.9,3.9 Z M777.1,784.3 l3.9,1.9 l-3.9,1.9 Z M1375.6,784.3 l-3.9,1.9 l3.9,1.9 Z M865,706.1 l1.9,3.9 l1.9,-3.9 Z M865,1306.8 l1.9,-3.9 l1.9,3.9 Z M777.1,794.3 l3.9,1.9 l-3.9,1.9 Z M1375.6,794.3 l-3.9,1.9 l3.9,1.9 Z M884.9,706.1 l1.9,3.9 l1.9,-3.9 Z M884.9,1306.8 l1.9,-3.9 l1.9,3.9 Z M777.1,814.3 l3.9,1.9 l-3.9,1.9 Z M1375.6,814.3 l-3.9,1.9 l3.9,1.9 Z M894.9,706.1 l1.9,3.9 l1.9,-3.9 Z M894.9,1306.8 l1.9,-3.9 l1.9,3.9 Z M777.1,824.3 l3.9,1.9 l-3.9,1.9 Z M1375.6,824.3 l-3.9,1.9 l3.9,1.9 Z M904.9,706.1 l1.9,3.9 l1.9,-3.9 Z M904.9,1306.8 l1.9,-3.9 l1.9,3.9 Z M777.1,834.4 l3.9,1.9 l-3.9,1.9 Z M1375.6,834.4 l-3.9,1.9 l3.9,1.9 Z M914.9,706.1 l1.9,3.9 l1.9,-3.9 Z M914.9,1306.8 l1.9,-3.9 l1.9,3.9 Z M777.1,844.4 l3.9,1.9 l-3.9,1.9 Z M1375.6,844.4 l-3.9,1.9 l3.9,1.9 Z M924.8,706.1 l1.9,3.9 l1.9,-3.9 Z M924.8,1306.8 l1.9,-3.9 l1.9,3.9 Z M777.1,854.4 l3.9,1.9 l-3.9,1.9 Z M1375.6,854.4 l-3.9,1.9 l3.9,1.9 Z M934.8,706.1 l1.9,3.9 l1.9,-3.9 Z M934.8,1306.8 l1.9,-3.9 l1.9,3.9 Z M777.1,864.4 l3.9,1.9 l-3.9,1.9 Z M1375.6,864.4 l-3.9,1.9 l3.9,1.9 Z M944.8,706.1 l1.9,3.9 l1.9,-3.9 Z M944.8,1306.8 l1.9,-3.9 l1.9,3.9 Z M777.1,874.4 l3.9,1.9 l-3.9,1.9 Z M1375.6,874.4 l-3.9,1.9 l3.9,1.9 Z M954.8,706.1 l1.9,3.9 l1.9,-3.9 Z M954.8,1306.8 l1.9,-3.9 l1.9,3.9 Z M777.1,884.4 l3.9,1.9 l-3.9,1.9 Z M1375.6,884.4 l-3.9,1.9 l3.9,1.9 Z M964.7,706.1 l1.9,3.9 l1.9,-3.9 Z M964.7,1306.8 l1.9,-3.9 l1.9,3.9 Z M777.1,894.4 l3.9,1.9 l-3.9,1.9 Z M1375.6,894.4 l-3.9,1.9 l3.9,1.9 Z M984.7,706.1 l1.9,3.9 l1.9,-3.9 Z M984.7,1306.8 l1.9,-3.9 l1.9,3.9 Z M777.1,914.4 l3.9,1.9 l-3.9,1.9 Z M1375.6,914.4 l-3.9,1.9 l3.9,1.9 Z M994.6,706.1 l1.9,3.9 l1.9,-3.9 Z M994.6,1306.8 l1.9,-3.9 l1.9,3.9 Z M777.1,924.5 l3.9,1.9 l-3.9,1.9 Z M1375.6,924.5 l-3.9,1.9 l3.9,1.9 Z M1004.6,706.1 l1.9,3.9 l1.9,-3.9 Z M1004.6,1306.8 l1.9,-3.9 l1.9,3.9 Z M777.1,934.5 l3.9,1.9 l-3.9,1.9 Z M1375.6,934.5 l-3.9,1.9 l3.9,1.9 Z M1014.6,706.1 l1.9,3.9 l1.9,-3.9 Z M1014.6,1306.8 l1.9,-3.9 l1.9,3.9 Z M777.1,944.5 l3.9,1.9 l-3.9,1.9 Z M1375.6,944.5 l-3.9,1.9 l3.9,1.9 Z M1024.6,706.1 l1.9,3.9 l1.9,-3.9 Z M1024.6,1306.8 l1.9,-3.9 l1.9,3.9 Z M777.1,954.5 l3.9,1.9 l-3.9,1.9 Z M1375.6,954.5 l-3.9,1.9 l3.9,1.9 Z M1034.5,706.1 l1.9,3.9 l1.9,-3.9 Z M1034.5,1306.8 l1.9,-3.9 l1.9,3.9 Z M777.1,964.5 l3.9,1.9 l-3.9,1.9 Z M1375.6,964.5 l-3.9,1.9 l3.9,1.9 Z M1044.5,706.1 l1.9,3.9 l1.9,-3.9 Z M1044.5,1306.8 l1.9,-3.9 l1.9,3.9 Z M777.1,974.5 l3.9,1.9 l-3.9,1.9 Z M1375.6,974.5 l-3.9,1.9 l3.9,1.9 Z M1054.5,706.1 l1.9,3.9 l1.9,-3.9 Z M1054.5,1306.8 l1.9,-3.9 l1.9,3.9 Z M777.1,984.5 l3.9,1.9 l-3.9,1.9 Z M1375.6,984.5 l-3.9,1.9 l3.9,1.9 Z M1064.5,706.1 l1.9,3.9 l1.9,-3.9 Z M1064.5,1306.8 l1.9,-3.9 l1.9,3.9 Z M777.1,994.5 l3.9,1.9 l-3.9,1.9 Z M1375.6,994.5 l-3.9,1.9 l3.9,1.9 Z M1084.4,706.1 l1.9,3.9 l1.9,-3.9 Z M1084.4,1306.8 l1.9,-3.9 l1.9,3.9 Z M777.1,1014.6 l3.9,1.9 l-3.9,1.9 Z M1375.6,1014.6 l-3.9,1.9 l3.9,1.9 Z M1094.4,706.1 l1.9,3.9 l1.9,-3.9 Z M1094.4,1306.8 l1.9,-3.9 l1.9,3.9 Z M777.1,1024.6 l3.9,1.9 l-3.9,1.9 Z M1375.6,1024.6 l-3.9,1.9 l3.9,1.9 Z M1104.4,706.1 l1.9,3.9 l1.9,-3.9 Z M1104.4,1306.8 l1.9,-3.9 l1.9,3.9 Z M777.1,1034.6 l3.9,1.9 l-3.9,1.9 Z M1375.6,1034.6 l-3.9,1.9 l3.9,1.9 Z M1114.3,706.1 l1.9,3.9 l1.9,-3.9 Z M1114.3,1306.8 l1.9,-3.9 l1.9,3.9 Z M777.1,1044.6 l3.9,1.9 l-3.9,1.9 Z M1375.6,1044.6 l-3.9,1.9 l3.9,1.9 Z M1124.3,706.1 l1.9,3.9 l1.9,-3.9 Z M1124.3,1306.8 l1.9,-3.9 l1.9,3.9 Z M777.1,1054.6 l3.9,1.9 l-3.9,1.9 Z M1375.6,1054.6 l-3.9,1.9 l3.9,1.9 Z M1134.3,706.1 l1.9,3.9 l1.9,-3.9 Z M1134.3,1306.8 l1.9,-3.9 l1.9,3.9 Z M777.1,1064.6 l3.9,1.9 l-3.9,1.9 Z M1375.6,1064.6 l-3.9,1.9 l3.9,1.9 Z M1144.3,706.1 l1.9,3.9 l1.9,-3.9 Z M1144.3,1306.8 l1.9,-3.9 l1.9,3.9 Z M777.1,1074.6 l3.9,1.9 l-3.9,1.9 Z M1375.6,1074.6 l-3.9,1.9 l3.9,1.9 Z M1154.2,706.1 l1.9,3.9 l1.9,-3.9 Z M1154.2,1306.8 l1.9,-3.9 l1.9,3.9 Z M777.1,1084.6 l3.9,1.9 l-3.9,1.9 Z M1375.6,1084.6 l-3.9,1.9 l3.9,1.9 Z M1164.2,706.1 l1.9,3.9 l1.9,-3.9 Z M1164.2,1306.8 l1.9,-3.9 l1.9,3.9 Z M777.1,1094.7 l3.9,1.9 l-3.9,1.9 Z M1375.6,1094.7 l-3.9,1.9 l3.9,1.9 Z M1184.2,706.1 l1.9,3.9 l1.9,-3.9 Z M1184.2,1306.8 l1.9,-3.9 l1.9,3.9 Z M777.1,1114.7 l3.9,1.9 l-3.9,1.9 Z M1375.6,1114.7 l-3.9,1.9 l3.9,1.9 Z M1194.1,706.1 l1.9,3.9 l1.9,-3.9 Z M1194.1,1306.8 l1.9,-3.9 l1.9,3.9 Z M777.1,1124.7 l3.9,1.9 l-3.9,1.9 Z M1375.6,1124.7 l-3.9,1.9 l3.9,1.9 Z M1204.1,706.1 l1.9,3.9 l1.9,-3.9 Z M1204.1,1306.8 l1.9,-3.9 l1.9,3.9 Z M777.1,1134.7 l3.9,1.9 l-3.9,1.9 Z M1375.6,1134.7 l-3.9,1.9 l3.9,1.9 Z M1214.1,706.1 l1.9,3.9 l1.9,-3.9 Z M1214.1,1306.8 l1.9,-3.9 l1.9,3.9 Z M777.1,1144.7 l3.9,1.9 l-3.9,1.9 Z M1375.6,1144.7 l-3.9,1.9 l3.9,1.9 Z M1224.1,706.1 l1.9,3.9 l1.9,-3.9 Z M1224.1,1306.8 l1.9,-3.9 l1.9,3.9 Z M777.1,1154.7 l3.9,1.9 l-3.9,1.9 Z M1375.6,1154.7 l-3.9,1.9 l3.9,1.9 Z M1234,706.1 l1.9,3.9 l1.9,-3.9 Z M1234,1306.8 l1.9,-3.9 l1.9,3.9 Z M777.1,1164.7 l3.9,1.9 l-3.9,1.9 Z M1375.6,1164.7 l-3.9,1.9 l3.9,1.9 Z M1244,706.1 l1.9,3.9 l1.9,-3.9 Z M1244,1306.8 l1.9,-3.9 l1.9,3.9 Z M777.1,1174.7 l3.9,1.9 l-3.9,1.9 Z M1375.6,1174.7 l-3.9,1.9 l3.9,1.9 Z M1254,706.1 l1.9,3.9 l1.9,-3.9 Z M1254,1306.8 l1.9,-3.9 l1.9,3.9 Z M777.1,1184.8 l3.9,1.9 l-3.9,1.9 Z M1375.6,1184.8 l-3.9,1.9 l3.9,1.9 Z M1264,706.1 l1.9,3.9 l1.9,-3.9 Z M1264,1306.8 l1.9,-3.9 l1.9,3.9 Z M777.1,1194.8 l3.9,1.9 l-3.9,1.9 Z M1375.6,1194.8 l-3.9,1.9 l3.9,1.9 Z M1283.9,706.1 l1.9,3.9 l1.9,-3.9 Z M1283.9,1306.8 l1.9,-3.9 l1.9,3.9 Z M777.1,1214.8 l3.9,1.9 l-3.9,1.9 Z M1375.6,1214.8 l-3.9,1.9 l3.9,1.9 Z M1293.9,706.1 l1.9,3.9 l1.9,-3.9 Z M1293.9,1306.8 l1.9,-3.9 l1.9,3.9 Z M777.1,1224.8 l3.9,1.9 l-3.9,1.9 Z M1375.6,1224.8 l-3.9,1.9 l3.9,1.9 Z M1303.9,706.1 l1.9,3.9 l1.9,-3.9 Z M1303.9,1306.8 l1.9,-3.9 l1.9,3.9 Z M777.1,1234.8 l3.9,1.9 l-3.9,1.9 Z M1375.6,1234.8 l-3.9,1.9 l3.9,1.9 Z M1313.8,706.1 l1.9,3.9 l1.9,-3.9 Z M1313.8,1306.8 l1.9,-3.9 l1.9,3.9 Z M777.1,1244.8 l3.9,1.9 l-3.9,1.9 Z M1375.6,1244.8 l-3.9,1.9 l3.9,1.9 Z M1323.8,706.1 l1.9,3.9 l1.9,-3.9 Z M1323.8,1306.8 l1.9,-3.9 l1.9,3.9 Z M777.1,1254.8 l3.9,1.9 l-3.9,1.9 Z M1375.6,1254.8 l-3.9,1.9 l3.9,1.9 Z M1333.8,706.1 l1.9,3.9 l1.9,-3.9 Z M1333.8,1306.8 l1.9,-3.9 l1.9,3.9 Z M777.1,1264.9 l3.9,1.9 l-3.9,1.9 Z M1375.6,1264.9 l-3.9,1.9 l3.9,1.9 Z M1343.8,706.1 l1.9,3.9 l1.9,-3.9 Z M1343.8,1306.8 l1.9,-3.9 l1.9,3.9 Z M777.1,1274.9 l3.9,1.9 l-3.9,1.9 Z M1375.6,1274.9 l-3.9,1.9 l3.9,1.9 Z M1353.7,706.1 l1.9,3.9 l1.9,-3.9 Z M1353.7,1306.8 l1.9,-3.9 l1.9,3.9 Z M777.1,1284.9 l3.9,1.9 l-3.9,1.9 Z M1375.6,1284.9 l-3.9,1.9 l3.9,1.9 Z M1363.7,706.1 l1.9,3.9 l1.9,-3.9 Z M1363.7,1306.8 l1.9,-3.9 l1.9,3.9 Z M777.1,1294.9 l3.9,1.9 l-3.9,1.9 Z M1375.6,1294.9 l-3.9,1.9 l3.9,1.9 Z" fill="#000"/>
<path d="M876.9,706.1 v7 M876.9,1306.8 v-7 M777.1,806.2 h7 M1375.6,806.2 h-7 M976.6,706.1 v7 M976.6,1306.8 v-7 M777.1,906.3 h7 M1375.6,906.3 h-7 M1076.3,706.1 v7 M1076.3,1306.8 v-7 M777.1,1006.5 h7 M1375.6,1006.5 h-7 M1176.1,706.1 v7 M1176.1,1306.8 v-7 M777.1,1106.6 h7 M1375.6,1106.6 h-7 M1275.8,706.1 v7 M1275.8,1306.8 v-7 M777.1,1206.7 h7 M1375.6,1206.7 h-7" stroke="#000" stroke-width="1.8" fill="none"/>
<rect x="777.1" y="706.1" width="598.5" height="600.7" fill="none" stroke="#000" stroke-width="2.5"/>
<g class="tl"><text x="777.1" y="1334" text-anchor="middle">-12</text><text x="876.9" y="1334" text-anchor="middle">-8</text><text x="976.6" y="1334" text-anchor="middle">-4</text><text x="1076.3" y="1334" text-anchor="middle">0</text><text x="1176.1" y="1334" text-anchor="middle">4</text><text x="1275.8" y="1334" text-anchor="middle">8</text><text x="1375.6" y="1334" text-anchor="middle">12</text><text x="770" y="714.1" text-anchor="end">-12</text><text x="770" y="814.2" text-anchor="end">-8</text><text x="770" y="914.3" text-anchor="end">-4</text><text x="770" y="1014.5" text-anchor="end">0</text><text x="770" y="1114.6" text-anchor="end">4</text><text x="770" y="1214.7" text-anchor="end">8</text><text x="770" y="1314.8" text-anchor="end">12</text></g>
<text class="at" x="1076.3" y="1366" text-anchor="middle">x/w</text>
<text class="at" transform="translate(733,989) rotate(-90)" text-anchor="middle">y/w</text></svg></div></body></html>
